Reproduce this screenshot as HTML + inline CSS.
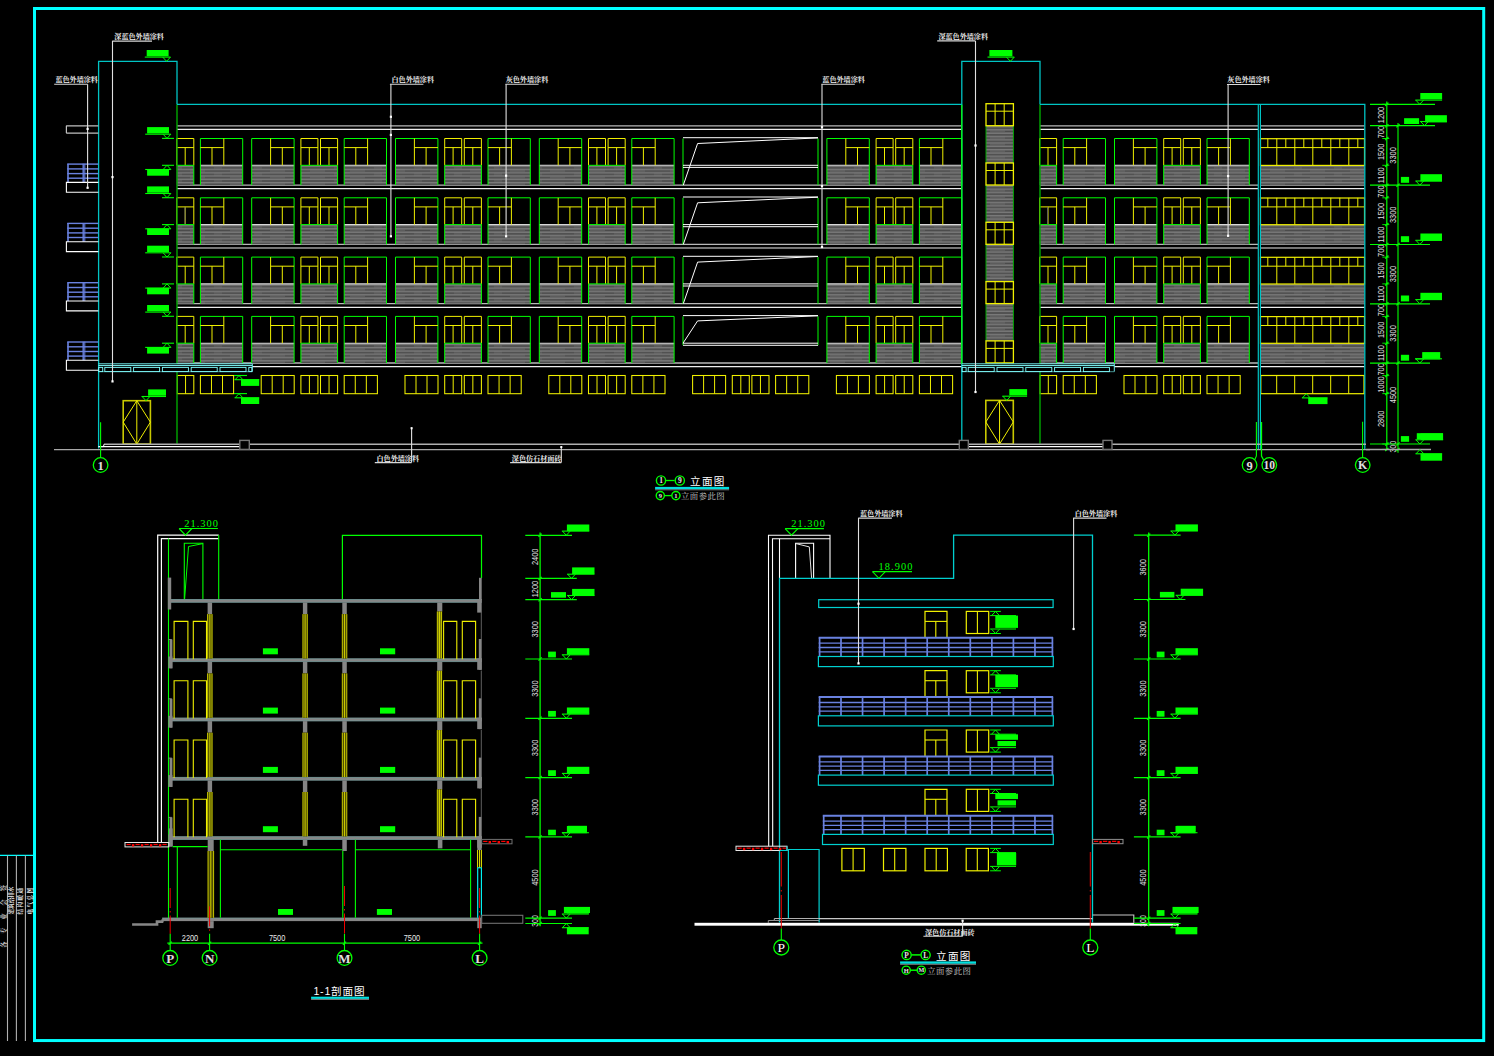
<!DOCTYPE html>
<html><head><meta charset="utf-8"><title>立面图</title>
<style>html,body{margin:0;padding:0;background:#000;}body{width:1494px;height:1056px;overflow:hidden}svg{display:block}</style>
</head><body>
<svg width="1494" height="1056" viewBox="0 0 1494 1056">
<defs>
<pattern id="hatch" width="40" height="6.6" patternUnits="userSpaceOnUse">
<rect width="40" height="6.6" fill="#5c5c5c"/>
<path d="M0 1.1H40M0 4.4H40" stroke="#848484" stroke-width="1"/>
<path d="M0 2.8H14M22 2.8H40M5 6H30" stroke="#444444" stroke-width="0.9"/>
</pattern>
</defs>
<rect width="1494" height="1056" fill="#000"/>
<line x1="177" y1="125.8" x2="962" y2="125.8" stroke="#b8b8b8" stroke-width="1.3"/>
<line x1="177" y1="129.4" x2="962" y2="129.4" stroke="#ececec" stroke-width="1.2"/>
<line x1="1040" y1="125.8" x2="1258" y2="125.8" stroke="#b8b8b8" stroke-width="1.3"/>
<line x1="1040" y1="129.4" x2="1258" y2="129.4" stroke="#ececec" stroke-width="1.2"/>
<line x1="1260.5" y1="125.8" x2="1364.5" y2="125.8" stroke="#b8b8b8" stroke-width="1.3"/>
<line x1="1260.5" y1="129.4" x2="1364.5" y2="129.4" stroke="#ececec" stroke-width="1.2"/>
<line x1="177" y1="185.1" x2="962" y2="185.1" stroke="#b8b8b8" stroke-width="1.3"/>
<line x1="177" y1="188.7" x2="962" y2="188.7" stroke="#ececec" stroke-width="1.2"/>
<line x1="1040" y1="185.1" x2="1258" y2="185.1" stroke="#b8b8b8" stroke-width="1.3"/>
<line x1="1040" y1="188.7" x2="1258" y2="188.7" stroke="#ececec" stroke-width="1.2"/>
<line x1="1260.5" y1="185.1" x2="1364.5" y2="185.1" stroke="#b8b8b8" stroke-width="1.3"/>
<line x1="1260.5" y1="188.7" x2="1364.5" y2="188.7" stroke="#ececec" stroke-width="1.2"/>
<line x1="177" y1="244.4" x2="962" y2="244.4" stroke="#b8b8b8" stroke-width="1.3"/>
<line x1="177" y1="248" x2="962" y2="248" stroke="#ececec" stroke-width="1.2"/>
<line x1="1040" y1="244.4" x2="1258" y2="244.4" stroke="#b8b8b8" stroke-width="1.3"/>
<line x1="1040" y1="248" x2="1258" y2="248" stroke="#ececec" stroke-width="1.2"/>
<line x1="1260.5" y1="244.4" x2="1364.5" y2="244.4" stroke="#b8b8b8" stroke-width="1.3"/>
<line x1="1260.5" y1="248" x2="1364.5" y2="248" stroke="#ececec" stroke-width="1.2"/>
<line x1="177" y1="303.7" x2="962" y2="303.7" stroke="#b8b8b8" stroke-width="1.3"/>
<line x1="177" y1="307.3" x2="962" y2="307.3" stroke="#ececec" stroke-width="1.2"/>
<line x1="1040" y1="303.7" x2="1258" y2="303.7" stroke="#b8b8b8" stroke-width="1.3"/>
<line x1="1040" y1="307.3" x2="1258" y2="307.3" stroke="#ececec" stroke-width="1.2"/>
<line x1="1260.5" y1="303.7" x2="1364.5" y2="303.7" stroke="#b8b8b8" stroke-width="1.3"/>
<line x1="1260.5" y1="307.3" x2="1364.5" y2="307.3" stroke="#ececec" stroke-width="1.2"/>
<line x1="177" y1="363" x2="962" y2="363" stroke="#b8b8b8" stroke-width="1.3"/>
<line x1="252.3" y1="366.6" x2="962" y2="366.6" stroke="#ececec" stroke-width="1.2"/>
<line x1="1040" y1="363" x2="1258" y2="363" stroke="#b8b8b8" stroke-width="1.3"/>
<line x1="1114.3" y1="366.6" x2="1258" y2="366.6" stroke="#ececec" stroke-width="1.2"/>
<line x1="1260.5" y1="363" x2="1364.5" y2="363" stroke="#b8b8b8" stroke-width="1.3"/>
<line x1="1260.5" y1="366.6" x2="1364.5" y2="366.6" stroke="#ececec" stroke-width="1.2"/>
<rect x="176.7" y="165.3" width="17.1" height="19.8" stroke="none" fill="url(#hatch)" stroke-width="1"/>
<polyline points="176.7,165.3 176.7,138.5 193.8,138.5 193.8,165.3" stroke="#f0f000" stroke-width="1" fill="none"/>
<line x1="176.7" y1="147.6" x2="193.8" y2="147.6" stroke="#f0f000" stroke-width="1"/>
<line x1="185.2" y1="147.6" x2="185.2" y2="165.3" stroke="#f0f000" stroke-width="1"/>
<polyline points="176.7,165.3 193.8,165.3 193.8,185.1" stroke="#00ff00" stroke-width="1" fill="none"/>
<rect x="200.4" y="165.3" width="42.3" height="19.8" stroke="none" fill="url(#hatch)" stroke-width="1"/>
<line x1="200.4" y1="165.3" x2="242.7" y2="165.3" stroke="#d8d8d8" stroke-width="1.1"/>
<polyline points="200.4,185.1 200.4,138.5 242.7,138.5 242.7,185.1" stroke="#00ff00" stroke-width="1" fill="none"/>
<line x1="223.8" y1="138.5" x2="223.8" y2="165.3" stroke="#f0f000" stroke-width="1"/>
<line x1="200.4" y1="147.6" x2="223.8" y2="147.6" stroke="#f0f000" stroke-width="1"/>
<line x1="212" y1="147.6" x2="212" y2="165.3" stroke="#f0f000" stroke-width="1"/>
<rect x="251.7" y="165.3" width="42.4" height="19.8" stroke="none" fill="url(#hatch)" stroke-width="1"/>
<line x1="251.7" y1="165.3" x2="294.1" y2="165.3" stroke="#d8d8d8" stroke-width="1.1"/>
<polyline points="251.7,185.1 251.7,138.5 294.1,138.5 294.1,185.1" stroke="#00ff00" stroke-width="1" fill="none"/>
<line x1="270.6" y1="138.5" x2="270.6" y2="165.3" stroke="#f0f000" stroke-width="1"/>
<line x1="270.6" y1="147.6" x2="294.1" y2="147.6" stroke="#f0f000" stroke-width="1"/>
<line x1="282.3" y1="147.6" x2="282.3" y2="165.3" stroke="#f0f000" stroke-width="1"/>
<rect x="300.9" y="165.3" width="36.7" height="19.8" stroke="none" fill="url(#hatch)" stroke-width="1"/>
<polyline points="300.9,165.3 300.9,138.5 317.9,138.5 317.9,165.3" stroke="#f0f000" stroke-width="1" fill="none"/>
<line x1="300.9" y1="147.6" x2="317.9" y2="147.6" stroke="#f0f000" stroke-width="1"/>
<line x1="309.3" y1="147.6" x2="309.3" y2="165.3" stroke="#f0f000" stroke-width="1"/>
<polyline points="320.5,165.3 320.5,138.5 337.6,138.5 337.6,165.3" stroke="#f0f000" stroke-width="1" fill="none"/>
<line x1="320.5" y1="147.6" x2="337.6" y2="147.6" stroke="#f0f000" stroke-width="1"/>
<line x1="329" y1="147.6" x2="329" y2="165.3" stroke="#f0f000" stroke-width="1"/>
<polyline points="300.9,185.1 300.9,165.3 337.6,165.3 337.6,185.1" stroke="#00ff00" stroke-width="1" fill="none"/>
<rect x="344.2" y="165.3" width="42.3" height="19.8" stroke="none" fill="url(#hatch)" stroke-width="1"/>
<line x1="344.2" y1="165.3" x2="386.5" y2="165.3" stroke="#d8d8d8" stroke-width="1.1"/>
<polyline points="344.2,185.1 344.2,138.5 386.5,138.5 386.5,185.1" stroke="#00ff00" stroke-width="1" fill="none"/>
<line x1="367.6" y1="138.5" x2="367.6" y2="165.3" stroke="#f0f000" stroke-width="1"/>
<line x1="344.2" y1="147.6" x2="367.6" y2="147.6" stroke="#f0f000" stroke-width="1"/>
<line x1="355.8" y1="147.6" x2="355.8" y2="165.3" stroke="#f0f000" stroke-width="1"/>
<rect x="395.5" y="165.3" width="42.4" height="19.8" stroke="none" fill="url(#hatch)" stroke-width="1"/>
<line x1="395.5" y1="165.3" x2="437.9" y2="165.3" stroke="#d8d8d8" stroke-width="1.1"/>
<polyline points="395.5,185.1 395.5,138.5 437.9,138.5 437.9,185.1" stroke="#00ff00" stroke-width="1" fill="none"/>
<line x1="414.4" y1="138.5" x2="414.4" y2="165.3" stroke="#f0f000" stroke-width="1"/>
<line x1="414.4" y1="147.6" x2="437.9" y2="147.6" stroke="#f0f000" stroke-width="1"/>
<line x1="426.1" y1="147.6" x2="426.1" y2="165.3" stroke="#f0f000" stroke-width="1"/>
<rect x="444.7" y="165.3" width="36.7" height="19.8" stroke="none" fill="url(#hatch)" stroke-width="1"/>
<polyline points="444.7,165.3 444.7,138.5 461.7,138.5 461.7,165.3" stroke="#f0f000" stroke-width="1" fill="none"/>
<line x1="444.7" y1="147.6" x2="461.7" y2="147.6" stroke="#f0f000" stroke-width="1"/>
<line x1="453.1" y1="147.6" x2="453.1" y2="165.3" stroke="#f0f000" stroke-width="1"/>
<polyline points="464.3,165.3 464.3,138.5 481.4,138.5 481.4,165.3" stroke="#f0f000" stroke-width="1" fill="none"/>
<line x1="464.3" y1="147.6" x2="481.4" y2="147.6" stroke="#f0f000" stroke-width="1"/>
<line x1="472.8" y1="147.6" x2="472.8" y2="165.3" stroke="#f0f000" stroke-width="1"/>
<polyline points="444.7,185.1 444.7,165.3 481.4,165.3 481.4,185.1" stroke="#00ff00" stroke-width="1" fill="none"/>
<rect x="488" y="165.3" width="42.3" height="19.8" stroke="none" fill="url(#hatch)" stroke-width="1"/>
<line x1="488" y1="165.3" x2="530.3" y2="165.3" stroke="#d8d8d8" stroke-width="1.1"/>
<polyline points="488,185.1 488,138.5 530.3,138.5 530.3,185.1" stroke="#00ff00" stroke-width="1" fill="none"/>
<line x1="511.4" y1="138.5" x2="511.4" y2="165.3" stroke="#f0f000" stroke-width="1"/>
<line x1="488" y1="147.6" x2="511.4" y2="147.6" stroke="#f0f000" stroke-width="1"/>
<line x1="499.6" y1="147.6" x2="499.6" y2="165.3" stroke="#f0f000" stroke-width="1"/>
<rect x="539.3" y="165.3" width="42.4" height="19.8" stroke="none" fill="url(#hatch)" stroke-width="1"/>
<line x1="539.3" y1="165.3" x2="581.7" y2="165.3" stroke="#d8d8d8" stroke-width="1.1"/>
<polyline points="539.3,185.1 539.3,138.5 581.7,138.5 581.7,185.1" stroke="#00ff00" stroke-width="1" fill="none"/>
<line x1="558.2" y1="138.5" x2="558.2" y2="165.3" stroke="#f0f000" stroke-width="1"/>
<line x1="558.2" y1="147.6" x2="581.7" y2="147.6" stroke="#f0f000" stroke-width="1"/>
<line x1="569.9" y1="147.6" x2="569.9" y2="165.3" stroke="#f0f000" stroke-width="1"/>
<rect x="588.5" y="165.3" width="36.7" height="19.8" stroke="none" fill="url(#hatch)" stroke-width="1"/>
<polyline points="588.5,165.3 588.5,138.5 605.5,138.5 605.5,165.3" stroke="#f0f000" stroke-width="1" fill="none"/>
<line x1="588.5" y1="147.6" x2="605.5" y2="147.6" stroke="#f0f000" stroke-width="1"/>
<line x1="596.9" y1="147.6" x2="596.9" y2="165.3" stroke="#f0f000" stroke-width="1"/>
<polyline points="608.1,165.3 608.1,138.5 625.2,138.5 625.2,165.3" stroke="#f0f000" stroke-width="1" fill="none"/>
<line x1="608.1" y1="147.6" x2="625.2" y2="147.6" stroke="#f0f000" stroke-width="1"/>
<line x1="616.6" y1="147.6" x2="616.6" y2="165.3" stroke="#f0f000" stroke-width="1"/>
<polyline points="588.5,185.1 588.5,165.3 625.2,165.3 625.2,185.1" stroke="#00ff00" stroke-width="1" fill="none"/>
<rect x="631.8" y="165.3" width="42.3" height="19.8" stroke="none" fill="url(#hatch)" stroke-width="1"/>
<line x1="631.8" y1="165.3" x2="674.1" y2="165.3" stroke="#d8d8d8" stroke-width="1.1"/>
<polyline points="631.8,185.1 631.8,138.5 674.1,138.5 674.1,185.1" stroke="#00ff00" stroke-width="1" fill="none"/>
<line x1="655.2" y1="138.5" x2="655.2" y2="165.3" stroke="#f0f000" stroke-width="1"/>
<line x1="631.8" y1="147.6" x2="655.2" y2="147.6" stroke="#f0f000" stroke-width="1"/>
<line x1="643.4" y1="147.6" x2="643.4" y2="165.3" stroke="#f0f000" stroke-width="1"/>
<rect x="826.9" y="165.3" width="42.4" height="19.8" stroke="none" fill="url(#hatch)" stroke-width="1"/>
<line x1="826.9" y1="165.3" x2="869.3" y2="165.3" stroke="#d8d8d8" stroke-width="1.1"/>
<polyline points="826.9,185.1 826.9,138.5 869.3,138.5 869.3,185.1" stroke="#00ff00" stroke-width="1" fill="none"/>
<line x1="845.8" y1="138.5" x2="845.8" y2="165.3" stroke="#f0f000" stroke-width="1"/>
<line x1="845.8" y1="147.6" x2="869.3" y2="147.6" stroke="#f0f000" stroke-width="1"/>
<line x1="857.5" y1="147.6" x2="857.5" y2="165.3" stroke="#f0f000" stroke-width="1"/>
<rect x="876.1" y="165.3" width="36.7" height="19.8" stroke="none" fill="url(#hatch)" stroke-width="1"/>
<polyline points="876.1,165.3 876.1,138.5 893.1,138.5 893.1,165.3" stroke="#f0f000" stroke-width="1" fill="none"/>
<line x1="876.1" y1="147.6" x2="893.1" y2="147.6" stroke="#f0f000" stroke-width="1"/>
<line x1="884.5" y1="147.6" x2="884.5" y2="165.3" stroke="#f0f000" stroke-width="1"/>
<polyline points="895.7,165.3 895.7,138.5 912.8,138.5 912.8,165.3" stroke="#f0f000" stroke-width="1" fill="none"/>
<line x1="895.7" y1="147.6" x2="912.8" y2="147.6" stroke="#f0f000" stroke-width="1"/>
<line x1="904.2" y1="147.6" x2="904.2" y2="165.3" stroke="#f0f000" stroke-width="1"/>
<polyline points="876.1,185.1 876.1,165.3 912.8,165.3 912.8,185.1" stroke="#00ff00" stroke-width="1" fill="none"/>
<rect x="919.4" y="165.3" width="42.3" height="19.8" stroke="none" fill="url(#hatch)" stroke-width="1"/>
<line x1="919.4" y1="165.3" x2="961.7" y2="165.3" stroke="#d8d8d8" stroke-width="1.1"/>
<polyline points="919.4,185.1 919.4,138.5 961.7,138.5 961.7,185.1" stroke="#00ff00" stroke-width="1" fill="none"/>
<line x1="942.8" y1="138.5" x2="942.8" y2="165.3" stroke="#f0f000" stroke-width="1"/>
<line x1="919.4" y1="147.6" x2="942.8" y2="147.6" stroke="#f0f000" stroke-width="1"/>
<line x1="931" y1="147.6" x2="931" y2="165.3" stroke="#f0f000" stroke-width="1"/>
<rect x="1063.2" y="165.3" width="42.3" height="19.8" stroke="none" fill="url(#hatch)" stroke-width="1"/>
<line x1="1063.2" y1="165.3" x2="1105.5" y2="165.3" stroke="#d8d8d8" stroke-width="1.1"/>
<polyline points="1063.2,185.1 1063.2,138.5 1105.5,138.5 1105.5,185.1" stroke="#00ff00" stroke-width="1" fill="none"/>
<line x1="1086.6" y1="138.5" x2="1086.6" y2="165.3" stroke="#f0f000" stroke-width="1"/>
<line x1="1063.2" y1="147.6" x2="1086.6" y2="147.6" stroke="#f0f000" stroke-width="1"/>
<line x1="1074.8" y1="147.6" x2="1074.8" y2="165.3" stroke="#f0f000" stroke-width="1"/>
<rect x="1114.5" y="165.3" width="42.4" height="19.8" stroke="none" fill="url(#hatch)" stroke-width="1"/>
<line x1="1114.5" y1="165.3" x2="1156.9" y2="165.3" stroke="#d8d8d8" stroke-width="1.1"/>
<polyline points="1114.5,185.1 1114.5,138.5 1156.9,138.5 1156.9,185.1" stroke="#00ff00" stroke-width="1" fill="none"/>
<line x1="1133.4" y1="138.5" x2="1133.4" y2="165.3" stroke="#f0f000" stroke-width="1"/>
<line x1="1133.4" y1="147.6" x2="1156.9" y2="147.6" stroke="#f0f000" stroke-width="1"/>
<line x1="1145.1" y1="147.6" x2="1145.1" y2="165.3" stroke="#f0f000" stroke-width="1"/>
<rect x="1163.7" y="165.3" width="36.7" height="19.8" stroke="none" fill="url(#hatch)" stroke-width="1"/>
<polyline points="1163.7,165.3 1163.7,138.5 1180.7,138.5 1180.7,165.3" stroke="#f0f000" stroke-width="1" fill="none"/>
<line x1="1163.7" y1="147.6" x2="1180.7" y2="147.6" stroke="#f0f000" stroke-width="1"/>
<line x1="1172.1" y1="147.6" x2="1172.1" y2="165.3" stroke="#f0f000" stroke-width="1"/>
<polyline points="1183.3,165.3 1183.3,138.5 1200.4,138.5 1200.4,165.3" stroke="#f0f000" stroke-width="1" fill="none"/>
<line x1="1183.3" y1="147.6" x2="1200.4" y2="147.6" stroke="#f0f000" stroke-width="1"/>
<line x1="1191.8" y1="147.6" x2="1191.8" y2="165.3" stroke="#f0f000" stroke-width="1"/>
<polyline points="1163.7,185.1 1163.7,165.3 1200.4,165.3 1200.4,185.1" stroke="#00ff00" stroke-width="1" fill="none"/>
<rect x="1207" y="165.3" width="42.3" height="19.8" stroke="none" fill="url(#hatch)" stroke-width="1"/>
<line x1="1207" y1="165.3" x2="1249.3" y2="165.3" stroke="#d8d8d8" stroke-width="1.1"/>
<polyline points="1207,185.1 1207,138.5 1249.3,138.5 1249.3,185.1" stroke="#00ff00" stroke-width="1" fill="none"/>
<line x1="1230.4" y1="138.5" x2="1230.4" y2="165.3" stroke="#f0f000" stroke-width="1"/>
<line x1="1207" y1="147.6" x2="1230.4" y2="147.6" stroke="#f0f000" stroke-width="1"/>
<line x1="1218.6" y1="147.6" x2="1218.6" y2="165.3" stroke="#f0f000" stroke-width="1"/>
<rect x="1039.5" y="165.3" width="17.1" height="19.8" stroke="none" fill="url(#hatch)" stroke-width="1"/>
<polyline points="1039.5,165.3 1039.5,138.5 1056.6,138.5 1056.6,165.3" stroke="#f0f000" stroke-width="1" fill="none"/>
<line x1="1039.5" y1="147.6" x2="1056.6" y2="147.6" stroke="#f0f000" stroke-width="1"/>
<line x1="1048" y1="147.6" x2="1048" y2="165.3" stroke="#f0f000" stroke-width="1"/>
<polyline points="1039.5,165.3 1056.6,165.3 1056.6,185.1" stroke="#00ff00" stroke-width="1" fill="none"/>
<line x1="683" y1="138.5" x2="683" y2="185.1" stroke="#00ff00" stroke-width="1"/>
<line x1="818" y1="138.5" x2="818" y2="185.1" stroke="#00ff00" stroke-width="1"/>
<line x1="683" y1="137.7" x2="818" y2="137.7" stroke="#ffffff" stroke-width="1"/>
<polyline points="683.3,185.1 697.6,143.5 818,137.9" stroke="#ffffff" stroke-width="1" fill="none"/>
<line x1="683" y1="165.3" x2="818" y2="165.3" stroke="#ffffff" stroke-width="1"/>
<line x1="683" y1="167.4" x2="818" y2="167.4" stroke="#ffffff" stroke-width="1"/>
<rect x="1260.5" y="165.4" width="104" height="19.8" stroke="none" fill="url(#hatch)" stroke-width="1"/>
<rect x="1260.5" y="138.7" width="104" height="26.7" stroke="#f0f000" fill="none" stroke-width="1.2"/>
<line x1="1260.5" y1="147.6" x2="1364.5" y2="147.6" stroke="#f0f000" stroke-width="1"/>
<line x1="1267.8" y1="138.5" x2="1267.8" y2="147.6" stroke="#f0f000" stroke-width="1"/>
<line x1="1276.8" y1="138.5" x2="1276.8" y2="147.6" stroke="#f0f000" stroke-width="1"/>
<line x1="1285.8" y1="138.5" x2="1285.8" y2="147.6" stroke="#f0f000" stroke-width="1"/>
<line x1="1294.8" y1="138.5" x2="1294.8" y2="147.6" stroke="#f0f000" stroke-width="1"/>
<line x1="1303.8" y1="138.5" x2="1303.8" y2="147.6" stroke="#f0f000" stroke-width="1"/>
<line x1="1312.8" y1="138.5" x2="1312.8" y2="147.6" stroke="#f0f000" stroke-width="1"/>
<line x1="1321.8" y1="138.5" x2="1321.8" y2="147.6" stroke="#f0f000" stroke-width="1"/>
<line x1="1330.8" y1="138.5" x2="1330.8" y2="147.6" stroke="#f0f000" stroke-width="1"/>
<line x1="1339.8" y1="138.5" x2="1339.8" y2="147.6" stroke="#f0f000" stroke-width="1"/>
<line x1="1348.8" y1="138.5" x2="1348.8" y2="147.6" stroke="#f0f000" stroke-width="1"/>
<line x1="1357.8" y1="138.5" x2="1357.8" y2="147.6" stroke="#f0f000" stroke-width="1"/>
<line x1="1276.8" y1="147.6" x2="1276.8" y2="165.4" stroke="#f0f000" stroke-width="1"/>
<line x1="1294.8" y1="147.6" x2="1294.8" y2="165.4" stroke="#f0f000" stroke-width="1"/>
<line x1="1312.8" y1="147.6" x2="1312.8" y2="165.4" stroke="#f0f000" stroke-width="1"/>
<line x1="1330.8" y1="147.6" x2="1330.8" y2="165.4" stroke="#f0f000" stroke-width="1"/>
<line x1="1348.8" y1="147.6" x2="1348.8" y2="165.4" stroke="#f0f000" stroke-width="1"/>
<rect x="176.7" y="224.6" width="17.1" height="19.8" stroke="none" fill="url(#hatch)" stroke-width="1"/>
<polyline points="176.7,224.6 176.7,197.8 193.8,197.8 193.8,224.6" stroke="#f0f000" stroke-width="1" fill="none"/>
<line x1="176.7" y1="206.9" x2="193.8" y2="206.9" stroke="#f0f000" stroke-width="1"/>
<line x1="185.2" y1="206.9" x2="185.2" y2="224.6" stroke="#f0f000" stroke-width="1"/>
<polyline points="176.7,224.6 193.8,224.6 193.8,244.4" stroke="#00ff00" stroke-width="1" fill="none"/>
<rect x="200.4" y="224.6" width="42.3" height="19.8" stroke="none" fill="url(#hatch)" stroke-width="1"/>
<line x1="200.4" y1="224.6" x2="242.7" y2="224.6" stroke="#d8d8d8" stroke-width="1.1"/>
<polyline points="200.4,244.4 200.4,197.8 242.7,197.8 242.7,244.4" stroke="#00ff00" stroke-width="1" fill="none"/>
<line x1="223.8" y1="197.8" x2="223.8" y2="224.6" stroke="#f0f000" stroke-width="1"/>
<line x1="200.4" y1="206.9" x2="223.8" y2="206.9" stroke="#f0f000" stroke-width="1"/>
<line x1="212" y1="206.9" x2="212" y2="224.6" stroke="#f0f000" stroke-width="1"/>
<rect x="251.7" y="224.6" width="42.4" height="19.8" stroke="none" fill="url(#hatch)" stroke-width="1"/>
<line x1="251.7" y1="224.6" x2="294.1" y2="224.6" stroke="#d8d8d8" stroke-width="1.1"/>
<polyline points="251.7,244.4 251.7,197.8 294.1,197.8 294.1,244.4" stroke="#00ff00" stroke-width="1" fill="none"/>
<line x1="270.6" y1="197.8" x2="270.6" y2="224.6" stroke="#f0f000" stroke-width="1"/>
<line x1="270.6" y1="206.9" x2="294.1" y2="206.9" stroke="#f0f000" stroke-width="1"/>
<line x1="282.3" y1="206.9" x2="282.3" y2="224.6" stroke="#f0f000" stroke-width="1"/>
<rect x="300.9" y="224.6" width="36.7" height="19.8" stroke="none" fill="url(#hatch)" stroke-width="1"/>
<polyline points="300.9,224.6 300.9,197.8 317.9,197.8 317.9,224.6" stroke="#f0f000" stroke-width="1" fill="none"/>
<line x1="300.9" y1="206.9" x2="317.9" y2="206.9" stroke="#f0f000" stroke-width="1"/>
<line x1="309.3" y1="206.9" x2="309.3" y2="224.6" stroke="#f0f000" stroke-width="1"/>
<polyline points="320.5,224.6 320.5,197.8 337.6,197.8 337.6,224.6" stroke="#f0f000" stroke-width="1" fill="none"/>
<line x1="320.5" y1="206.9" x2="337.6" y2="206.9" stroke="#f0f000" stroke-width="1"/>
<line x1="329" y1="206.9" x2="329" y2="224.6" stroke="#f0f000" stroke-width="1"/>
<polyline points="300.9,244.4 300.9,224.6 337.6,224.6 337.6,244.4" stroke="#00ff00" stroke-width="1" fill="none"/>
<rect x="344.2" y="224.6" width="42.3" height="19.8" stroke="none" fill="url(#hatch)" stroke-width="1"/>
<line x1="344.2" y1="224.6" x2="386.5" y2="224.6" stroke="#d8d8d8" stroke-width="1.1"/>
<polyline points="344.2,244.4 344.2,197.8 386.5,197.8 386.5,244.4" stroke="#00ff00" stroke-width="1" fill="none"/>
<line x1="367.6" y1="197.8" x2="367.6" y2="224.6" stroke="#f0f000" stroke-width="1"/>
<line x1="344.2" y1="206.9" x2="367.6" y2="206.9" stroke="#f0f000" stroke-width="1"/>
<line x1="355.8" y1="206.9" x2="355.8" y2="224.6" stroke="#f0f000" stroke-width="1"/>
<rect x="395.5" y="224.6" width="42.4" height="19.8" stroke="none" fill="url(#hatch)" stroke-width="1"/>
<line x1="395.5" y1="224.6" x2="437.9" y2="224.6" stroke="#d8d8d8" stroke-width="1.1"/>
<polyline points="395.5,244.4 395.5,197.8 437.9,197.8 437.9,244.4" stroke="#00ff00" stroke-width="1" fill="none"/>
<line x1="414.4" y1="197.8" x2="414.4" y2="224.6" stroke="#f0f000" stroke-width="1"/>
<line x1="414.4" y1="206.9" x2="437.9" y2="206.9" stroke="#f0f000" stroke-width="1"/>
<line x1="426.1" y1="206.9" x2="426.1" y2="224.6" stroke="#f0f000" stroke-width="1"/>
<rect x="444.7" y="224.6" width="36.7" height="19.8" stroke="none" fill="url(#hatch)" stroke-width="1"/>
<polyline points="444.7,224.6 444.7,197.8 461.7,197.8 461.7,224.6" stroke="#f0f000" stroke-width="1" fill="none"/>
<line x1="444.7" y1="206.9" x2="461.7" y2="206.9" stroke="#f0f000" stroke-width="1"/>
<line x1="453.1" y1="206.9" x2="453.1" y2="224.6" stroke="#f0f000" stroke-width="1"/>
<polyline points="464.3,224.6 464.3,197.8 481.4,197.8 481.4,224.6" stroke="#f0f000" stroke-width="1" fill="none"/>
<line x1="464.3" y1="206.9" x2="481.4" y2="206.9" stroke="#f0f000" stroke-width="1"/>
<line x1="472.8" y1="206.9" x2="472.8" y2="224.6" stroke="#f0f000" stroke-width="1"/>
<polyline points="444.7,244.4 444.7,224.6 481.4,224.6 481.4,244.4" stroke="#00ff00" stroke-width="1" fill="none"/>
<rect x="488" y="224.6" width="42.3" height="19.8" stroke="none" fill="url(#hatch)" stroke-width="1"/>
<line x1="488" y1="224.6" x2="530.3" y2="224.6" stroke="#d8d8d8" stroke-width="1.1"/>
<polyline points="488,244.4 488,197.8 530.3,197.8 530.3,244.4" stroke="#00ff00" stroke-width="1" fill="none"/>
<line x1="511.4" y1="197.8" x2="511.4" y2="224.6" stroke="#f0f000" stroke-width="1"/>
<line x1="488" y1="206.9" x2="511.4" y2="206.9" stroke="#f0f000" stroke-width="1"/>
<line x1="499.6" y1="206.9" x2="499.6" y2="224.6" stroke="#f0f000" stroke-width="1"/>
<rect x="539.3" y="224.6" width="42.4" height="19.8" stroke="none" fill="url(#hatch)" stroke-width="1"/>
<line x1="539.3" y1="224.6" x2="581.7" y2="224.6" stroke="#d8d8d8" stroke-width="1.1"/>
<polyline points="539.3,244.4 539.3,197.8 581.7,197.8 581.7,244.4" stroke="#00ff00" stroke-width="1" fill="none"/>
<line x1="558.2" y1="197.8" x2="558.2" y2="224.6" stroke="#f0f000" stroke-width="1"/>
<line x1="558.2" y1="206.9" x2="581.7" y2="206.9" stroke="#f0f000" stroke-width="1"/>
<line x1="569.9" y1="206.9" x2="569.9" y2="224.6" stroke="#f0f000" stroke-width="1"/>
<rect x="588.5" y="224.6" width="36.7" height="19.8" stroke="none" fill="url(#hatch)" stroke-width="1"/>
<polyline points="588.5,224.6 588.5,197.8 605.5,197.8 605.5,224.6" stroke="#f0f000" stroke-width="1" fill="none"/>
<line x1="588.5" y1="206.9" x2="605.5" y2="206.9" stroke="#f0f000" stroke-width="1"/>
<line x1="596.9" y1="206.9" x2="596.9" y2="224.6" stroke="#f0f000" stroke-width="1"/>
<polyline points="608.1,224.6 608.1,197.8 625.2,197.8 625.2,224.6" stroke="#f0f000" stroke-width="1" fill="none"/>
<line x1="608.1" y1="206.9" x2="625.2" y2="206.9" stroke="#f0f000" stroke-width="1"/>
<line x1="616.6" y1="206.9" x2="616.6" y2="224.6" stroke="#f0f000" stroke-width="1"/>
<polyline points="588.5,244.4 588.5,224.6 625.2,224.6 625.2,244.4" stroke="#00ff00" stroke-width="1" fill="none"/>
<rect x="631.8" y="224.6" width="42.3" height="19.8" stroke="none" fill="url(#hatch)" stroke-width="1"/>
<line x1="631.8" y1="224.6" x2="674.1" y2="224.6" stroke="#d8d8d8" stroke-width="1.1"/>
<polyline points="631.8,244.4 631.8,197.8 674.1,197.8 674.1,244.4" stroke="#00ff00" stroke-width="1" fill="none"/>
<line x1="655.2" y1="197.8" x2="655.2" y2="224.6" stroke="#f0f000" stroke-width="1"/>
<line x1="631.8" y1="206.9" x2="655.2" y2="206.9" stroke="#f0f000" stroke-width="1"/>
<line x1="643.4" y1="206.9" x2="643.4" y2="224.6" stroke="#f0f000" stroke-width="1"/>
<rect x="826.9" y="224.6" width="42.4" height="19.8" stroke="none" fill="url(#hatch)" stroke-width="1"/>
<line x1="826.9" y1="224.6" x2="869.3" y2="224.6" stroke="#d8d8d8" stroke-width="1.1"/>
<polyline points="826.9,244.4 826.9,197.8 869.3,197.8 869.3,244.4" stroke="#00ff00" stroke-width="1" fill="none"/>
<line x1="845.8" y1="197.8" x2="845.8" y2="224.6" stroke="#f0f000" stroke-width="1"/>
<line x1="845.8" y1="206.9" x2="869.3" y2="206.9" stroke="#f0f000" stroke-width="1"/>
<line x1="857.5" y1="206.9" x2="857.5" y2="224.6" stroke="#f0f000" stroke-width="1"/>
<rect x="876.1" y="224.6" width="36.7" height="19.8" stroke="none" fill="url(#hatch)" stroke-width="1"/>
<polyline points="876.1,224.6 876.1,197.8 893.1,197.8 893.1,224.6" stroke="#f0f000" stroke-width="1" fill="none"/>
<line x1="876.1" y1="206.9" x2="893.1" y2="206.9" stroke="#f0f000" stroke-width="1"/>
<line x1="884.5" y1="206.9" x2="884.5" y2="224.6" stroke="#f0f000" stroke-width="1"/>
<polyline points="895.7,224.6 895.7,197.8 912.8,197.8 912.8,224.6" stroke="#f0f000" stroke-width="1" fill="none"/>
<line x1="895.7" y1="206.9" x2="912.8" y2="206.9" stroke="#f0f000" stroke-width="1"/>
<line x1="904.2" y1="206.9" x2="904.2" y2="224.6" stroke="#f0f000" stroke-width="1"/>
<polyline points="876.1,244.4 876.1,224.6 912.8,224.6 912.8,244.4" stroke="#00ff00" stroke-width="1" fill="none"/>
<rect x="919.4" y="224.6" width="42.3" height="19.8" stroke="none" fill="url(#hatch)" stroke-width="1"/>
<line x1="919.4" y1="224.6" x2="961.7" y2="224.6" stroke="#d8d8d8" stroke-width="1.1"/>
<polyline points="919.4,244.4 919.4,197.8 961.7,197.8 961.7,244.4" stroke="#00ff00" stroke-width="1" fill="none"/>
<line x1="942.8" y1="197.8" x2="942.8" y2="224.6" stroke="#f0f000" stroke-width="1"/>
<line x1="919.4" y1="206.9" x2="942.8" y2="206.9" stroke="#f0f000" stroke-width="1"/>
<line x1="931" y1="206.9" x2="931" y2="224.6" stroke="#f0f000" stroke-width="1"/>
<rect x="1063.2" y="224.6" width="42.3" height="19.8" stroke="none" fill="url(#hatch)" stroke-width="1"/>
<line x1="1063.2" y1="224.6" x2="1105.5" y2="224.6" stroke="#d8d8d8" stroke-width="1.1"/>
<polyline points="1063.2,244.4 1063.2,197.8 1105.5,197.8 1105.5,244.4" stroke="#00ff00" stroke-width="1" fill="none"/>
<line x1="1086.6" y1="197.8" x2="1086.6" y2="224.6" stroke="#f0f000" stroke-width="1"/>
<line x1="1063.2" y1="206.9" x2="1086.6" y2="206.9" stroke="#f0f000" stroke-width="1"/>
<line x1="1074.8" y1="206.9" x2="1074.8" y2="224.6" stroke="#f0f000" stroke-width="1"/>
<rect x="1114.5" y="224.6" width="42.4" height="19.8" stroke="none" fill="url(#hatch)" stroke-width="1"/>
<line x1="1114.5" y1="224.6" x2="1156.9" y2="224.6" stroke="#d8d8d8" stroke-width="1.1"/>
<polyline points="1114.5,244.4 1114.5,197.8 1156.9,197.8 1156.9,244.4" stroke="#00ff00" stroke-width="1" fill="none"/>
<line x1="1133.4" y1="197.8" x2="1133.4" y2="224.6" stroke="#f0f000" stroke-width="1"/>
<line x1="1133.4" y1="206.9" x2="1156.9" y2="206.9" stroke="#f0f000" stroke-width="1"/>
<line x1="1145.1" y1="206.9" x2="1145.1" y2="224.6" stroke="#f0f000" stroke-width="1"/>
<rect x="1163.7" y="224.6" width="36.7" height="19.8" stroke="none" fill="url(#hatch)" stroke-width="1"/>
<polyline points="1163.7,224.6 1163.7,197.8 1180.7,197.8 1180.7,224.6" stroke="#f0f000" stroke-width="1" fill="none"/>
<line x1="1163.7" y1="206.9" x2="1180.7" y2="206.9" stroke="#f0f000" stroke-width="1"/>
<line x1="1172.1" y1="206.9" x2="1172.1" y2="224.6" stroke="#f0f000" stroke-width="1"/>
<polyline points="1183.3,224.6 1183.3,197.8 1200.4,197.8 1200.4,224.6" stroke="#f0f000" stroke-width="1" fill="none"/>
<line x1="1183.3" y1="206.9" x2="1200.4" y2="206.9" stroke="#f0f000" stroke-width="1"/>
<line x1="1191.8" y1="206.9" x2="1191.8" y2="224.6" stroke="#f0f000" stroke-width="1"/>
<polyline points="1163.7,244.4 1163.7,224.6 1200.4,224.6 1200.4,244.4" stroke="#00ff00" stroke-width="1" fill="none"/>
<rect x="1207" y="224.6" width="42.3" height="19.8" stroke="none" fill="url(#hatch)" stroke-width="1"/>
<line x1="1207" y1="224.6" x2="1249.3" y2="224.6" stroke="#d8d8d8" stroke-width="1.1"/>
<polyline points="1207,244.4 1207,197.8 1249.3,197.8 1249.3,244.4" stroke="#00ff00" stroke-width="1" fill="none"/>
<line x1="1230.4" y1="197.8" x2="1230.4" y2="224.6" stroke="#f0f000" stroke-width="1"/>
<line x1="1207" y1="206.9" x2="1230.4" y2="206.9" stroke="#f0f000" stroke-width="1"/>
<line x1="1218.6" y1="206.9" x2="1218.6" y2="224.6" stroke="#f0f000" stroke-width="1"/>
<rect x="1039.5" y="224.6" width="17.1" height="19.8" stroke="none" fill="url(#hatch)" stroke-width="1"/>
<polyline points="1039.5,224.6 1039.5,197.8 1056.6,197.8 1056.6,224.6" stroke="#f0f000" stroke-width="1" fill="none"/>
<line x1="1039.5" y1="206.9" x2="1056.6" y2="206.9" stroke="#f0f000" stroke-width="1"/>
<line x1="1048" y1="206.9" x2="1048" y2="224.6" stroke="#f0f000" stroke-width="1"/>
<polyline points="1039.5,224.6 1056.6,224.6 1056.6,244.4" stroke="#00ff00" stroke-width="1" fill="none"/>
<line x1="683" y1="197.8" x2="683" y2="244.4" stroke="#00ff00" stroke-width="1"/>
<line x1="818" y1="197.8" x2="818" y2="244.4" stroke="#00ff00" stroke-width="1"/>
<line x1="683" y1="197" x2="818" y2="197" stroke="#ffffff" stroke-width="1"/>
<polyline points="683.3,244.4 697.6,202.8 818,197.2" stroke="#ffffff" stroke-width="1" fill="none"/>
<line x1="683" y1="224.6" x2="818" y2="224.6" stroke="#ffffff" stroke-width="1"/>
<line x1="683" y1="226.7" x2="818" y2="226.7" stroke="#ffffff" stroke-width="1"/>
<rect x="1260.5" y="224.7" width="104" height="19.8" stroke="none" fill="url(#hatch)" stroke-width="1"/>
<rect x="1260.5" y="198" width="104" height="26.7" stroke="#f0f000" fill="none" stroke-width="1.2"/>
<line x1="1260.5" y1="206.9" x2="1364.5" y2="206.9" stroke="#f0f000" stroke-width="1"/>
<line x1="1267.8" y1="197.8" x2="1267.8" y2="206.9" stroke="#f0f000" stroke-width="1"/>
<line x1="1276.8" y1="197.8" x2="1276.8" y2="206.9" stroke="#f0f000" stroke-width="1"/>
<line x1="1285.8" y1="197.8" x2="1285.8" y2="206.9" stroke="#f0f000" stroke-width="1"/>
<line x1="1294.8" y1="197.8" x2="1294.8" y2="206.9" stroke="#f0f000" stroke-width="1"/>
<line x1="1303.8" y1="197.8" x2="1303.8" y2="206.9" stroke="#f0f000" stroke-width="1"/>
<line x1="1312.8" y1="197.8" x2="1312.8" y2="206.9" stroke="#f0f000" stroke-width="1"/>
<line x1="1321.8" y1="197.8" x2="1321.8" y2="206.9" stroke="#f0f000" stroke-width="1"/>
<line x1="1330.8" y1="197.8" x2="1330.8" y2="206.9" stroke="#f0f000" stroke-width="1"/>
<line x1="1339.8" y1="197.8" x2="1339.8" y2="206.9" stroke="#f0f000" stroke-width="1"/>
<line x1="1348.8" y1="197.8" x2="1348.8" y2="206.9" stroke="#f0f000" stroke-width="1"/>
<line x1="1357.8" y1="197.8" x2="1357.8" y2="206.9" stroke="#f0f000" stroke-width="1"/>
<line x1="1276.8" y1="206.9" x2="1276.8" y2="224.7" stroke="#f0f000" stroke-width="1"/>
<line x1="1294.8" y1="206.9" x2="1294.8" y2="224.7" stroke="#f0f000" stroke-width="1"/>
<line x1="1312.8" y1="206.9" x2="1312.8" y2="224.7" stroke="#f0f000" stroke-width="1"/>
<line x1="1330.8" y1="206.9" x2="1330.8" y2="224.7" stroke="#f0f000" stroke-width="1"/>
<line x1="1348.8" y1="206.9" x2="1348.8" y2="224.7" stroke="#f0f000" stroke-width="1"/>
<rect x="176.7" y="283.9" width="17.1" height="19.8" stroke="none" fill="url(#hatch)" stroke-width="1"/>
<polyline points="176.7,283.9 176.7,257.1 193.8,257.1 193.8,283.9" stroke="#f0f000" stroke-width="1" fill="none"/>
<line x1="176.7" y1="266.2" x2="193.8" y2="266.2" stroke="#f0f000" stroke-width="1"/>
<line x1="185.2" y1="266.2" x2="185.2" y2="283.9" stroke="#f0f000" stroke-width="1"/>
<polyline points="176.7,283.9 193.8,283.9 193.8,303.7" stroke="#00ff00" stroke-width="1" fill="none"/>
<rect x="200.4" y="283.9" width="42.3" height="19.8" stroke="none" fill="url(#hatch)" stroke-width="1"/>
<line x1="200.4" y1="283.9" x2="242.7" y2="283.9" stroke="#d8d8d8" stroke-width="1.1"/>
<polyline points="200.4,303.7 200.4,257.1 242.7,257.1 242.7,303.7" stroke="#00ff00" stroke-width="1" fill="none"/>
<line x1="223.8" y1="257.1" x2="223.8" y2="283.9" stroke="#f0f000" stroke-width="1"/>
<line x1="200.4" y1="266.2" x2="223.8" y2="266.2" stroke="#f0f000" stroke-width="1"/>
<line x1="212" y1="266.2" x2="212" y2="283.9" stroke="#f0f000" stroke-width="1"/>
<rect x="251.7" y="283.9" width="42.4" height="19.8" stroke="none" fill="url(#hatch)" stroke-width="1"/>
<line x1="251.7" y1="283.9" x2="294.1" y2="283.9" stroke="#d8d8d8" stroke-width="1.1"/>
<polyline points="251.7,303.7 251.7,257.1 294.1,257.1 294.1,303.7" stroke="#00ff00" stroke-width="1" fill="none"/>
<line x1="270.6" y1="257.1" x2="270.6" y2="283.9" stroke="#f0f000" stroke-width="1"/>
<line x1="270.6" y1="266.2" x2="294.1" y2="266.2" stroke="#f0f000" stroke-width="1"/>
<line x1="282.3" y1="266.2" x2="282.3" y2="283.9" stroke="#f0f000" stroke-width="1"/>
<rect x="300.9" y="283.9" width="36.7" height="19.8" stroke="none" fill="url(#hatch)" stroke-width="1"/>
<polyline points="300.9,283.9 300.9,257.1 317.9,257.1 317.9,283.9" stroke="#f0f000" stroke-width="1" fill="none"/>
<line x1="300.9" y1="266.2" x2="317.9" y2="266.2" stroke="#f0f000" stroke-width="1"/>
<line x1="309.3" y1="266.2" x2="309.3" y2="283.9" stroke="#f0f000" stroke-width="1"/>
<polyline points="320.5,283.9 320.5,257.1 337.6,257.1 337.6,283.9" stroke="#f0f000" stroke-width="1" fill="none"/>
<line x1="320.5" y1="266.2" x2="337.6" y2="266.2" stroke="#f0f000" stroke-width="1"/>
<line x1="329" y1="266.2" x2="329" y2="283.9" stroke="#f0f000" stroke-width="1"/>
<polyline points="300.9,303.7 300.9,283.9 337.6,283.9 337.6,303.7" stroke="#00ff00" stroke-width="1" fill="none"/>
<rect x="344.2" y="283.9" width="42.3" height="19.8" stroke="none" fill="url(#hatch)" stroke-width="1"/>
<line x1="344.2" y1="283.9" x2="386.5" y2="283.9" stroke="#d8d8d8" stroke-width="1.1"/>
<polyline points="344.2,303.7 344.2,257.1 386.5,257.1 386.5,303.7" stroke="#00ff00" stroke-width="1" fill="none"/>
<line x1="367.6" y1="257.1" x2="367.6" y2="283.9" stroke="#f0f000" stroke-width="1"/>
<line x1="344.2" y1="266.2" x2="367.6" y2="266.2" stroke="#f0f000" stroke-width="1"/>
<line x1="355.8" y1="266.2" x2="355.8" y2="283.9" stroke="#f0f000" stroke-width="1"/>
<rect x="395.5" y="283.9" width="42.4" height="19.8" stroke="none" fill="url(#hatch)" stroke-width="1"/>
<line x1="395.5" y1="283.9" x2="437.9" y2="283.9" stroke="#d8d8d8" stroke-width="1.1"/>
<polyline points="395.5,303.7 395.5,257.1 437.9,257.1 437.9,303.7" stroke="#00ff00" stroke-width="1" fill="none"/>
<line x1="414.4" y1="257.1" x2="414.4" y2="283.9" stroke="#f0f000" stroke-width="1"/>
<line x1="414.4" y1="266.2" x2="437.9" y2="266.2" stroke="#f0f000" stroke-width="1"/>
<line x1="426.1" y1="266.2" x2="426.1" y2="283.9" stroke="#f0f000" stroke-width="1"/>
<rect x="444.7" y="283.9" width="36.7" height="19.8" stroke="none" fill="url(#hatch)" stroke-width="1"/>
<polyline points="444.7,283.9 444.7,257.1 461.7,257.1 461.7,283.9" stroke="#f0f000" stroke-width="1" fill="none"/>
<line x1="444.7" y1="266.2" x2="461.7" y2="266.2" stroke="#f0f000" stroke-width="1"/>
<line x1="453.1" y1="266.2" x2="453.1" y2="283.9" stroke="#f0f000" stroke-width="1"/>
<polyline points="464.3,283.9 464.3,257.1 481.4,257.1 481.4,283.9" stroke="#f0f000" stroke-width="1" fill="none"/>
<line x1="464.3" y1="266.2" x2="481.4" y2="266.2" stroke="#f0f000" stroke-width="1"/>
<line x1="472.8" y1="266.2" x2="472.8" y2="283.9" stroke="#f0f000" stroke-width="1"/>
<polyline points="444.7,303.7 444.7,283.9 481.4,283.9 481.4,303.7" stroke="#00ff00" stroke-width="1" fill="none"/>
<rect x="488" y="283.9" width="42.3" height="19.8" stroke="none" fill="url(#hatch)" stroke-width="1"/>
<line x1="488" y1="283.9" x2="530.3" y2="283.9" stroke="#d8d8d8" stroke-width="1.1"/>
<polyline points="488,303.7 488,257.1 530.3,257.1 530.3,303.7" stroke="#00ff00" stroke-width="1" fill="none"/>
<line x1="511.4" y1="257.1" x2="511.4" y2="283.9" stroke="#f0f000" stroke-width="1"/>
<line x1="488" y1="266.2" x2="511.4" y2="266.2" stroke="#f0f000" stroke-width="1"/>
<line x1="499.6" y1="266.2" x2="499.6" y2="283.9" stroke="#f0f000" stroke-width="1"/>
<rect x="539.3" y="283.9" width="42.4" height="19.8" stroke="none" fill="url(#hatch)" stroke-width="1"/>
<line x1="539.3" y1="283.9" x2="581.7" y2="283.9" stroke="#d8d8d8" stroke-width="1.1"/>
<polyline points="539.3,303.7 539.3,257.1 581.7,257.1 581.7,303.7" stroke="#00ff00" stroke-width="1" fill="none"/>
<line x1="558.2" y1="257.1" x2="558.2" y2="283.9" stroke="#f0f000" stroke-width="1"/>
<line x1="558.2" y1="266.2" x2="581.7" y2="266.2" stroke="#f0f000" stroke-width="1"/>
<line x1="569.9" y1="266.2" x2="569.9" y2="283.9" stroke="#f0f000" stroke-width="1"/>
<rect x="588.5" y="283.9" width="36.7" height="19.8" stroke="none" fill="url(#hatch)" stroke-width="1"/>
<polyline points="588.5,283.9 588.5,257.1 605.5,257.1 605.5,283.9" stroke="#f0f000" stroke-width="1" fill="none"/>
<line x1="588.5" y1="266.2" x2="605.5" y2="266.2" stroke="#f0f000" stroke-width="1"/>
<line x1="596.9" y1="266.2" x2="596.9" y2="283.9" stroke="#f0f000" stroke-width="1"/>
<polyline points="608.1,283.9 608.1,257.1 625.2,257.1 625.2,283.9" stroke="#f0f000" stroke-width="1" fill="none"/>
<line x1="608.1" y1="266.2" x2="625.2" y2="266.2" stroke="#f0f000" stroke-width="1"/>
<line x1="616.6" y1="266.2" x2="616.6" y2="283.9" stroke="#f0f000" stroke-width="1"/>
<polyline points="588.5,303.7 588.5,283.9 625.2,283.9 625.2,303.7" stroke="#00ff00" stroke-width="1" fill="none"/>
<rect x="631.8" y="283.9" width="42.3" height="19.8" stroke="none" fill="url(#hatch)" stroke-width="1"/>
<line x1="631.8" y1="283.9" x2="674.1" y2="283.9" stroke="#d8d8d8" stroke-width="1.1"/>
<polyline points="631.8,303.7 631.8,257.1 674.1,257.1 674.1,303.7" stroke="#00ff00" stroke-width="1" fill="none"/>
<line x1="655.2" y1="257.1" x2="655.2" y2="283.9" stroke="#f0f000" stroke-width="1"/>
<line x1="631.8" y1="266.2" x2="655.2" y2="266.2" stroke="#f0f000" stroke-width="1"/>
<line x1="643.4" y1="266.2" x2="643.4" y2="283.9" stroke="#f0f000" stroke-width="1"/>
<rect x="826.9" y="283.9" width="42.4" height="19.8" stroke="none" fill="url(#hatch)" stroke-width="1"/>
<line x1="826.9" y1="283.9" x2="869.3" y2="283.9" stroke="#d8d8d8" stroke-width="1.1"/>
<polyline points="826.9,303.7 826.9,257.1 869.3,257.1 869.3,303.7" stroke="#00ff00" stroke-width="1" fill="none"/>
<line x1="845.8" y1="257.1" x2="845.8" y2="283.9" stroke="#f0f000" stroke-width="1"/>
<line x1="845.8" y1="266.2" x2="869.3" y2="266.2" stroke="#f0f000" stroke-width="1"/>
<line x1="857.5" y1="266.2" x2="857.5" y2="283.9" stroke="#f0f000" stroke-width="1"/>
<rect x="876.1" y="283.9" width="36.7" height="19.8" stroke="none" fill="url(#hatch)" stroke-width="1"/>
<polyline points="876.1,283.9 876.1,257.1 893.1,257.1 893.1,283.9" stroke="#f0f000" stroke-width="1" fill="none"/>
<line x1="876.1" y1="266.2" x2="893.1" y2="266.2" stroke="#f0f000" stroke-width="1"/>
<line x1="884.5" y1="266.2" x2="884.5" y2="283.9" stroke="#f0f000" stroke-width="1"/>
<polyline points="895.7,283.9 895.7,257.1 912.8,257.1 912.8,283.9" stroke="#f0f000" stroke-width="1" fill="none"/>
<line x1="895.7" y1="266.2" x2="912.8" y2="266.2" stroke="#f0f000" stroke-width="1"/>
<line x1="904.2" y1="266.2" x2="904.2" y2="283.9" stroke="#f0f000" stroke-width="1"/>
<polyline points="876.1,303.7 876.1,283.9 912.8,283.9 912.8,303.7" stroke="#00ff00" stroke-width="1" fill="none"/>
<rect x="919.4" y="283.9" width="42.3" height="19.8" stroke="none" fill="url(#hatch)" stroke-width="1"/>
<line x1="919.4" y1="283.9" x2="961.7" y2="283.9" stroke="#d8d8d8" stroke-width="1.1"/>
<polyline points="919.4,303.7 919.4,257.1 961.7,257.1 961.7,303.7" stroke="#00ff00" stroke-width="1" fill="none"/>
<line x1="942.8" y1="257.1" x2="942.8" y2="283.9" stroke="#f0f000" stroke-width="1"/>
<line x1="919.4" y1="266.2" x2="942.8" y2="266.2" stroke="#f0f000" stroke-width="1"/>
<line x1="931" y1="266.2" x2="931" y2="283.9" stroke="#f0f000" stroke-width="1"/>
<rect x="1063.2" y="283.9" width="42.3" height="19.8" stroke="none" fill="url(#hatch)" stroke-width="1"/>
<line x1="1063.2" y1="283.9" x2="1105.5" y2="283.9" stroke="#d8d8d8" stroke-width="1.1"/>
<polyline points="1063.2,303.7 1063.2,257.1 1105.5,257.1 1105.5,303.7" stroke="#00ff00" stroke-width="1" fill="none"/>
<line x1="1086.6" y1="257.1" x2="1086.6" y2="283.9" stroke="#f0f000" stroke-width="1"/>
<line x1="1063.2" y1="266.2" x2="1086.6" y2="266.2" stroke="#f0f000" stroke-width="1"/>
<line x1="1074.8" y1="266.2" x2="1074.8" y2="283.9" stroke="#f0f000" stroke-width="1"/>
<rect x="1114.5" y="283.9" width="42.4" height="19.8" stroke="none" fill="url(#hatch)" stroke-width="1"/>
<line x1="1114.5" y1="283.9" x2="1156.9" y2="283.9" stroke="#d8d8d8" stroke-width="1.1"/>
<polyline points="1114.5,303.7 1114.5,257.1 1156.9,257.1 1156.9,303.7" stroke="#00ff00" stroke-width="1" fill="none"/>
<line x1="1133.4" y1="257.1" x2="1133.4" y2="283.9" stroke="#f0f000" stroke-width="1"/>
<line x1="1133.4" y1="266.2" x2="1156.9" y2="266.2" stroke="#f0f000" stroke-width="1"/>
<line x1="1145.1" y1="266.2" x2="1145.1" y2="283.9" stroke="#f0f000" stroke-width="1"/>
<rect x="1163.7" y="283.9" width="36.7" height="19.8" stroke="none" fill="url(#hatch)" stroke-width="1"/>
<polyline points="1163.7,283.9 1163.7,257.1 1180.7,257.1 1180.7,283.9" stroke="#f0f000" stroke-width="1" fill="none"/>
<line x1="1163.7" y1="266.2" x2="1180.7" y2="266.2" stroke="#f0f000" stroke-width="1"/>
<line x1="1172.1" y1="266.2" x2="1172.1" y2="283.9" stroke="#f0f000" stroke-width="1"/>
<polyline points="1183.3,283.9 1183.3,257.1 1200.4,257.1 1200.4,283.9" stroke="#f0f000" stroke-width="1" fill="none"/>
<line x1="1183.3" y1="266.2" x2="1200.4" y2="266.2" stroke="#f0f000" stroke-width="1"/>
<line x1="1191.8" y1="266.2" x2="1191.8" y2="283.9" stroke="#f0f000" stroke-width="1"/>
<polyline points="1163.7,303.7 1163.7,283.9 1200.4,283.9 1200.4,303.7" stroke="#00ff00" stroke-width="1" fill="none"/>
<rect x="1207" y="283.9" width="42.3" height="19.8" stroke="none" fill="url(#hatch)" stroke-width="1"/>
<line x1="1207" y1="283.9" x2="1249.3" y2="283.9" stroke="#d8d8d8" stroke-width="1.1"/>
<polyline points="1207,303.7 1207,257.1 1249.3,257.1 1249.3,303.7" stroke="#00ff00" stroke-width="1" fill="none"/>
<line x1="1230.4" y1="257.1" x2="1230.4" y2="283.9" stroke="#f0f000" stroke-width="1"/>
<line x1="1207" y1="266.2" x2="1230.4" y2="266.2" stroke="#f0f000" stroke-width="1"/>
<line x1="1218.6" y1="266.2" x2="1218.6" y2="283.9" stroke="#f0f000" stroke-width="1"/>
<rect x="1039.5" y="283.9" width="17.1" height="19.8" stroke="none" fill="url(#hatch)" stroke-width="1"/>
<polyline points="1039.5,283.9 1039.5,257.1 1056.6,257.1 1056.6,283.9" stroke="#f0f000" stroke-width="1" fill="none"/>
<line x1="1039.5" y1="266.2" x2="1056.6" y2="266.2" stroke="#f0f000" stroke-width="1"/>
<line x1="1048" y1="266.2" x2="1048" y2="283.9" stroke="#f0f000" stroke-width="1"/>
<polyline points="1039.5,283.9 1056.6,283.9 1056.6,303.7" stroke="#00ff00" stroke-width="1" fill="none"/>
<line x1="683" y1="257.1" x2="683" y2="303.7" stroke="#00ff00" stroke-width="1"/>
<line x1="818" y1="257.1" x2="818" y2="303.7" stroke="#00ff00" stroke-width="1"/>
<line x1="683" y1="256.3" x2="818" y2="256.3" stroke="#ffffff" stroke-width="1"/>
<polyline points="683.3,303.7 697.6,262.1 818,256.5" stroke="#ffffff" stroke-width="1" fill="none"/>
<line x1="683" y1="283.9" x2="818" y2="283.9" stroke="#ffffff" stroke-width="1"/>
<line x1="683" y1="286" x2="818" y2="286" stroke="#ffffff" stroke-width="1"/>
<rect x="1260.5" y="284" width="104" height="19.8" stroke="none" fill="url(#hatch)" stroke-width="1"/>
<rect x="1260.5" y="257.3" width="104" height="26.7" stroke="#f0f000" fill="none" stroke-width="1.2"/>
<line x1="1260.5" y1="266.2" x2="1364.5" y2="266.2" stroke="#f0f000" stroke-width="1"/>
<line x1="1267.8" y1="257.1" x2="1267.8" y2="266.2" stroke="#f0f000" stroke-width="1"/>
<line x1="1276.8" y1="257.1" x2="1276.8" y2="266.2" stroke="#f0f000" stroke-width="1"/>
<line x1="1285.8" y1="257.1" x2="1285.8" y2="266.2" stroke="#f0f000" stroke-width="1"/>
<line x1="1294.8" y1="257.1" x2="1294.8" y2="266.2" stroke="#f0f000" stroke-width="1"/>
<line x1="1303.8" y1="257.1" x2="1303.8" y2="266.2" stroke="#f0f000" stroke-width="1"/>
<line x1="1312.8" y1="257.1" x2="1312.8" y2="266.2" stroke="#f0f000" stroke-width="1"/>
<line x1="1321.8" y1="257.1" x2="1321.8" y2="266.2" stroke="#f0f000" stroke-width="1"/>
<line x1="1330.8" y1="257.1" x2="1330.8" y2="266.2" stroke="#f0f000" stroke-width="1"/>
<line x1="1339.8" y1="257.1" x2="1339.8" y2="266.2" stroke="#f0f000" stroke-width="1"/>
<line x1="1348.8" y1="257.1" x2="1348.8" y2="266.2" stroke="#f0f000" stroke-width="1"/>
<line x1="1357.8" y1="257.1" x2="1357.8" y2="266.2" stroke="#f0f000" stroke-width="1"/>
<line x1="1276.8" y1="266.2" x2="1276.8" y2="284" stroke="#f0f000" stroke-width="1"/>
<line x1="1294.8" y1="266.2" x2="1294.8" y2="284" stroke="#f0f000" stroke-width="1"/>
<line x1="1312.8" y1="266.2" x2="1312.8" y2="284" stroke="#f0f000" stroke-width="1"/>
<line x1="1330.8" y1="266.2" x2="1330.8" y2="284" stroke="#f0f000" stroke-width="1"/>
<line x1="1348.8" y1="266.2" x2="1348.8" y2="284" stroke="#f0f000" stroke-width="1"/>
<rect x="176.7" y="343.2" width="17.1" height="19.8" stroke="none" fill="url(#hatch)" stroke-width="1"/>
<polyline points="176.7,343.2 176.7,316.4 193.8,316.4 193.8,343.2" stroke="#f0f000" stroke-width="1" fill="none"/>
<line x1="176.7" y1="325.5" x2="193.8" y2="325.5" stroke="#f0f000" stroke-width="1"/>
<line x1="185.2" y1="325.5" x2="185.2" y2="343.2" stroke="#f0f000" stroke-width="1"/>
<polyline points="176.7,343.2 193.8,343.2 193.8,363" stroke="#00ff00" stroke-width="1" fill="none"/>
<rect x="200.4" y="343.2" width="42.3" height="19.8" stroke="none" fill="url(#hatch)" stroke-width="1"/>
<line x1="200.4" y1="343.2" x2="242.7" y2="343.2" stroke="#d8d8d8" stroke-width="1.1"/>
<polyline points="200.4,363 200.4,316.4 242.7,316.4 242.7,363" stroke="#00ff00" stroke-width="1" fill="none"/>
<line x1="223.8" y1="316.4" x2="223.8" y2="343.2" stroke="#f0f000" stroke-width="1"/>
<line x1="200.4" y1="325.5" x2="223.8" y2="325.5" stroke="#f0f000" stroke-width="1"/>
<line x1="212" y1="325.5" x2="212" y2="343.2" stroke="#f0f000" stroke-width="1"/>
<rect x="251.7" y="343.2" width="42.4" height="19.8" stroke="none" fill="url(#hatch)" stroke-width="1"/>
<line x1="251.7" y1="343.2" x2="294.1" y2="343.2" stroke="#d8d8d8" stroke-width="1.1"/>
<polyline points="251.7,363 251.7,316.4 294.1,316.4 294.1,363" stroke="#00ff00" stroke-width="1" fill="none"/>
<line x1="270.6" y1="316.4" x2="270.6" y2="343.2" stroke="#f0f000" stroke-width="1"/>
<line x1="270.6" y1="325.5" x2="294.1" y2="325.5" stroke="#f0f000" stroke-width="1"/>
<line x1="282.3" y1="325.5" x2="282.3" y2="343.2" stroke="#f0f000" stroke-width="1"/>
<rect x="300.9" y="343.2" width="36.7" height="19.8" stroke="none" fill="url(#hatch)" stroke-width="1"/>
<polyline points="300.9,343.2 300.9,316.4 317.9,316.4 317.9,343.2" stroke="#f0f000" stroke-width="1" fill="none"/>
<line x1="300.9" y1="325.5" x2="317.9" y2="325.5" stroke="#f0f000" stroke-width="1"/>
<line x1="309.3" y1="325.5" x2="309.3" y2="343.2" stroke="#f0f000" stroke-width="1"/>
<polyline points="320.5,343.2 320.5,316.4 337.6,316.4 337.6,343.2" stroke="#f0f000" stroke-width="1" fill="none"/>
<line x1="320.5" y1="325.5" x2="337.6" y2="325.5" stroke="#f0f000" stroke-width="1"/>
<line x1="329" y1="325.5" x2="329" y2="343.2" stroke="#f0f000" stroke-width="1"/>
<polyline points="300.9,363 300.9,343.2 337.6,343.2 337.6,363" stroke="#00ff00" stroke-width="1" fill="none"/>
<rect x="344.2" y="343.2" width="42.3" height="19.8" stroke="none" fill="url(#hatch)" stroke-width="1"/>
<line x1="344.2" y1="343.2" x2="386.5" y2="343.2" stroke="#d8d8d8" stroke-width="1.1"/>
<polyline points="344.2,363 344.2,316.4 386.5,316.4 386.5,363" stroke="#00ff00" stroke-width="1" fill="none"/>
<line x1="367.6" y1="316.4" x2="367.6" y2="343.2" stroke="#f0f000" stroke-width="1"/>
<line x1="344.2" y1="325.5" x2="367.6" y2="325.5" stroke="#f0f000" stroke-width="1"/>
<line x1="355.8" y1="325.5" x2="355.8" y2="343.2" stroke="#f0f000" stroke-width="1"/>
<rect x="395.5" y="343.2" width="42.4" height="19.8" stroke="none" fill="url(#hatch)" stroke-width="1"/>
<line x1="395.5" y1="343.2" x2="437.9" y2="343.2" stroke="#d8d8d8" stroke-width="1.1"/>
<polyline points="395.5,363 395.5,316.4 437.9,316.4 437.9,363" stroke="#00ff00" stroke-width="1" fill="none"/>
<line x1="414.4" y1="316.4" x2="414.4" y2="343.2" stroke="#f0f000" stroke-width="1"/>
<line x1="414.4" y1="325.5" x2="437.9" y2="325.5" stroke="#f0f000" stroke-width="1"/>
<line x1="426.1" y1="325.5" x2="426.1" y2="343.2" stroke="#f0f000" stroke-width="1"/>
<rect x="444.7" y="343.2" width="36.7" height="19.8" stroke="none" fill="url(#hatch)" stroke-width="1"/>
<polyline points="444.7,343.2 444.7,316.4 461.7,316.4 461.7,343.2" stroke="#f0f000" stroke-width="1" fill="none"/>
<line x1="444.7" y1="325.5" x2="461.7" y2="325.5" stroke="#f0f000" stroke-width="1"/>
<line x1="453.1" y1="325.5" x2="453.1" y2="343.2" stroke="#f0f000" stroke-width="1"/>
<polyline points="464.3,343.2 464.3,316.4 481.4,316.4 481.4,343.2" stroke="#f0f000" stroke-width="1" fill="none"/>
<line x1="464.3" y1="325.5" x2="481.4" y2="325.5" stroke="#f0f000" stroke-width="1"/>
<line x1="472.8" y1="325.5" x2="472.8" y2="343.2" stroke="#f0f000" stroke-width="1"/>
<polyline points="444.7,363 444.7,343.2 481.4,343.2 481.4,363" stroke="#00ff00" stroke-width="1" fill="none"/>
<rect x="488" y="343.2" width="42.3" height="19.8" stroke="none" fill="url(#hatch)" stroke-width="1"/>
<line x1="488" y1="343.2" x2="530.3" y2="343.2" stroke="#d8d8d8" stroke-width="1.1"/>
<polyline points="488,363 488,316.4 530.3,316.4 530.3,363" stroke="#00ff00" stroke-width="1" fill="none"/>
<line x1="511.4" y1="316.4" x2="511.4" y2="343.2" stroke="#f0f000" stroke-width="1"/>
<line x1="488" y1="325.5" x2="511.4" y2="325.5" stroke="#f0f000" stroke-width="1"/>
<line x1="499.6" y1="325.5" x2="499.6" y2="343.2" stroke="#f0f000" stroke-width="1"/>
<rect x="539.3" y="343.2" width="42.4" height="19.8" stroke="none" fill="url(#hatch)" stroke-width="1"/>
<line x1="539.3" y1="343.2" x2="581.7" y2="343.2" stroke="#d8d8d8" stroke-width="1.1"/>
<polyline points="539.3,363 539.3,316.4 581.7,316.4 581.7,363" stroke="#00ff00" stroke-width="1" fill="none"/>
<line x1="558.2" y1="316.4" x2="558.2" y2="343.2" stroke="#f0f000" stroke-width="1"/>
<line x1="558.2" y1="325.5" x2="581.7" y2="325.5" stroke="#f0f000" stroke-width="1"/>
<line x1="569.9" y1="325.5" x2="569.9" y2="343.2" stroke="#f0f000" stroke-width="1"/>
<rect x="588.5" y="343.2" width="36.7" height="19.8" stroke="none" fill="url(#hatch)" stroke-width="1"/>
<polyline points="588.5,343.2 588.5,316.4 605.5,316.4 605.5,343.2" stroke="#f0f000" stroke-width="1" fill="none"/>
<line x1="588.5" y1="325.5" x2="605.5" y2="325.5" stroke="#f0f000" stroke-width="1"/>
<line x1="596.9" y1="325.5" x2="596.9" y2="343.2" stroke="#f0f000" stroke-width="1"/>
<polyline points="608.1,343.2 608.1,316.4 625.2,316.4 625.2,343.2" stroke="#f0f000" stroke-width="1" fill="none"/>
<line x1="608.1" y1="325.5" x2="625.2" y2="325.5" stroke="#f0f000" stroke-width="1"/>
<line x1="616.6" y1="325.5" x2="616.6" y2="343.2" stroke="#f0f000" stroke-width="1"/>
<polyline points="588.5,363 588.5,343.2 625.2,343.2 625.2,363" stroke="#00ff00" stroke-width="1" fill="none"/>
<rect x="631.8" y="343.2" width="42.3" height="19.8" stroke="none" fill="url(#hatch)" stroke-width="1"/>
<line x1="631.8" y1="343.2" x2="674.1" y2="343.2" stroke="#d8d8d8" stroke-width="1.1"/>
<polyline points="631.8,363 631.8,316.4 674.1,316.4 674.1,363" stroke="#00ff00" stroke-width="1" fill="none"/>
<line x1="655.2" y1="316.4" x2="655.2" y2="343.2" stroke="#f0f000" stroke-width="1"/>
<line x1="631.8" y1="325.5" x2="655.2" y2="325.5" stroke="#f0f000" stroke-width="1"/>
<line x1="643.4" y1="325.5" x2="643.4" y2="343.2" stroke="#f0f000" stroke-width="1"/>
<rect x="826.9" y="343.2" width="42.4" height="19.8" stroke="none" fill="url(#hatch)" stroke-width="1"/>
<line x1="826.9" y1="343.2" x2="869.3" y2="343.2" stroke="#d8d8d8" stroke-width="1.1"/>
<polyline points="826.9,363 826.9,316.4 869.3,316.4 869.3,363" stroke="#00ff00" stroke-width="1" fill="none"/>
<line x1="845.8" y1="316.4" x2="845.8" y2="343.2" stroke="#f0f000" stroke-width="1"/>
<line x1="845.8" y1="325.5" x2="869.3" y2="325.5" stroke="#f0f000" stroke-width="1"/>
<line x1="857.5" y1="325.5" x2="857.5" y2="343.2" stroke="#f0f000" stroke-width="1"/>
<rect x="876.1" y="343.2" width="36.7" height="19.8" stroke="none" fill="url(#hatch)" stroke-width="1"/>
<polyline points="876.1,343.2 876.1,316.4 893.1,316.4 893.1,343.2" stroke="#f0f000" stroke-width="1" fill="none"/>
<line x1="876.1" y1="325.5" x2="893.1" y2="325.5" stroke="#f0f000" stroke-width="1"/>
<line x1="884.5" y1="325.5" x2="884.5" y2="343.2" stroke="#f0f000" stroke-width="1"/>
<polyline points="895.7,343.2 895.7,316.4 912.8,316.4 912.8,343.2" stroke="#f0f000" stroke-width="1" fill="none"/>
<line x1="895.7" y1="325.5" x2="912.8" y2="325.5" stroke="#f0f000" stroke-width="1"/>
<line x1="904.2" y1="325.5" x2="904.2" y2="343.2" stroke="#f0f000" stroke-width="1"/>
<polyline points="876.1,363 876.1,343.2 912.8,343.2 912.8,363" stroke="#00ff00" stroke-width="1" fill="none"/>
<rect x="919.4" y="343.2" width="42.3" height="19.8" stroke="none" fill="url(#hatch)" stroke-width="1"/>
<line x1="919.4" y1="343.2" x2="961.7" y2="343.2" stroke="#d8d8d8" stroke-width="1.1"/>
<polyline points="919.4,363 919.4,316.4 961.7,316.4 961.7,363" stroke="#00ff00" stroke-width="1" fill="none"/>
<line x1="942.8" y1="316.4" x2="942.8" y2="343.2" stroke="#f0f000" stroke-width="1"/>
<line x1="919.4" y1="325.5" x2="942.8" y2="325.5" stroke="#f0f000" stroke-width="1"/>
<line x1="931" y1="325.5" x2="931" y2="343.2" stroke="#f0f000" stroke-width="1"/>
<rect x="1063.2" y="343.2" width="42.3" height="19.8" stroke="none" fill="url(#hatch)" stroke-width="1"/>
<line x1="1063.2" y1="343.2" x2="1105.5" y2="343.2" stroke="#d8d8d8" stroke-width="1.1"/>
<polyline points="1063.2,363 1063.2,316.4 1105.5,316.4 1105.5,363" stroke="#00ff00" stroke-width="1" fill="none"/>
<line x1="1086.6" y1="316.4" x2="1086.6" y2="343.2" stroke="#f0f000" stroke-width="1"/>
<line x1="1063.2" y1="325.5" x2="1086.6" y2="325.5" stroke="#f0f000" stroke-width="1"/>
<line x1="1074.8" y1="325.5" x2="1074.8" y2="343.2" stroke="#f0f000" stroke-width="1"/>
<rect x="1114.5" y="343.2" width="42.4" height="19.8" stroke="none" fill="url(#hatch)" stroke-width="1"/>
<line x1="1114.5" y1="343.2" x2="1156.9" y2="343.2" stroke="#d8d8d8" stroke-width="1.1"/>
<polyline points="1114.5,363 1114.5,316.4 1156.9,316.4 1156.9,363" stroke="#00ff00" stroke-width="1" fill="none"/>
<line x1="1133.4" y1="316.4" x2="1133.4" y2="343.2" stroke="#f0f000" stroke-width="1"/>
<line x1="1133.4" y1="325.5" x2="1156.9" y2="325.5" stroke="#f0f000" stroke-width="1"/>
<line x1="1145.1" y1="325.5" x2="1145.1" y2="343.2" stroke="#f0f000" stroke-width="1"/>
<rect x="1163.7" y="343.2" width="36.7" height="19.8" stroke="none" fill="url(#hatch)" stroke-width="1"/>
<polyline points="1163.7,343.2 1163.7,316.4 1180.7,316.4 1180.7,343.2" stroke="#f0f000" stroke-width="1" fill="none"/>
<line x1="1163.7" y1="325.5" x2="1180.7" y2="325.5" stroke="#f0f000" stroke-width="1"/>
<line x1="1172.1" y1="325.5" x2="1172.1" y2="343.2" stroke="#f0f000" stroke-width="1"/>
<polyline points="1183.3,343.2 1183.3,316.4 1200.4,316.4 1200.4,343.2" stroke="#f0f000" stroke-width="1" fill="none"/>
<line x1="1183.3" y1="325.5" x2="1200.4" y2="325.5" stroke="#f0f000" stroke-width="1"/>
<line x1="1191.8" y1="325.5" x2="1191.8" y2="343.2" stroke="#f0f000" stroke-width="1"/>
<polyline points="1163.7,363 1163.7,343.2 1200.4,343.2 1200.4,363" stroke="#00ff00" stroke-width="1" fill="none"/>
<rect x="1207" y="343.2" width="42.3" height="19.8" stroke="none" fill="url(#hatch)" stroke-width="1"/>
<line x1="1207" y1="343.2" x2="1249.3" y2="343.2" stroke="#d8d8d8" stroke-width="1.1"/>
<polyline points="1207,363 1207,316.4 1249.3,316.4 1249.3,363" stroke="#00ff00" stroke-width="1" fill="none"/>
<line x1="1230.4" y1="316.4" x2="1230.4" y2="343.2" stroke="#f0f000" stroke-width="1"/>
<line x1="1207" y1="325.5" x2="1230.4" y2="325.5" stroke="#f0f000" stroke-width="1"/>
<line x1="1218.6" y1="325.5" x2="1218.6" y2="343.2" stroke="#f0f000" stroke-width="1"/>
<rect x="1039.5" y="343.2" width="17.1" height="19.8" stroke="none" fill="url(#hatch)" stroke-width="1"/>
<polyline points="1039.5,343.2 1039.5,316.4 1056.6,316.4 1056.6,343.2" stroke="#f0f000" stroke-width="1" fill="none"/>
<line x1="1039.5" y1="325.5" x2="1056.6" y2="325.5" stroke="#f0f000" stroke-width="1"/>
<line x1="1048" y1="325.5" x2="1048" y2="343.2" stroke="#f0f000" stroke-width="1"/>
<polyline points="1039.5,343.2 1056.6,343.2 1056.6,363" stroke="#00ff00" stroke-width="1" fill="none"/>
<line x1="683" y1="316.4" x2="683" y2="345.2" stroke="#00ff00" stroke-width="1"/>
<line x1="818" y1="316.4" x2="818" y2="345.2" stroke="#00ff00" stroke-width="1"/>
<line x1="683" y1="315.6" x2="818" y2="315.6" stroke="#ffffff" stroke-width="1"/>
<polyline points="683,343.2 697.6,320.9 818,315.8" stroke="#ffffff" stroke-width="1" fill="none"/>
<line x1="683" y1="343.2" x2="818" y2="343.2" stroke="#ffffff" stroke-width="1"/>
<line x1="683" y1="345.3" x2="818" y2="345.3" stroke="#ffffff" stroke-width="1"/>
<rect x="1260.5" y="343.3" width="104" height="19.8" stroke="none" fill="url(#hatch)" stroke-width="1"/>
<rect x="1260.5" y="316.6" width="104" height="26.7" stroke="#f0f000" fill="none" stroke-width="1.2"/>
<line x1="1260.5" y1="325.5" x2="1364.5" y2="325.5" stroke="#f0f000" stroke-width="1"/>
<line x1="1267.8" y1="316.4" x2="1267.8" y2="325.5" stroke="#f0f000" stroke-width="1"/>
<line x1="1276.8" y1="316.4" x2="1276.8" y2="325.5" stroke="#f0f000" stroke-width="1"/>
<line x1="1285.8" y1="316.4" x2="1285.8" y2="325.5" stroke="#f0f000" stroke-width="1"/>
<line x1="1294.8" y1="316.4" x2="1294.8" y2="325.5" stroke="#f0f000" stroke-width="1"/>
<line x1="1303.8" y1="316.4" x2="1303.8" y2="325.5" stroke="#f0f000" stroke-width="1"/>
<line x1="1312.8" y1="316.4" x2="1312.8" y2="325.5" stroke="#f0f000" stroke-width="1"/>
<line x1="1321.8" y1="316.4" x2="1321.8" y2="325.5" stroke="#f0f000" stroke-width="1"/>
<line x1="1330.8" y1="316.4" x2="1330.8" y2="325.5" stroke="#f0f000" stroke-width="1"/>
<line x1="1339.8" y1="316.4" x2="1339.8" y2="325.5" stroke="#f0f000" stroke-width="1"/>
<line x1="1348.8" y1="316.4" x2="1348.8" y2="325.5" stroke="#f0f000" stroke-width="1"/>
<line x1="1357.8" y1="316.4" x2="1357.8" y2="325.5" stroke="#f0f000" stroke-width="1"/>
<line x1="1276.8" y1="325.5" x2="1276.8" y2="343.3" stroke="#f0f000" stroke-width="1"/>
<line x1="1294.8" y1="325.5" x2="1294.8" y2="343.3" stroke="#f0f000" stroke-width="1"/>
<line x1="1312.8" y1="325.5" x2="1312.8" y2="343.3" stroke="#f0f000" stroke-width="1"/>
<line x1="1330.8" y1="325.5" x2="1330.8" y2="343.3" stroke="#f0f000" stroke-width="1"/>
<line x1="1348.8" y1="325.5" x2="1348.8" y2="343.3" stroke="#f0f000" stroke-width="1"/>
<line x1="185" y1="206.9" x2="185" y2="224.6" stroke="#606060" stroke-width="1"/>
<line x1="1047.6" y1="206.9" x2="1047.6" y2="224.6" stroke="#606060" stroke-width="1"/>
<rect x="177.3" y="375.5" width="16.5" height="18.2" stroke="#f0f000" fill="none" stroke-width="1.05"/>
<line x1="185.55" y1="375.5" x2="185.55" y2="393.7" stroke="#f0f000" stroke-width="1"/>
<rect x="1040" y="375.5" width="16.6" height="18.2" stroke="#f0f000" fill="none" stroke-width="1.05"/>
<line x1="1048.3" y1="375.5" x2="1048.3" y2="393.7" stroke="#f0f000" stroke-width="1"/>
<rect x="200.4" y="375.5" width="33.2" height="18.2" stroke="#f0f000" fill="none" stroke-width="1.05"/>
<line x1="211.47" y1="375.5" x2="211.47" y2="393.7" stroke="#f0f000" stroke-width="1"/>
<line x1="222.53" y1="375.5" x2="222.53" y2="393.7" stroke="#f0f000" stroke-width="1"/>
<rect x="261.2" y="375.5" width="33" height="18.2" stroke="#f0f000" fill="none" stroke-width="1.05"/>
<line x1="272.2" y1="375.5" x2="272.2" y2="393.7" stroke="#f0f000" stroke-width="1"/>
<line x1="283.2" y1="375.5" x2="283.2" y2="393.7" stroke="#f0f000" stroke-width="1"/>
<rect x="300.9" y="375.5" width="17" height="18.2" stroke="#f0f000" fill="none" stroke-width="1.05"/>
<line x1="309.4" y1="375.5" x2="309.4" y2="393.7" stroke="#f0f000" stroke-width="1"/>
<rect x="320.5" y="375.5" width="17.1" height="18.2" stroke="#f0f000" fill="none" stroke-width="1.05"/>
<line x1="329.05" y1="375.5" x2="329.05" y2="393.7" stroke="#f0f000" stroke-width="1"/>
<rect x="344.2" y="375.5" width="33.2" height="18.2" stroke="#f0f000" fill="none" stroke-width="1.05"/>
<line x1="355.27" y1="375.5" x2="355.27" y2="393.7" stroke="#f0f000" stroke-width="1"/>
<line x1="366.33" y1="375.5" x2="366.33" y2="393.7" stroke="#f0f000" stroke-width="1"/>
<rect x="405" y="375.5" width="33" height="18.2" stroke="#f0f000" fill="none" stroke-width="1.05"/>
<line x1="416" y1="375.5" x2="416" y2="393.7" stroke="#f0f000" stroke-width="1"/>
<line x1="427" y1="375.5" x2="427" y2="393.7" stroke="#f0f000" stroke-width="1"/>
<rect x="444.7" y="375.5" width="17" height="18.2" stroke="#f0f000" fill="none" stroke-width="1.05"/>
<line x1="453.2" y1="375.5" x2="453.2" y2="393.7" stroke="#f0f000" stroke-width="1"/>
<rect x="464.3" y="375.5" width="17.1" height="18.2" stroke="#f0f000" fill="none" stroke-width="1.05"/>
<line x1="472.85" y1="375.5" x2="472.85" y2="393.7" stroke="#f0f000" stroke-width="1"/>
<rect x="488" y="375.5" width="33.2" height="18.2" stroke="#f0f000" fill="none" stroke-width="1.05"/>
<line x1="499.07" y1="375.5" x2="499.07" y2="393.7" stroke="#f0f000" stroke-width="1"/>
<line x1="510.13" y1="375.5" x2="510.13" y2="393.7" stroke="#f0f000" stroke-width="1"/>
<rect x="548.8" y="375.5" width="33" height="18.2" stroke="#f0f000" fill="none" stroke-width="1.05"/>
<line x1="559.8" y1="375.5" x2="559.8" y2="393.7" stroke="#f0f000" stroke-width="1"/>
<line x1="570.8" y1="375.5" x2="570.8" y2="393.7" stroke="#f0f000" stroke-width="1"/>
<rect x="588.5" y="375.5" width="17" height="18.2" stroke="#f0f000" fill="none" stroke-width="1.05"/>
<line x1="597" y1="375.5" x2="597" y2="393.7" stroke="#f0f000" stroke-width="1"/>
<rect x="608.1" y="375.5" width="17.1" height="18.2" stroke="#f0f000" fill="none" stroke-width="1.05"/>
<line x1="616.65" y1="375.5" x2="616.65" y2="393.7" stroke="#f0f000" stroke-width="1"/>
<rect x="631.8" y="375.5" width="33.2" height="18.2" stroke="#f0f000" fill="none" stroke-width="1.05"/>
<line x1="642.87" y1="375.5" x2="642.87" y2="393.7" stroke="#f0f000" stroke-width="1"/>
<line x1="653.93" y1="375.5" x2="653.93" y2="393.7" stroke="#f0f000" stroke-width="1"/>
<rect x="692.6" y="375.5" width="33" height="18.2" stroke="#f0f000" fill="none" stroke-width="1.05"/>
<line x1="703.6" y1="375.5" x2="703.6" y2="393.7" stroke="#f0f000" stroke-width="1"/>
<line x1="714.6" y1="375.5" x2="714.6" y2="393.7" stroke="#f0f000" stroke-width="1"/>
<rect x="732.3" y="375.5" width="17" height="18.2" stroke="#f0f000" fill="none" stroke-width="1.05"/>
<line x1="740.8" y1="375.5" x2="740.8" y2="393.7" stroke="#f0f000" stroke-width="1"/>
<rect x="751.9" y="375.5" width="17.1" height="18.2" stroke="#f0f000" fill="none" stroke-width="1.05"/>
<line x1="760.45" y1="375.5" x2="760.45" y2="393.7" stroke="#f0f000" stroke-width="1"/>
<rect x="775.6" y="375.5" width="33.2" height="18.2" stroke="#f0f000" fill="none" stroke-width="1.05"/>
<line x1="786.67" y1="375.5" x2="786.67" y2="393.7" stroke="#f0f000" stroke-width="1"/>
<line x1="797.73" y1="375.5" x2="797.73" y2="393.7" stroke="#f0f000" stroke-width="1"/>
<rect x="836.4" y="375.5" width="33" height="18.2" stroke="#f0f000" fill="none" stroke-width="1.05"/>
<line x1="847.4" y1="375.5" x2="847.4" y2="393.7" stroke="#f0f000" stroke-width="1"/>
<line x1="858.4" y1="375.5" x2="858.4" y2="393.7" stroke="#f0f000" stroke-width="1"/>
<rect x="876.1" y="375.5" width="17" height="18.2" stroke="#f0f000" fill="none" stroke-width="1.05"/>
<line x1="884.6" y1="375.5" x2="884.6" y2="393.7" stroke="#f0f000" stroke-width="1"/>
<rect x="895.7" y="375.5" width="17.1" height="18.2" stroke="#f0f000" fill="none" stroke-width="1.05"/>
<line x1="904.25" y1="375.5" x2="904.25" y2="393.7" stroke="#f0f000" stroke-width="1"/>
<rect x="919.4" y="375.5" width="33.2" height="18.2" stroke="#f0f000" fill="none" stroke-width="1.05"/>
<line x1="930.47" y1="375.5" x2="930.47" y2="393.7" stroke="#f0f000" stroke-width="1"/>
<line x1="941.53" y1="375.5" x2="941.53" y2="393.7" stroke="#f0f000" stroke-width="1"/>
<rect x="1063.2" y="375.5" width="33.2" height="18.2" stroke="#f0f000" fill="none" stroke-width="1.05"/>
<line x1="1074.27" y1="375.5" x2="1074.27" y2="393.7" stroke="#f0f000" stroke-width="1"/>
<line x1="1085.33" y1="375.5" x2="1085.33" y2="393.7" stroke="#f0f000" stroke-width="1"/>
<rect x="1124" y="375.5" width="33" height="18.2" stroke="#f0f000" fill="none" stroke-width="1.05"/>
<line x1="1135" y1="375.5" x2="1135" y2="393.7" stroke="#f0f000" stroke-width="1"/>
<line x1="1146" y1="375.5" x2="1146" y2="393.7" stroke="#f0f000" stroke-width="1"/>
<rect x="1163.7" y="375.5" width="17" height="18.2" stroke="#f0f000" fill="none" stroke-width="1.05"/>
<line x1="1172.2" y1="375.5" x2="1172.2" y2="393.7" stroke="#f0f000" stroke-width="1"/>
<rect x="1183.3" y="375.5" width="17.1" height="18.2" stroke="#f0f000" fill="none" stroke-width="1.05"/>
<line x1="1191.85" y1="375.5" x2="1191.85" y2="393.7" stroke="#f0f000" stroke-width="1"/>
<rect x="1207" y="375.5" width="33.2" height="18.2" stroke="#f0f000" fill="none" stroke-width="1.05"/>
<line x1="1218.07" y1="375.5" x2="1218.07" y2="393.7" stroke="#f0f000" stroke-width="1"/>
<line x1="1229.13" y1="375.5" x2="1229.13" y2="393.7" stroke="#f0f000" stroke-width="1"/>
<rect x="1260.8" y="375.5" width="103.2" height="18.2" stroke="#f0f000" fill="none" stroke-width="1.2"/>
<line x1="1276.7" y1="375.5" x2="1276.7" y2="393.7" stroke="#f0f000" stroke-width="1"/>
<line x1="1294.7" y1="375.5" x2="1294.7" y2="393.7" stroke="#f0f000" stroke-width="1"/>
<line x1="1312.7" y1="375.5" x2="1312.7" y2="393.7" stroke="#f0f000" stroke-width="1"/>
<line x1="1330.7" y1="375.5" x2="1330.7" y2="393.7" stroke="#f0f000" stroke-width="1"/>
<line x1="1348.7" y1="375.5" x2="1348.7" y2="393.7" stroke="#f0f000" stroke-width="1"/>
<polyline points="98.6,448.5 98.6,61.3 177,61.3 177,104.4" stroke="#00c4c4" stroke-width="1.3" fill="none"/>
<line x1="177" y1="104.4" x2="177" y2="363.8" stroke="#00a800" stroke-width="1.4"/>
<line x1="177" y1="371.8" x2="177" y2="443.8" stroke="#00a800" stroke-width="1.4"/>
<polyline points="961.8,448.5 961.8,61.3 1040,61.3 1040,104.4" stroke="#00c4c4" stroke-width="1.3" fill="none"/>
<line x1="1040" y1="104.4" x2="1040" y2="363.8" stroke="#00a800" stroke-width="1.4"/>
<line x1="1040" y1="371.8" x2="1040" y2="443.8" stroke="#00a800" stroke-width="1.4"/>
<line x1="961.8" y1="104.4" x2="961.8" y2="364" stroke="#00ff00" stroke-width="1.2"/>
<line x1="177" y1="104.4" x2="961.8" y2="104.4" stroke="#00c4c4" stroke-width="1.3"/>
<polyline points="1040,104.4 1364.8,104.4 1364.8,449.6" stroke="#00c4c4" stroke-width="1.3" fill="none"/>
<line x1="1258.3" y1="104.4" x2="1258.3" y2="449.6" stroke="#00c4c4" stroke-width="1.2"/>
<line x1="1260.4" y1="104.4" x2="1260.4" y2="449.6" stroke="#00c4c4" stroke-width="1.2"/>
<rect x="986" y="125.7" width="27.4" height="37.3" stroke="none" fill="url(#hatch)" stroke-width="1"/>
<line x1="986" y1="125.7" x2="986" y2="163" stroke="#00a800" stroke-width="1"/>
<line x1="1013.4" y1="125.7" x2="1013.4" y2="163" stroke="#00a800" stroke-width="1"/>
<rect x="986" y="103.7" width="27.4" height="22" stroke="#f0f000" fill="none" stroke-width="1.3"/>
<line x1="986" y1="111.2" x2="1013.4" y2="111.2" stroke="#f0f000" stroke-width="1"/>
<line x1="995.1" y1="103.7" x2="995.1" y2="125.7" stroke="#f0f000" stroke-width="1"/>
<line x1="1004.2" y1="103.7" x2="1004.2" y2="125.7" stroke="#f0f000" stroke-width="1"/>
<rect x="986" y="185" width="27.4" height="37.3" stroke="none" fill="url(#hatch)" stroke-width="1"/>
<line x1="986" y1="185" x2="986" y2="222.3" stroke="#00a800" stroke-width="1"/>
<line x1="1013.4" y1="185" x2="1013.4" y2="222.3" stroke="#00a800" stroke-width="1"/>
<rect x="986" y="163" width="27.4" height="22" stroke="#f0f000" fill="none" stroke-width="1.3"/>
<line x1="986" y1="170.5" x2="1013.4" y2="170.5" stroke="#f0f000" stroke-width="1"/>
<line x1="995.1" y1="163" x2="995.1" y2="185" stroke="#f0f000" stroke-width="1"/>
<line x1="1004.2" y1="163" x2="1004.2" y2="185" stroke="#f0f000" stroke-width="1"/>
<rect x="986" y="244.3" width="27.4" height="37.3" stroke="none" fill="url(#hatch)" stroke-width="1"/>
<line x1="986" y1="244.3" x2="986" y2="281.6" stroke="#00a800" stroke-width="1"/>
<line x1="1013.4" y1="244.3" x2="1013.4" y2="281.6" stroke="#00a800" stroke-width="1"/>
<rect x="986" y="222.3" width="27.4" height="22" stroke="#f0f000" fill="none" stroke-width="1.3"/>
<line x1="986" y1="229.8" x2="1013.4" y2="229.8" stroke="#f0f000" stroke-width="1"/>
<line x1="995.1" y1="222.3" x2="995.1" y2="244.3" stroke="#f0f000" stroke-width="1"/>
<line x1="1004.2" y1="222.3" x2="1004.2" y2="244.3" stroke="#f0f000" stroke-width="1"/>
<rect x="986" y="303.6" width="27.4" height="37.3" stroke="none" fill="url(#hatch)" stroke-width="1"/>
<line x1="986" y1="303.6" x2="986" y2="340.9" stroke="#00a800" stroke-width="1"/>
<line x1="1013.4" y1="303.6" x2="1013.4" y2="340.9" stroke="#00a800" stroke-width="1"/>
<rect x="986" y="281.6" width="27.4" height="22" stroke="#f0f000" fill="none" stroke-width="1.3"/>
<line x1="986" y1="289.1" x2="1013.4" y2="289.1" stroke="#f0f000" stroke-width="1"/>
<line x1="995.1" y1="281.6" x2="995.1" y2="303.6" stroke="#f0f000" stroke-width="1"/>
<line x1="1004.2" y1="281.6" x2="1004.2" y2="303.6" stroke="#f0f000" stroke-width="1"/>
<rect x="986" y="340.9" width="27.4" height="22" stroke="#f0f000" fill="none" stroke-width="1.3"/>
<line x1="986" y1="348.4" x2="1013.4" y2="348.4" stroke="#f0f000" stroke-width="1"/>
<line x1="995.1" y1="340.9" x2="995.1" y2="362.9" stroke="#f0f000" stroke-width="1"/>
<line x1="1004.2" y1="340.9" x2="1004.2" y2="362.9" stroke="#f0f000" stroke-width="1"/>
<line x1="98.4" y1="363.8" x2="252.3" y2="363.8" stroke="#70e8e8" stroke-width="1"/>
<line x1="98.4" y1="365.6" x2="252.3" y2="365.6" stroke="#80ffff" stroke-width="1"/>
<line x1="252.3" y1="363.8" x2="252.3" y2="371.6" stroke="#70e8e8" stroke-width="1"/>
<line x1="98.4" y1="371.7" x2="252.3" y2="371.7" stroke="#70e8e8" stroke-width="0.6"/>
<rect x="98.7" y="367.4" width="4" height="4.2" stroke="#80ffff" fill="none" stroke-width="0.9"/>
<rect x="104.8" y="367.4" width="26" height="4.2" stroke="#80ffff" fill="none" stroke-width="0.9"/>
<rect x="133.6" y="367.4" width="26" height="4.2" stroke="#80ffff" fill="none" stroke-width="0.9"/>
<rect x="162.4" y="367.4" width="26" height="4.2" stroke="#80ffff" fill="none" stroke-width="0.9"/>
<rect x="191.2" y="367.4" width="26" height="4.2" stroke="#80ffff" fill="none" stroke-width="0.9"/>
<rect x="220" y="367.4" width="26" height="4.2" stroke="#80ffff" fill="none" stroke-width="0.9"/>
<rect x="248.8" y="367.4" width="3.1" height="4.2" stroke="#80ffff" fill="none" stroke-width="0.9"/>
<line x1="961.8" y1="363.8" x2="1114.3" y2="363.8" stroke="#70e8e8" stroke-width="1"/>
<line x1="961.8" y1="365.6" x2="1114.3" y2="365.6" stroke="#80ffff" stroke-width="1"/>
<line x1="1114.3" y1="363.8" x2="1114.3" y2="371.6" stroke="#70e8e8" stroke-width="1"/>
<line x1="961.8" y1="371.7" x2="1114.3" y2="371.7" stroke="#70e8e8" stroke-width="0.6"/>
<rect x="962.1" y="367.4" width="4" height="4.2" stroke="#80ffff" fill="none" stroke-width="0.9"/>
<rect x="968.2" y="367.4" width="26" height="4.2" stroke="#80ffff" fill="none" stroke-width="0.9"/>
<rect x="997" y="367.4" width="26" height="4.2" stroke="#80ffff" fill="none" stroke-width="0.9"/>
<rect x="1025.8" y="367.4" width="26" height="4.2" stroke="#80ffff" fill="none" stroke-width="0.9"/>
<rect x="1054.6" y="367.4" width="26" height="4.2" stroke="#80ffff" fill="none" stroke-width="0.9"/>
<rect x="1083.4" y="367.4" width="26" height="4.2" stroke="#80ffff" fill="none" stroke-width="0.9"/>
<rect x="123.2" y="400.7" width="27.2" height="43.4" stroke="#c8c800" fill="none" stroke-width="1.6"/>
<polygon points="123.2,422.15 136.8,400.7 150.4,422.15 136.8,444.1" stroke="#f0f000" stroke-width="1" fill="none"/>
<line x1="136.8" y1="400.7" x2="136.8" y2="443.6" stroke="#f0f000" stroke-width="1"/>
<rect x="985.8" y="400.4" width="27.5" height="43.7" stroke="#c8c800" fill="none" stroke-width="1.6"/>
<polygon points="985.8,422 999.55,400.4 1013.3,422 999.55,444.1" stroke="#f0f000" stroke-width="1" fill="none"/>
<line x1="999.55" y1="400.4" x2="999.55" y2="443.6" stroke="#f0f000" stroke-width="1"/>
<line x1="66.2" y1="125.8" x2="98.4" y2="125.8" stroke="#c0c0c0" stroke-width="1.2"/>
<line x1="66.2" y1="133.1" x2="98.4" y2="133.1" stroke="#c0c0c0" stroke-width="1.2"/>
<line x1="66.4" y1="125.8" x2="66.4" y2="133.1" stroke="#c0c0c0" stroke-width="1.2"/>
<line x1="67.3" y1="164.1" x2="98.4" y2="164.1" stroke="#6a82e0" stroke-width="1.4"/>
<line x1="67.3" y1="168.9" x2="98.4" y2="168.9" stroke="#6a82e0" stroke-width="1.4"/>
<line x1="67.3" y1="173.6" x2="98.4" y2="173.6" stroke="#6a82e0" stroke-width="1.4"/>
<line x1="67.3" y1="178.2" x2="98.4" y2="178.2" stroke="#6a82e0" stroke-width="1.4"/>
<line x1="68" y1="163.8" x2="68" y2="182.4" stroke="#6a82e0" stroke-width="1.6"/>
<line x1="83.2" y1="163.8" x2="83.2" y2="182.4" stroke="#6a82e0" stroke-width="1.4"/>
<line x1="84.8" y1="163.8" x2="84.8" y2="182.4" stroke="#6a82e0" stroke-width="1"/>
<polyline points="98.4,182.4 66.4,182.4 66.4,192.3 98.4,192.3" stroke="#ffffff" stroke-width="1.1" fill="none"/>
<line x1="67.3" y1="223.4" x2="98.4" y2="223.4" stroke="#6a82e0" stroke-width="1.4"/>
<line x1="67.3" y1="228.2" x2="98.4" y2="228.2" stroke="#6a82e0" stroke-width="1.4"/>
<line x1="67.3" y1="232.9" x2="98.4" y2="232.9" stroke="#6a82e0" stroke-width="1.4"/>
<line x1="67.3" y1="237.5" x2="98.4" y2="237.5" stroke="#6a82e0" stroke-width="1.4"/>
<line x1="68" y1="223.1" x2="68" y2="241.7" stroke="#6a82e0" stroke-width="1.6"/>
<line x1="83.2" y1="223.1" x2="83.2" y2="241.7" stroke="#6a82e0" stroke-width="1.4"/>
<line x1="84.8" y1="223.1" x2="84.8" y2="241.7" stroke="#6a82e0" stroke-width="1"/>
<polyline points="98.4,241.7 66.4,241.7 66.4,251.6 98.4,251.6" stroke="#ffffff" stroke-width="1.1" fill="none"/>
<line x1="67.3" y1="282.7" x2="98.4" y2="282.7" stroke="#6a82e0" stroke-width="1.4"/>
<line x1="67.3" y1="287.5" x2="98.4" y2="287.5" stroke="#6a82e0" stroke-width="1.4"/>
<line x1="67.3" y1="292.2" x2="98.4" y2="292.2" stroke="#6a82e0" stroke-width="1.4"/>
<line x1="67.3" y1="296.8" x2="98.4" y2="296.8" stroke="#6a82e0" stroke-width="1.4"/>
<line x1="68" y1="282.4" x2="68" y2="301" stroke="#6a82e0" stroke-width="1.6"/>
<line x1="83.2" y1="282.4" x2="83.2" y2="301" stroke="#6a82e0" stroke-width="1.4"/>
<line x1="84.8" y1="282.4" x2="84.8" y2="301" stroke="#6a82e0" stroke-width="1"/>
<polyline points="98.4,301 66.4,301 66.4,310.9 98.4,310.9" stroke="#ffffff" stroke-width="1.1" fill="none"/>
<line x1="67.3" y1="342" x2="98.4" y2="342" stroke="#6a82e0" stroke-width="1.4"/>
<line x1="67.3" y1="346.8" x2="98.4" y2="346.8" stroke="#6a82e0" stroke-width="1.4"/>
<line x1="67.3" y1="351.5" x2="98.4" y2="351.5" stroke="#6a82e0" stroke-width="1.4"/>
<line x1="67.3" y1="356.1" x2="98.4" y2="356.1" stroke="#6a82e0" stroke-width="1.4"/>
<line x1="68" y1="341.7" x2="68" y2="360.3" stroke="#6a82e0" stroke-width="1.6"/>
<line x1="83.2" y1="341.7" x2="83.2" y2="360.3" stroke="#6a82e0" stroke-width="1.4"/>
<line x1="84.8" y1="341.7" x2="84.8" y2="360.3" stroke="#6a82e0" stroke-width="1"/>
<polyline points="98.4,360.3 66.4,360.3 66.4,370.2 98.4,370.2" stroke="#ffffff" stroke-width="1.1" fill="none"/>
<line x1="104" y1="444.2" x2="962" y2="444.2" stroke="#b0b0b0" stroke-width="1.6"/>
<line x1="968" y1="444.2" x2="1103" y2="444.2" stroke="#b0b0b0" stroke-width="1.6"/>
<line x1="1112" y1="444.2" x2="1366" y2="444.2" stroke="#b0b0b0" stroke-width="1.6"/>
<line x1="98.5" y1="446.6" x2="240" y2="446.6" stroke="#ffffff" stroke-width="1.1"/>
<line x1="968" y1="446.6" x2="1103" y2="446.6" stroke="#ffffff" stroke-width="1.1"/>
<polyline points="98.5,446.6 103.5,446.6 104,444.2" stroke="#ffffff" stroke-width="1" fill="none"/>
<line x1="54" y1="449.6" x2="1370" y2="449.6" stroke="#a8a8a8" stroke-width="1.3"/>
<rect x="239.8" y="440.4" width="9.5" height="9" stroke="#747474" fill="#000" stroke-width="1.4"/>
<rect x="959.3" y="440.4" width="9" height="9" stroke="#747474" fill="#000" stroke-width="1.4"/>
<rect x="1103" y="440.4" width="9" height="9" stroke="#747474" fill="#000" stroke-width="1.4"/>
<rect x="34.5" y="8.5" width="1449.2" height="1032.05" stroke="#00ffff" fill="none" stroke-width="3"/>
<line x1="0" y1="855.3" x2="33" y2="855.3" stroke="#00ffff" stroke-width="1.2"/>
<line x1="7.5" y1="855.3" x2="7.5" y2="1041" stroke="#b0b0b0" stroke-width="1.1"/>
<line x1="16.4" y1="855.3" x2="16.4" y2="1041" stroke="#b0b0b0" stroke-width="1.1"/>
<line x1="25.4" y1="855.3" x2="25.4" y2="1041" stroke="#b0b0b0" stroke-width="1.1"/>
<text x="5.6" y="948" font-size="6.5" fill="#c8c8c8" text-anchor="start" font-family="'Noto Serif CJK SC','Liberation Serif',serif" font-weight="bold" transform="rotate(-90 5.6 948)" letter-spacing="7.6">各专业会签</text>
<text x="13.4" y="914.5" font-size="5.6" fill="#ececec" text-anchor="start" font-family="'Noto Serif CJK SC','Liberation Serif',serif" font-weight="bold" transform="rotate(-90 13.4 914.5)">建筑给排水</text>
<text x="22.4" y="914.5" font-size="5.6" fill="#ececec" text-anchor="start" font-family="'Noto Serif CJK SC','Liberation Serif',serif" font-weight="bold" transform="rotate(-90 22.4 914.5)" letter-spacing="1.4">结构暖通</text>
<text x="32.3" y="914.5" font-size="5.6" fill="#ececec" text-anchor="start" font-family="'Noto Serif CJK SC','Liberation Serif',serif" font-weight="bold" transform="rotate(-90 32.3 914.5)" letter-spacing="1.4">电气总图</text>
<polyline points="162.7,57.1 166.6,61.3 170.5,57.1" stroke="#00ff00" stroke-width="1" fill="none"/>
<line x1="144.8" y1="57.1" x2="170.5" y2="57.1" stroke="#00ff00" stroke-width="1.1"/>
<rect x="146.7" y="50" width="21.9" height="6.3" stroke="none" fill="#00ff00" stroke-width="1"/>
<line x1="162" y1="138.4" x2="174" y2="138.4" stroke="#00ff00" stroke-width="1.1"/>
<polyline points="163.1,134.2 167,138.4 170.9,134.2" stroke="#00ff00" stroke-width="1" fill="none"/>
<line x1="145.2" y1="134.2" x2="170.9" y2="134.2" stroke="#00ff00" stroke-width="1.1"/>
<rect x="147.1" y="127.1" width="21.9" height="6.3" stroke="none" fill="#00ff00" stroke-width="1"/>
<line x1="162" y1="165.3" x2="174" y2="165.3" stroke="#00ff00" stroke-width="1.1"/>
<polyline points="163.1,169.5 167,165.3 170.9,169.5" stroke="#00ff00" stroke-width="1" fill="none"/>
<line x1="145.2" y1="169.5" x2="170.9" y2="169.5" stroke="#00ff00" stroke-width="1.1"/>
<rect x="147.1" y="169.2" width="21.9" height="6.5" stroke="none" fill="#00ff00" stroke-width="1"/>
<line x1="162" y1="197.7" x2="174" y2="197.7" stroke="#00ff00" stroke-width="1.1"/>
<polyline points="163.1,193.5 167,197.7 170.9,193.5" stroke="#00ff00" stroke-width="1" fill="none"/>
<line x1="145.2" y1="193.5" x2="170.9" y2="193.5" stroke="#00ff00" stroke-width="1.1"/>
<rect x="147.1" y="186.4" width="21.9" height="6.3" stroke="none" fill="#00ff00" stroke-width="1"/>
<line x1="162" y1="224.6" x2="174" y2="224.6" stroke="#00ff00" stroke-width="1.1"/>
<polyline points="163.1,228.8 167,224.6 170.9,228.8" stroke="#00ff00" stroke-width="1" fill="none"/>
<line x1="145.2" y1="228.8" x2="170.9" y2="228.8" stroke="#00ff00" stroke-width="1.1"/>
<rect x="147.1" y="228.5" width="21.9" height="6.5" stroke="none" fill="#00ff00" stroke-width="1"/>
<line x1="162" y1="257" x2="174" y2="257" stroke="#00ff00" stroke-width="1.1"/>
<polyline points="163.1,252.8 167,257 170.9,252.8" stroke="#00ff00" stroke-width="1" fill="none"/>
<line x1="145.2" y1="252.8" x2="170.9" y2="252.8" stroke="#00ff00" stroke-width="1.1"/>
<rect x="147.1" y="245.7" width="21.9" height="6.3" stroke="none" fill="#00ff00" stroke-width="1"/>
<line x1="162" y1="283.9" x2="174" y2="283.9" stroke="#00ff00" stroke-width="1.1"/>
<polyline points="163.1,288.1 167,283.9 170.9,288.1" stroke="#00ff00" stroke-width="1" fill="none"/>
<line x1="145.2" y1="288.1" x2="170.9" y2="288.1" stroke="#00ff00" stroke-width="1.1"/>
<rect x="147.1" y="287.8" width="21.9" height="6.5" stroke="none" fill="#00ff00" stroke-width="1"/>
<line x1="162" y1="316.3" x2="174" y2="316.3" stroke="#00ff00" stroke-width="1.1"/>
<polyline points="163.1,312.1 167,316.3 170.9,312.1" stroke="#00ff00" stroke-width="1" fill="none"/>
<line x1="145.2" y1="312.1" x2="170.9" y2="312.1" stroke="#00ff00" stroke-width="1.1"/>
<rect x="147.1" y="305" width="21.9" height="6.3" stroke="none" fill="#00ff00" stroke-width="1"/>
<line x1="162" y1="343.2" x2="174" y2="343.2" stroke="#00ff00" stroke-width="1.1"/>
<polyline points="163.1,347.4 167,343.2 170.9,347.4" stroke="#00ff00" stroke-width="1" fill="none"/>
<line x1="145.2" y1="347.4" x2="170.9" y2="347.4" stroke="#00ff00" stroke-width="1.1"/>
<rect x="147.1" y="347.1" width="21.9" height="6.5" stroke="none" fill="#00ff00" stroke-width="1"/>
<polyline points="142.1,396.5 146,400.7 149.9,396.5" stroke="#00ff00" stroke-width="1" fill="none"/>
<line x1="141.6" y1="396.5" x2="166" y2="396.5" stroke="#00ff00" stroke-width="1.1"/>
<rect x="148.1" y="389.4" width="17.9" height="6.3" stroke="none" fill="#00ff00" stroke-width="1"/>
<line x1="234" y1="375.5" x2="247" y2="375.5" stroke="#00ff00" stroke-width="1.1"/>
<polyline points="235.1,379.7 239,375.5 242.9,379.7" stroke="#00ff00" stroke-width="1" fill="none"/>
<line x1="234.6" y1="379.7" x2="259.2" y2="379.7" stroke="#00ff00" stroke-width="1.1"/>
<rect x="241" y="379.4" width="18.2" height="6.5" stroke="none" fill="#00ff00" stroke-width="1"/>
<line x1="234" y1="393.6" x2="247" y2="393.6" stroke="#00ff00" stroke-width="1.1"/>
<polyline points="235.1,397.8 239,393.6 242.9,397.8" stroke="#00ff00" stroke-width="1" fill="none"/>
<line x1="234.6" y1="397.8" x2="259.2" y2="397.8" stroke="#00ff00" stroke-width="1.1"/>
<rect x="241" y="397.5" width="18.2" height="6.5" stroke="none" fill="#00ff00" stroke-width="1"/>
<polyline points="1006.5,57.1 1010.4,61.3 1014.3,57.1" stroke="#00ff00" stroke-width="1" fill="none"/>
<line x1="987.5" y1="57.1" x2="1014.3" y2="57.1" stroke="#00ff00" stroke-width="1.1"/>
<rect x="989.4" y="50" width="23" height="6.3" stroke="none" fill="#00ff00" stroke-width="1"/>
<polyline points="1002.8,396.2 1006.7,400.4 1010.6,396.2" stroke="#00ff00" stroke-width="1" fill="none"/>
<line x1="1002.3" y1="396.2" x2="1027.1" y2="396.2" stroke="#00ff00" stroke-width="1.1"/>
<rect x="1009.3" y="389.1" width="17.8" height="6.3" stroke="none" fill="#00ff00" stroke-width="1"/>
<polyline points="1302.4,397.9 1306.3,393.7 1310.2,397.9" stroke="#00ff00" stroke-width="1" fill="none"/>
<line x1="1301.9" y1="397.9" x2="1327.5" y2="397.9" stroke="#00ff00" stroke-width="1.1"/>
<rect x="1308.2" y="397.6" width="19.3" height="6.5" stroke="none" fill="#00ff00" stroke-width="1"/>
<line x1="1386.8" y1="101.5" x2="1386.8" y2="449.5" stroke="#00ff00" stroke-width="1.2"/>
<line x1="1398" y1="123" x2="1398" y2="452.8" stroke="#00b000" stroke-width="1.6"/>
<text transform="translate(1384.2 115) rotate(-90) scale(0.85 1)" font-size="8.7" fill="#e0e0e0" text-anchor="middle" font-family="'Liberation Sans',sans-serif">1200</text>
<text transform="translate(1384.2 132.1) rotate(-90) scale(0.85 1)" font-size="8.7" fill="#e0e0e0" text-anchor="middle" font-family="'Liberation Sans',sans-serif">700</text>
<text transform="translate(1384.2 151.9) rotate(-90) scale(0.85 1)" font-size="8.7" fill="#e0e0e0" text-anchor="middle" font-family="'Liberation Sans',sans-serif">1500</text>
<text transform="translate(1384.2 175.25) rotate(-90) scale(0.85 1)" font-size="8.7" fill="#e0e0e0" text-anchor="middle" font-family="'Liberation Sans',sans-serif">1100</text>
<text transform="translate(1384.2 191.5) rotate(-90) scale(0.85 1)" font-size="8.7" fill="#e0e0e0" text-anchor="middle" font-family="'Liberation Sans',sans-serif">700</text>
<text transform="translate(1384.2 211.2) rotate(-90) scale(0.85 1)" font-size="8.7" fill="#e0e0e0" text-anchor="middle" font-family="'Liberation Sans',sans-serif">1500</text>
<text transform="translate(1384.2 234.55) rotate(-90) scale(0.85 1)" font-size="8.7" fill="#e0e0e0" text-anchor="middle" font-family="'Liberation Sans',sans-serif">1100</text>
<text transform="translate(1384.2 250.8) rotate(-90) scale(0.85 1)" font-size="8.7" fill="#e0e0e0" text-anchor="middle" font-family="'Liberation Sans',sans-serif">700</text>
<text transform="translate(1384.2 270.5) rotate(-90) scale(0.85 1)" font-size="8.7" fill="#e0e0e0" text-anchor="middle" font-family="'Liberation Sans',sans-serif">1500</text>
<text transform="translate(1384.2 293.85) rotate(-90) scale(0.85 1)" font-size="8.7" fill="#e0e0e0" text-anchor="middle" font-family="'Liberation Sans',sans-serif">1100</text>
<text transform="translate(1384.2 310.1) rotate(-90) scale(0.85 1)" font-size="8.7" fill="#e0e0e0" text-anchor="middle" font-family="'Liberation Sans',sans-serif">700</text>
<text transform="translate(1384.2 329.8) rotate(-90) scale(0.85 1)" font-size="8.7" fill="#e0e0e0" text-anchor="middle" font-family="'Liberation Sans',sans-serif">1500</text>
<text transform="translate(1384.2 353.15) rotate(-90) scale(0.85 1)" font-size="8.7" fill="#e0e0e0" text-anchor="middle" font-family="'Liberation Sans',sans-serif">1100</text>
<text transform="translate(1384.2 369.35) rotate(-90) scale(0.85 1)" font-size="8.7" fill="#e0e0e0" text-anchor="middle" font-family="'Liberation Sans',sans-serif">700</text>
<text transform="translate(1384.2 384.6) rotate(-90) scale(0.85 1)" font-size="8.7" fill="#e0e0e0" text-anchor="middle" font-family="'Liberation Sans',sans-serif">1000</text>
<text transform="translate(1384.2 418.8) rotate(-90) scale(0.85 1)" font-size="8.7" fill="#e0e0e0" text-anchor="middle" font-family="'Liberation Sans',sans-serif">2800</text>
<line x1="1385.2" y1="105.9" x2="1388.4" y2="102.7" stroke="#00ff00" stroke-width="1.2"/>
<line x1="1382.3" y1="104.3" x2="1389.3" y2="104.3" stroke="#00ff00" stroke-width="0.9"/>
<line x1="1385.2" y1="127.3" x2="1388.4" y2="124.1" stroke="#00ff00" stroke-width="1.2"/>
<line x1="1382.3" y1="125.7" x2="1389.3" y2="125.7" stroke="#00ff00" stroke-width="0.9"/>
<line x1="1385.2" y1="140.1" x2="1388.4" y2="136.9" stroke="#00ff00" stroke-width="1.2"/>
<line x1="1382.3" y1="138.5" x2="1389.3" y2="138.5" stroke="#00ff00" stroke-width="0.9"/>
<line x1="1385.2" y1="166.9" x2="1388.4" y2="163.7" stroke="#00ff00" stroke-width="1.2"/>
<line x1="1382.3" y1="165.3" x2="1389.3" y2="165.3" stroke="#00ff00" stroke-width="0.9"/>
<line x1="1385.2" y1="186.8" x2="1388.4" y2="183.6" stroke="#00ff00" stroke-width="1.2"/>
<line x1="1382.3" y1="185.2" x2="1389.3" y2="185.2" stroke="#00ff00" stroke-width="0.9"/>
<line x1="1385.2" y1="199.4" x2="1388.4" y2="196.2" stroke="#00ff00" stroke-width="1.2"/>
<line x1="1382.3" y1="197.8" x2="1389.3" y2="197.8" stroke="#00ff00" stroke-width="0.9"/>
<line x1="1385.2" y1="226.2" x2="1388.4" y2="223" stroke="#00ff00" stroke-width="1.2"/>
<line x1="1382.3" y1="224.6" x2="1389.3" y2="224.6" stroke="#00ff00" stroke-width="0.9"/>
<line x1="1385.2" y1="246.1" x2="1388.4" y2="242.9" stroke="#00ff00" stroke-width="1.2"/>
<line x1="1382.3" y1="244.5" x2="1389.3" y2="244.5" stroke="#00ff00" stroke-width="0.9"/>
<line x1="1385.2" y1="258.7" x2="1388.4" y2="255.5" stroke="#00ff00" stroke-width="1.2"/>
<line x1="1382.3" y1="257.1" x2="1389.3" y2="257.1" stroke="#00ff00" stroke-width="0.9"/>
<line x1="1385.2" y1="285.5" x2="1388.4" y2="282.3" stroke="#00ff00" stroke-width="1.2"/>
<line x1="1382.3" y1="283.9" x2="1389.3" y2="283.9" stroke="#00ff00" stroke-width="0.9"/>
<line x1="1385.2" y1="305.4" x2="1388.4" y2="302.2" stroke="#00ff00" stroke-width="1.2"/>
<line x1="1382.3" y1="303.8" x2="1389.3" y2="303.8" stroke="#00ff00" stroke-width="0.9"/>
<line x1="1385.2" y1="318" x2="1388.4" y2="314.8" stroke="#00ff00" stroke-width="1.2"/>
<line x1="1382.3" y1="316.4" x2="1389.3" y2="316.4" stroke="#00ff00" stroke-width="0.9"/>
<line x1="1385.2" y1="344.8" x2="1388.4" y2="341.6" stroke="#00ff00" stroke-width="1.2"/>
<line x1="1382.3" y1="343.2" x2="1389.3" y2="343.2" stroke="#00ff00" stroke-width="0.9"/>
<line x1="1385.2" y1="364.7" x2="1388.4" y2="361.5" stroke="#00ff00" stroke-width="1.2"/>
<line x1="1382.3" y1="363.1" x2="1389.3" y2="363.1" stroke="#00ff00" stroke-width="0.9"/>
<line x1="1385.2" y1="377.2" x2="1388.4" y2="374" stroke="#00ff00" stroke-width="1.2"/>
<line x1="1382.3" y1="375.6" x2="1389.3" y2="375.6" stroke="#00ff00" stroke-width="0.9"/>
<line x1="1385.2" y1="395.2" x2="1388.4" y2="392" stroke="#00ff00" stroke-width="1.2"/>
<line x1="1382.3" y1="393.6" x2="1389.3" y2="393.6" stroke="#00ff00" stroke-width="0.9"/>
<line x1="1385.2" y1="445.6" x2="1388.4" y2="442.4" stroke="#00ff00" stroke-width="1.2"/>
<line x1="1382.3" y1="444" x2="1389.3" y2="444" stroke="#00ff00" stroke-width="0.9"/>
<line x1="1385.2" y1="451" x2="1388.4" y2="447.8" stroke="#00ff00" stroke-width="1.2"/>
<line x1="1382.3" y1="449.4" x2="1389.3" y2="449.4" stroke="#00ff00" stroke-width="0.9"/>
<text transform="translate(1396.2 155.45) rotate(-90) scale(0.85 1)" font-size="8.7" fill="#e0e0e0" text-anchor="middle" font-family="'Liberation Sans',sans-serif">3300</text>
<text transform="translate(1396.2 214.85) rotate(-90) scale(0.85 1)" font-size="8.7" fill="#e0e0e0" text-anchor="middle" font-family="'Liberation Sans',sans-serif">3300</text>
<text transform="translate(1396.2 274.15) rotate(-90) scale(0.85 1)" font-size="8.7" fill="#e0e0e0" text-anchor="middle" font-family="'Liberation Sans',sans-serif">3300</text>
<text transform="translate(1396.2 333.45) rotate(-90) scale(0.85 1)" font-size="8.7" fill="#e0e0e0" text-anchor="middle" font-family="'Liberation Sans',sans-serif">3300</text>
<text transform="translate(1396.2 395) rotate(-90) scale(0.85 1)" font-size="8.7" fill="#e0e0e0" text-anchor="middle" font-family="'Liberation Sans',sans-serif">4500</text>
<text transform="translate(1396.3 446.8) rotate(-90) scale(0.85 1)" font-size="8.2" fill="#e0e0e0" text-anchor="middle" font-family="'Liberation Sans',sans-serif">300</text>
<line x1="1396.4" y1="127.3" x2="1399.6" y2="124.1" stroke="#00ff00" stroke-width="1.2"/>
<line x1="1396.4" y1="186.8" x2="1399.6" y2="183.6" stroke="#00ff00" stroke-width="1.2"/>
<line x1="1396.4" y1="246.1" x2="1399.6" y2="242.9" stroke="#00ff00" stroke-width="1.2"/>
<line x1="1396.4" y1="305.4" x2="1399.6" y2="302.2" stroke="#00ff00" stroke-width="1.2"/>
<line x1="1396.4" y1="364.7" x2="1399.6" y2="361.5" stroke="#00ff00" stroke-width="1.2"/>
<line x1="1396.4" y1="445.6" x2="1399.6" y2="442.4" stroke="#00ff00" stroke-width="1.2"/>
<line x1="1396.4" y1="451" x2="1399.6" y2="447.8" stroke="#00ff00" stroke-width="1.2"/>
<line x1="1370" y1="104.3" x2="1435" y2="104.3" stroke="#00ff00" stroke-width="1.2"/>
<polyline points="1415.8,100.1 1419.7,104.3 1423.6,100.1" stroke="#00ff00" stroke-width="1" fill="none"/>
<line x1="1415.3" y1="100.1" x2="1442.1" y2="100.1" stroke="#00ff00" stroke-width="1.1"/>
<rect x="1420.3" y="93" width="21.8" height="6.3" stroke="none" fill="#00ff00" stroke-width="1"/>
<line x1="1370" y1="125.7" x2="1435" y2="125.7" stroke="#00ff00" stroke-width="1.2"/>
<polyline points="1420.6,121.5 1424.5,125.7 1428.4,121.5" stroke="#00ff00" stroke-width="1" fill="none"/>
<line x1="1420.1" y1="121.5" x2="1446.9" y2="121.5" stroke="#00ff00" stroke-width="1.1"/>
<rect x="1425.1" y="115.2" width="21.8" height="7.2" stroke="none" fill="#00ff00" stroke-width="1"/>
<rect x="1404.1" y="118.2" width="15" height="5.8" stroke="none" fill="#00ff00" stroke-width="1"/>
<line x1="1370" y1="185.2" x2="1430" y2="185.2" stroke="#00ff00" stroke-width="1.2"/>
<polyline points="1415.9,181 1419.8,185.2 1423.7,181" stroke="#00ff00" stroke-width="1" fill="none"/>
<line x1="1415.4" y1="181" x2="1442" y2="181" stroke="#00ff00" stroke-width="1.1"/>
<rect x="1420.4" y="174.2" width="21.6" height="7.2" stroke="none" fill="#00ff00" stroke-width="1"/>
<rect x="1400.9" y="176.9" width="8.2" height="5.9" stroke="none" fill="#00ff00" stroke-width="1"/>
<line x1="1370" y1="244.5" x2="1430" y2="244.5" stroke="#00ff00" stroke-width="1.2"/>
<polyline points="1415.9,240.3 1419.8,244.5 1423.7,240.3" stroke="#00ff00" stroke-width="1" fill="none"/>
<line x1="1415.4" y1="240.3" x2="1442" y2="240.3" stroke="#00ff00" stroke-width="1.1"/>
<rect x="1420.4" y="233.5" width="21.6" height="7.2" stroke="none" fill="#00ff00" stroke-width="1"/>
<rect x="1400.9" y="236.2" width="8.2" height="5.9" stroke="none" fill="#00ff00" stroke-width="1"/>
<line x1="1370" y1="303.8" x2="1430" y2="303.8" stroke="#00ff00" stroke-width="1.2"/>
<polyline points="1415.9,299.6 1419.8,303.8 1423.7,299.6" stroke="#00ff00" stroke-width="1" fill="none"/>
<line x1="1415.4" y1="299.6" x2="1442" y2="299.6" stroke="#00ff00" stroke-width="1.1"/>
<rect x="1420.4" y="292.8" width="21.6" height="7.2" stroke="none" fill="#00ff00" stroke-width="1"/>
<rect x="1400.9" y="295.5" width="8.2" height="5.9" stroke="none" fill="#00ff00" stroke-width="1"/>
<line x1="1370" y1="363.1" x2="1430" y2="363.1" stroke="#00ff00" stroke-width="1.2"/>
<polyline points="1415.9,358.9 1419.8,363.1 1423.7,358.9" stroke="#00ff00" stroke-width="1" fill="none"/>
<line x1="1415.4" y1="358.9" x2="1440.2" y2="358.9" stroke="#00ff00" stroke-width="1.1"/>
<rect x="1422.2" y="352.1" width="18" height="6.4" stroke="none" fill="#00ff00" stroke-width="1"/>
<line x1="1415" y1="358.8" x2="1442" y2="358.8" stroke="#00ff00" stroke-width="1.1"/>
<rect x="1400.9" y="354.8" width="8.2" height="5.9" stroke="none" fill="#00ff00" stroke-width="1"/>
<line x1="1370" y1="444" x2="1430" y2="444" stroke="#00ff00" stroke-width="1.2"/>
<polyline points="1416,439.8 1419.9,444 1423.8,439.8" stroke="#00ff00" stroke-width="1" fill="none"/>
<line x1="1415.5" y1="439.8" x2="1443.1" y2="439.8" stroke="#00ff00" stroke-width="1.1"/>
<rect x="1420.5" y="433.4" width="22.6" height="6.6" stroke="none" fill="#00ff00" stroke-width="1"/>
<rect x="1416.8" y="433.2" width="26.2" height="6.1" stroke="none" fill="#00ff00" stroke-width="1"/>
<rect x="1400.9" y="436.1" width="8.2" height="5.7" stroke="none" fill="#00ff00" stroke-width="1"/>
<line x1="1366" y1="449.5" x2="1431" y2="449.5" stroke="#a8a8a8" stroke-width="1.3"/>
<polyline points="1416,453.8 1419.9,449.6 1423.8,453.8" stroke="#00ff00" stroke-width="1" fill="none"/>
<line x1="1415.5" y1="453.8" x2="1442.1" y2="453.8" stroke="#00ff00" stroke-width="1.1"/>
<rect x="1420.5" y="453.5" width="21.6" height="7.2" stroke="none" fill="#00ff00" stroke-width="1"/>
<line x1="100.6" y1="422.2" x2="100.6" y2="457.6" stroke="#00ff00" stroke-width="1.1"/>
<circle cx="100.6" cy="465" r="7.3" stroke="#00ff00" fill="none" stroke-width="1.3"/>
<text x="100.6" y="469.5" font-size="12.5" fill="#e0e0e0" text-anchor="middle" font-family="'Liberation Serif','Noto Serif CJK SC',serif" font-weight="bold">1</text>
<polyline points="1256.4,422 1256.4,456 1254.6,460" stroke="#00ff00" stroke-width="1.1" fill="none"/>
<polyline points="1261.5,422 1261.5,456 1263.6,460" stroke="#00ff00" stroke-width="1.3" fill="none"/>
<circle cx="1249.6" cy="465" r="7.3" stroke="#00ff00" fill="none" stroke-width="1.3"/>
<text x="1249.6" y="469.5" font-size="12.5" fill="#e0e0e0" text-anchor="middle" font-family="'Liberation Serif','Noto Serif CJK SC',serif" font-weight="bold">9</text>
<circle cx="1269.3" cy="465" r="7.3" stroke="#00ff00" fill="none" stroke-width="1.3"/>
<text x="1269.3" y="469.14" font-size="11.5" fill="#e0e0e0" text-anchor="middle" font-family="'Liberation Serif','Noto Serif CJK SC',serif" font-weight="bold">10</text>
<line x1="1362.6" y1="421.8" x2="1362.6" y2="457.6" stroke="#00ff00" stroke-width="1.1"/>
<circle cx="1362.7" cy="465" r="7.3" stroke="#00ff00" fill="none" stroke-width="1.3"/>
<text x="1362.7" y="469.32" font-size="12" fill="#e0e0e0" text-anchor="middle" font-family="'Liberation Serif','Noto Serif CJK SC',serif" font-weight="bold">K</text>
<text x="114.3" y="38.8" font-size="7.1" fill="#f0f0f0" text-anchor="start" font-family="'Noto Serif CJK SC','Liberation Serif',serif" font-weight="bold">深蓝色外墙涂料</text>
<line x1="112.2" y1="41.1" x2="152" y2="41.1" stroke="#d8d8d8" stroke-width="1.1"/>
<line x1="112.5" y1="41.1" x2="112.5" y2="381.4" stroke="#e0e0e0" stroke-width="1.1"/>
<rect x="111.4" y="176" width="2.2" height="2.2" stroke="none" fill="#ffffff" stroke-width="1"/>
<rect x="111.4" y="380.3" width="2.2" height="2.2" stroke="none" fill="#ffffff" stroke-width="1"/>
<text x="55.4" y="81.8" font-size="7.1" fill="#f0f0f0" text-anchor="start" font-family="'Noto Serif CJK SC','Liberation Serif',serif" font-weight="bold">蓝色外墙涂料</text>
<line x1="54.2" y1="84.3" x2="87.7" y2="84.3" stroke="#d8d8d8" stroke-width="1.1"/>
<line x1="87.6" y1="84.3" x2="87.6" y2="187.8" stroke="#e0e0e0" stroke-width="1.1"/>
<rect x="86.5" y="127.8" width="2.2" height="2.2" stroke="none" fill="#ffffff" stroke-width="1"/>
<rect x="86.5" y="186.7" width="2.2" height="2.2" stroke="none" fill="#ffffff" stroke-width="1"/>
<text x="391.5" y="81.8" font-size="7.1" fill="#f0f0f0" text-anchor="start" font-family="'Noto Serif CJK SC','Liberation Serif',serif" font-weight="bold">白色外墙涂料</text>
<line x1="389.9" y1="84.3" x2="423.4" y2="84.3" stroke="#d8d8d8" stroke-width="1.1"/>
<line x1="390.9" y1="84.3" x2="390.9" y2="236.3" stroke="#e0e0e0" stroke-width="1.1"/>
<rect x="389.8" y="115.7" width="2.2" height="2.2" stroke="none" fill="#ffffff" stroke-width="1"/>
<rect x="389.8" y="133.8" width="2.2" height="2.2" stroke="none" fill="#ffffff" stroke-width="1"/>
<rect x="389.8" y="235.2" width="2.2" height="2.2" stroke="none" fill="#ffffff" stroke-width="1"/>
<text x="505.7" y="81.8" font-size="7.1" fill="#f0f0f0" text-anchor="start" font-family="'Noto Serif CJK SC','Liberation Serif',serif" font-weight="bold">灰色外墙涂料</text>
<line x1="505.4" y1="84.3" x2="538.6" y2="84.3" stroke="#d8d8d8" stroke-width="1.1"/>
<line x1="506.1" y1="84.3" x2="506.1" y2="236.3" stroke="#e0e0e0" stroke-width="1.1"/>
<rect x="505" y="174.6" width="2.2" height="2.2" stroke="none" fill="#ffffff" stroke-width="1"/>
<rect x="505" y="235.2" width="2.2" height="2.2" stroke="none" fill="#ffffff" stroke-width="1"/>
<text x="822.3" y="81.8" font-size="7.1" fill="#f0f0f0" text-anchor="start" font-family="'Noto Serif CJK SC','Liberation Serif',serif" font-weight="bold">蓝色外墙涂料</text>
<line x1="821.4" y1="84.3" x2="854.8" y2="84.3" stroke="#d8d8d8" stroke-width="1.1"/>
<line x1="822" y1="84.3" x2="822" y2="247" stroke="#e0e0e0" stroke-width="1.1"/>
<rect x="820.9" y="126.1" width="2.2" height="2.2" stroke="none" fill="#ffffff" stroke-width="1"/>
<rect x="820.9" y="185" width="2.2" height="2.2" stroke="none" fill="#ffffff" stroke-width="1"/>
<rect x="820.9" y="245.9" width="2.2" height="2.2" stroke="none" fill="#ffffff" stroke-width="1"/>
<text x="938.4" y="38.6" font-size="7.1" fill="#f0f0f0" text-anchor="start" font-family="'Noto Serif CJK SC','Liberation Serif',serif" font-weight="bold">深蓝色外墙涂料</text>
<line x1="937.2" y1="40.9" x2="975.5" y2="40.9" stroke="#d8d8d8" stroke-width="1.1"/>
<line x1="975.5" y1="40.9" x2="975.5" y2="392" stroke="#e0e0e0" stroke-width="1.1"/>
<rect x="974.4" y="144.4" width="2.2" height="2.2" stroke="none" fill="#ffffff" stroke-width="1"/>
<rect x="974.4" y="390.9" width="2.2" height="2.2" stroke="none" fill="#ffffff" stroke-width="1"/>
<text x="1227.3" y="82" font-size="7.1" fill="#f0f0f0" text-anchor="start" font-family="'Noto Serif CJK SC','Liberation Serif',serif" font-weight="bold">灰色外墙涂料</text>
<line x1="1227" y1="84.5" x2="1260.7" y2="84.5" stroke="#d8d8d8" stroke-width="1.1"/>
<line x1="1228.1" y1="84.5" x2="1228.1" y2="235.8" stroke="#e0e0e0" stroke-width="1.1"/>
<rect x="1227" y="175" width="2.2" height="2.2" stroke="none" fill="#ffffff" stroke-width="1"/>
<rect x="1227" y="234.7" width="2.2" height="2.2" stroke="none" fill="#ffffff" stroke-width="1"/>
<text x="376.5" y="460.6" font-size="7.1" fill="#f0f0f0" text-anchor="start" font-family="'Noto Serif CJK SC','Liberation Serif',serif" font-weight="bold">白色外墙涂料</text>
<line x1="374.8" y1="462.6" x2="411.6" y2="462.6" stroke="#d8d8d8" stroke-width="1.1"/>
<line x1="411.6" y1="428.1" x2="411.6" y2="462.6" stroke="#e0e0e0" stroke-width="1.1"/>
<rect x="410.6" y="427.1" width="2" height="2.2" stroke="none" fill="#ffffff" stroke-width="1"/>
<text x="511.8" y="460.6" font-size="7.1" fill="#f0f0f0" text-anchor="start" font-family="'Noto Serif CJK SC','Liberation Serif',serif" font-weight="bold">深色仿石材面砖</text>
<line x1="510.1" y1="462.6" x2="561.3" y2="462.6" stroke="#d8d8d8" stroke-width="1.1"/>
<line x1="561.3" y1="446.8" x2="561.3" y2="462.6" stroke="#e0e0e0" stroke-width="1.1"/>
<rect x="560.3" y="446" width="2" height="2" stroke="none" fill="#ffffff" stroke-width="1"/>
<circle cx="661" cy="480.5" r="4.6" stroke="#00ff00" fill="none" stroke-width="1.4"/>
<text x="661" y="483.2" font-size="7.5" fill="#e8e8e8" text-anchor="middle" font-family="'Liberation Serif','Noto Serif CJK SC',serif" font-weight="bold">1</text>
<circle cx="679.8" cy="480.5" r="4.6" stroke="#00ff00" fill="none" stroke-width="1.4"/>
<text x="679.8" y="483.2" font-size="7.5" fill="#e8e8e8" text-anchor="middle" font-family="'Liberation Serif','Noto Serif CJK SC',serif" font-weight="bold">9</text>
<line x1="666" y1="480.5" x2="674.6" y2="480.5" stroke="#00ff00" stroke-width="1.3"/>
<text x="690" y="485.3" font-size="10.6" fill="#ffffff" text-anchor="start" font-family="'Liberation Sans','Noto Sans CJK SC',sans-serif" font-weight="400" letter-spacing="1.3">立面图</text>
<rect x="655.1" y="486.9" width="74" height="2.4" stroke="none" fill="#00e0e0" stroke-width="1"/>
<line x1="655.1" y1="489.8" x2="729.1" y2="489.8" stroke="#909090" stroke-width="0.8"/>
<circle cx="660.3" cy="495.6" r="4.1" stroke="#00ff00" fill="none" stroke-width="1.4"/>
<text x="660.3" y="497.94" font-size="6.5" fill="#e8e8e8" text-anchor="middle" font-family="'Liberation Serif','Noto Serif CJK SC',serif" font-weight="bold">9</text>
<circle cx="675.9" cy="495.6" r="4.1" stroke="#00ff00" fill="none" stroke-width="1.4"/>
<text x="675.9" y="497.94" font-size="6.5" fill="#e8e8e8" text-anchor="middle" font-family="'Liberation Serif','Noto Serif CJK SC',serif" font-weight="bold">1</text>
<line x1="664.8" y1="495.6" x2="671.4" y2="495.6" stroke="#00ff00" stroke-width="1.3"/>
<text x="681" y="498.8" font-size="8.4" fill="#c8c8c8" text-anchor="start" font-family="'Noto Serif CJK SC','Liberation Serif',serif" font-weight="normal" letter-spacing="0.45">立面参此图</text>
<polyline points="157.7,842.2 157.7,535.1 218.7,535.1" stroke="#ffffff" stroke-width="1.2" fill="none"/>
<polyline points="161.4,842.2 161.4,538.6 218.7,538.6" stroke="#ffffff" stroke-width="1.2" fill="none"/>
<line x1="168.5" y1="538.6" x2="168.5" y2="918" stroke="#00ff00" stroke-width="1.1"/>
<line x1="218.7" y1="535.1" x2="218.7" y2="599.2" stroke="#00ff00" stroke-width="1.1"/>
<polyline points="184.3,599.2 184.3,543.3 202.9,543.3 202.9,599.2" stroke="#00ff00" stroke-width="1.1" fill="none"/>
<polyline points="184.6,599.2 188.5,546.5 202.9,543.6" stroke="#00ff00" stroke-width="1" fill="none"/>
<polyline points="342.4,599.2 342.4,535.3 481.5,535.3 481.5,578" stroke="#00ff00" stroke-width="1.2" fill="none"/>
<rect x="171" y="599.2" width="310.7" height="3.3" stroke="none" fill="#868686" stroke-width="1"/>
<line x1="171" y1="599.5" x2="481.7" y2="599.5" stroke="#6f9a9a" stroke-width="0.7"/>
<line x1="171" y1="602.3" x2="481.7" y2="602.3" stroke="#6f9a9a" stroke-width="0.7"/>
<rect x="171" y="658.5" width="310.7" height="3.3" stroke="none" fill="#868686" stroke-width="1"/>
<line x1="171" y1="658.8" x2="481.7" y2="658.8" stroke="#6f9a9a" stroke-width="0.7"/>
<line x1="171" y1="661.6" x2="481.7" y2="661.6" stroke="#6f9a9a" stroke-width="0.7"/>
<rect x="171" y="717.8" width="310.7" height="3.3" stroke="none" fill="#868686" stroke-width="1"/>
<line x1="171" y1="718.1" x2="481.7" y2="718.1" stroke="#6f9a9a" stroke-width="0.7"/>
<line x1="171" y1="720.9" x2="481.7" y2="720.9" stroke="#6f9a9a" stroke-width="0.7"/>
<rect x="171" y="777.1" width="310.7" height="3.3" stroke="none" fill="#868686" stroke-width="1"/>
<line x1="171" y1="777.4" x2="481.7" y2="777.4" stroke="#6f9a9a" stroke-width="0.7"/>
<line x1="171" y1="780.2" x2="481.7" y2="780.2" stroke="#6f9a9a" stroke-width="0.7"/>
<rect x="171" y="836.4" width="310.7" height="3.3" stroke="none" fill="#868686" stroke-width="1"/>
<line x1="171" y1="836.7" x2="481.7" y2="836.7" stroke="#6f9a9a" stroke-width="0.7"/>
<line x1="171" y1="839.5" x2="481.7" y2="839.5" stroke="#6f9a9a" stroke-width="0.7"/>
<rect x="162.2" y="917.8" width="319.5" height="3.3" stroke="none" fill="#868686" stroke-width="1"/>
<line x1="162.2" y1="918.1" x2="481.7" y2="918.1" stroke="#6f9a9a" stroke-width="0.7"/>
<rect x="167.8" y="577.6" width="3.4" height="31.9" stroke="none" fill="#868686" stroke-width="1"/>
<rect x="477.2" y="599.2" width="4.5" height="13.4" stroke="none" fill="#868686" stroke-width="1"/>
<rect x="479" y="577.8" width="2.7" height="22.2" stroke="none" fill="#868686" stroke-width="1"/>
<rect x="169.6" y="639.5" width="2.8" height="28.8" stroke="none" fill="#868686" stroke-width="1"/>
<rect x="168.3" y="656.5" width="4.1" height="11.8" stroke="none" fill="#868686" stroke-width="1"/>
<line x1="168.6" y1="639.5" x2="171.8" y2="639.5" stroke="#868686" stroke-width="1"/>
<rect x="478.8" y="639" width="2.9" height="30.8" stroke="none" fill="#868686" stroke-width="1"/>
<rect x="477.2" y="658.5" width="4.5" height="11.3" stroke="none" fill="#868686" stroke-width="1"/>
<line x1="481.3" y1="611.2" x2="481.3" y2="639.5" stroke="#606060" stroke-width="1"/>
<rect x="169.6" y="698.8" width="2.8" height="28.8" stroke="none" fill="#868686" stroke-width="1"/>
<rect x="168.3" y="715.8" width="4.1" height="11.8" stroke="none" fill="#868686" stroke-width="1"/>
<line x1="168.6" y1="698.8" x2="171.8" y2="698.8" stroke="#868686" stroke-width="1"/>
<rect x="478.8" y="698.3" width="2.9" height="30.8" stroke="none" fill="#868686" stroke-width="1"/>
<rect x="477.2" y="717.8" width="4.5" height="11.3" stroke="none" fill="#868686" stroke-width="1"/>
<line x1="481.3" y1="670.5" x2="481.3" y2="698.8" stroke="#606060" stroke-width="1"/>
<rect x="169.6" y="758.1" width="2.8" height="28.8" stroke="none" fill="#868686" stroke-width="1"/>
<rect x="168.3" y="775.1" width="4.1" height="11.8" stroke="none" fill="#868686" stroke-width="1"/>
<line x1="168.6" y1="758.1" x2="171.8" y2="758.1" stroke="#868686" stroke-width="1"/>
<rect x="478.8" y="757.6" width="2.9" height="30.8" stroke="none" fill="#868686" stroke-width="1"/>
<rect x="477.2" y="777.1" width="4.5" height="11.3" stroke="none" fill="#868686" stroke-width="1"/>
<line x1="481.3" y1="729.8" x2="481.3" y2="758.1" stroke="#606060" stroke-width="1"/>
<rect x="169.6" y="817.4" width="2.8" height="28.8" stroke="none" fill="#868686" stroke-width="1"/>
<rect x="168.3" y="834.4" width="4.1" height="11.8" stroke="none" fill="#868686" stroke-width="1"/>
<line x1="168.6" y1="817.4" x2="171.8" y2="817.4" stroke="#868686" stroke-width="1"/>
<rect x="478.8" y="816.9" width="2.9" height="30.8" stroke="none" fill="#868686" stroke-width="1"/>
<rect x="477.2" y="836.4" width="4.5" height="11.3" stroke="none" fill="#868686" stroke-width="1"/>
<line x1="481.3" y1="789.1" x2="481.3" y2="817.4" stroke="#606060" stroke-width="1"/>
<rect x="207.6" y="602.5" width="4.5" height="11.6" stroke="none" fill="#868686" stroke-width="1"/>
<rect x="207.6" y="614.1" width="4.5" height="44.4" stroke="none" fill="#505000" stroke-width="1"/>
<line x1="207.6" y1="614.1" x2="207.6" y2="658.5" stroke="#f0f000" stroke-width="0.8"/>
<line x1="209.85" y1="614.1" x2="209.85" y2="658.5" stroke="#f0f000" stroke-width="0.8"/>
<line x1="212.1" y1="614.1" x2="212.1" y2="658.5" stroke="#f0f000" stroke-width="0.8"/>
<rect x="302.9" y="602.5" width="4.4" height="11.6" stroke="none" fill="#868686" stroke-width="1"/>
<rect x="302.9" y="614.1" width="4.4" height="44.4" stroke="none" fill="#505000" stroke-width="1"/>
<line x1="302.9" y1="614.1" x2="302.9" y2="658.5" stroke="#f0f000" stroke-width="0.8"/>
<line x1="305.1" y1="614.1" x2="305.1" y2="658.5" stroke="#f0f000" stroke-width="0.8"/>
<line x1="307.3" y1="614.1" x2="307.3" y2="658.5" stroke="#f0f000" stroke-width="0.8"/>
<rect x="342.3" y="602.5" width="4.5" height="11.6" stroke="none" fill="#868686" stroke-width="1"/>
<rect x="342.3" y="614.1" width="4.5" height="44.4" stroke="none" fill="#505000" stroke-width="1"/>
<line x1="342.3" y1="614.1" x2="342.3" y2="658.5" stroke="#f0f000" stroke-width="0.8"/>
<line x1="344.55" y1="614.1" x2="344.55" y2="658.5" stroke="#f0f000" stroke-width="0.8"/>
<line x1="346.8" y1="614.1" x2="346.8" y2="658.5" stroke="#f0f000" stroke-width="0.8"/>
<rect x="437.2" y="602.5" width="5.1" height="9" stroke="none" fill="#868686" stroke-width="1"/>
<rect x="437.3" y="611.5" width="4.3" height="47" stroke="none" fill="#7a7a00" stroke-width="1"/>
<line x1="437.3" y1="611.5" x2="437.3" y2="658.5" stroke="#f0f000" stroke-width="0.8"/>
<line x1="439.45" y1="611.5" x2="439.45" y2="658.5" stroke="#f0f000" stroke-width="0.8"/>
<line x1="441.6" y1="611.5" x2="441.6" y2="658.5" stroke="#f0f000" stroke-width="0.8"/>
<polyline points="174.1,659.3 174.1,621.4 187.9,621.4 187.9,659.3" stroke="#f0f000" stroke-width="1.1" fill="none"/>
<polyline points="193.3,659.3 193.3,621.4 206.5,621.4 206.5,659.3" stroke="#f0f000" stroke-width="1.1" fill="none"/>
<polyline points="443.6,659.3 443.6,621.4 456.8,621.4 456.8,659.3" stroke="#f0f000" stroke-width="1.1" fill="none"/>
<polyline points="462.3,659.3 462.3,621.4 475.6,621.4 475.6,659.3" stroke="#f0f000" stroke-width="1.1" fill="none"/>
<rect x="262.9" y="648.3" width="15" height="6" stroke="none" fill="#00ff00" stroke-width="1"/>
<rect x="380" y="648.3" width="15.2" height="6" stroke="none" fill="#00ff00" stroke-width="1"/>
<rect x="207.6" y="661.8" width="4.5" height="11.6" stroke="none" fill="#868686" stroke-width="1"/>
<rect x="207.6" y="673.4" width="4.5" height="44.4" stroke="none" fill="#505000" stroke-width="1"/>
<line x1="207.6" y1="673.4" x2="207.6" y2="717.8" stroke="#f0f000" stroke-width="0.8"/>
<line x1="209.85" y1="673.4" x2="209.85" y2="717.8" stroke="#f0f000" stroke-width="0.8"/>
<line x1="212.1" y1="673.4" x2="212.1" y2="717.8" stroke="#f0f000" stroke-width="0.8"/>
<rect x="302.9" y="661.8" width="4.4" height="11.6" stroke="none" fill="#868686" stroke-width="1"/>
<rect x="302.9" y="673.4" width="4.4" height="44.4" stroke="none" fill="#505000" stroke-width="1"/>
<line x1="302.9" y1="673.4" x2="302.9" y2="717.8" stroke="#f0f000" stroke-width="0.8"/>
<line x1="305.1" y1="673.4" x2="305.1" y2="717.8" stroke="#f0f000" stroke-width="0.8"/>
<line x1="307.3" y1="673.4" x2="307.3" y2="717.8" stroke="#f0f000" stroke-width="0.8"/>
<rect x="342.3" y="661.8" width="4.5" height="11.6" stroke="none" fill="#868686" stroke-width="1"/>
<rect x="342.3" y="673.4" width="4.5" height="44.4" stroke="none" fill="#505000" stroke-width="1"/>
<line x1="342.3" y1="673.4" x2="342.3" y2="717.8" stroke="#f0f000" stroke-width="0.8"/>
<line x1="344.55" y1="673.4" x2="344.55" y2="717.8" stroke="#f0f000" stroke-width="0.8"/>
<line x1="346.8" y1="673.4" x2="346.8" y2="717.8" stroke="#f0f000" stroke-width="0.8"/>
<rect x="437.2" y="661.8" width="5.1" height="9" stroke="none" fill="#868686" stroke-width="1"/>
<rect x="437.3" y="670.8" width="4.3" height="47" stroke="none" fill="#7a7a00" stroke-width="1"/>
<line x1="437.3" y1="670.8" x2="437.3" y2="717.8" stroke="#f0f000" stroke-width="0.8"/>
<line x1="439.45" y1="670.8" x2="439.45" y2="717.8" stroke="#f0f000" stroke-width="0.8"/>
<line x1="441.6" y1="670.8" x2="441.6" y2="717.8" stroke="#f0f000" stroke-width="0.8"/>
<polyline points="174.1,718.6 174.1,680.7 187.9,680.7 187.9,718.6" stroke="#f0f000" stroke-width="1.1" fill="none"/>
<polyline points="193.3,718.6 193.3,680.7 206.5,680.7 206.5,718.6" stroke="#f0f000" stroke-width="1.1" fill="none"/>
<polyline points="443.6,718.6 443.6,680.7 456.8,680.7 456.8,718.6" stroke="#f0f000" stroke-width="1.1" fill="none"/>
<polyline points="462.3,718.6 462.3,680.7 475.6,680.7 475.6,718.6" stroke="#f0f000" stroke-width="1.1" fill="none"/>
<rect x="262.9" y="707.6" width="15" height="6" stroke="none" fill="#00ff00" stroke-width="1"/>
<rect x="380" y="707.6" width="15.2" height="6" stroke="none" fill="#00ff00" stroke-width="1"/>
<rect x="207.6" y="721.1" width="4.5" height="11.6" stroke="none" fill="#868686" stroke-width="1"/>
<rect x="207.6" y="732.7" width="4.5" height="44.4" stroke="none" fill="#505000" stroke-width="1"/>
<line x1="207.6" y1="732.7" x2="207.6" y2="777.1" stroke="#f0f000" stroke-width="0.8"/>
<line x1="209.85" y1="732.7" x2="209.85" y2="777.1" stroke="#f0f000" stroke-width="0.8"/>
<line x1="212.1" y1="732.7" x2="212.1" y2="777.1" stroke="#f0f000" stroke-width="0.8"/>
<rect x="302.9" y="721.1" width="4.4" height="11.6" stroke="none" fill="#868686" stroke-width="1"/>
<rect x="302.9" y="732.7" width="4.4" height="44.4" stroke="none" fill="#505000" stroke-width="1"/>
<line x1="302.9" y1="732.7" x2="302.9" y2="777.1" stroke="#f0f000" stroke-width="0.8"/>
<line x1="305.1" y1="732.7" x2="305.1" y2="777.1" stroke="#f0f000" stroke-width="0.8"/>
<line x1="307.3" y1="732.7" x2="307.3" y2="777.1" stroke="#f0f000" stroke-width="0.8"/>
<rect x="342.3" y="721.1" width="4.5" height="11.6" stroke="none" fill="#868686" stroke-width="1"/>
<rect x="342.3" y="732.7" width="4.5" height="44.4" stroke="none" fill="#505000" stroke-width="1"/>
<line x1="342.3" y1="732.7" x2="342.3" y2="777.1" stroke="#f0f000" stroke-width="0.8"/>
<line x1="344.55" y1="732.7" x2="344.55" y2="777.1" stroke="#f0f000" stroke-width="0.8"/>
<line x1="346.8" y1="732.7" x2="346.8" y2="777.1" stroke="#f0f000" stroke-width="0.8"/>
<rect x="437.2" y="721.1" width="5.1" height="9" stroke="none" fill="#868686" stroke-width="1"/>
<rect x="437.3" y="730.1" width="4.3" height="47" stroke="none" fill="#7a7a00" stroke-width="1"/>
<line x1="437.3" y1="730.1" x2="437.3" y2="777.1" stroke="#f0f000" stroke-width="0.8"/>
<line x1="439.45" y1="730.1" x2="439.45" y2="777.1" stroke="#f0f000" stroke-width="0.8"/>
<line x1="441.6" y1="730.1" x2="441.6" y2="777.1" stroke="#f0f000" stroke-width="0.8"/>
<polyline points="174.1,777.9 174.1,740 187.9,740 187.9,777.9" stroke="#f0f000" stroke-width="1.1" fill="none"/>
<polyline points="193.3,777.9 193.3,740 206.5,740 206.5,777.9" stroke="#f0f000" stroke-width="1.1" fill="none"/>
<polyline points="443.6,777.9 443.6,740 456.8,740 456.8,777.9" stroke="#f0f000" stroke-width="1.1" fill="none"/>
<polyline points="462.3,777.9 462.3,740 475.6,740 475.6,777.9" stroke="#f0f000" stroke-width="1.1" fill="none"/>
<rect x="262.9" y="766.9" width="15" height="6" stroke="none" fill="#00ff00" stroke-width="1"/>
<rect x="380" y="766.9" width="15.2" height="6" stroke="none" fill="#00ff00" stroke-width="1"/>
<rect x="207.6" y="780.4" width="4.5" height="11.6" stroke="none" fill="#868686" stroke-width="1"/>
<rect x="207.6" y="792" width="4.5" height="44.4" stroke="none" fill="#505000" stroke-width="1"/>
<line x1="207.6" y1="792" x2="207.6" y2="836.4" stroke="#f0f000" stroke-width="0.8"/>
<line x1="209.85" y1="792" x2="209.85" y2="836.4" stroke="#f0f000" stroke-width="0.8"/>
<line x1="212.1" y1="792" x2="212.1" y2="836.4" stroke="#f0f000" stroke-width="0.8"/>
<rect x="302.9" y="780.4" width="4.4" height="11.6" stroke="none" fill="#868686" stroke-width="1"/>
<rect x="302.9" y="792" width="4.4" height="44.4" stroke="none" fill="#505000" stroke-width="1"/>
<line x1="302.9" y1="792" x2="302.9" y2="836.4" stroke="#f0f000" stroke-width="0.8"/>
<line x1="305.1" y1="792" x2="305.1" y2="836.4" stroke="#f0f000" stroke-width="0.8"/>
<line x1="307.3" y1="792" x2="307.3" y2="836.4" stroke="#f0f000" stroke-width="0.8"/>
<rect x="342.3" y="780.4" width="4.5" height="11.6" stroke="none" fill="#868686" stroke-width="1"/>
<rect x="342.3" y="792" width="4.5" height="44.4" stroke="none" fill="#505000" stroke-width="1"/>
<line x1="342.3" y1="792" x2="342.3" y2="836.4" stroke="#f0f000" stroke-width="0.8"/>
<line x1="344.55" y1="792" x2="344.55" y2="836.4" stroke="#f0f000" stroke-width="0.8"/>
<line x1="346.8" y1="792" x2="346.8" y2="836.4" stroke="#f0f000" stroke-width="0.8"/>
<rect x="437.2" y="780.4" width="5.1" height="9" stroke="none" fill="#868686" stroke-width="1"/>
<rect x="437.3" y="789.4" width="4.3" height="47" stroke="none" fill="#7a7a00" stroke-width="1"/>
<line x1="437.3" y1="789.4" x2="437.3" y2="836.4" stroke="#f0f000" stroke-width="0.8"/>
<line x1="439.45" y1="789.4" x2="439.45" y2="836.4" stroke="#f0f000" stroke-width="0.8"/>
<line x1="441.6" y1="789.4" x2="441.6" y2="836.4" stroke="#f0f000" stroke-width="0.8"/>
<polyline points="174.1,837.2 174.1,799.3 187.9,799.3 187.9,837.2" stroke="#f0f000" stroke-width="1.1" fill="none"/>
<polyline points="193.3,837.2 193.3,799.3 206.5,799.3 206.5,837.2" stroke="#f0f000" stroke-width="1.1" fill="none"/>
<polyline points="443.6,837.2 443.6,799.3 456.8,799.3 456.8,837.2" stroke="#f0f000" stroke-width="1.1" fill="none"/>
<polyline points="462.3,837.2 462.3,799.3 475.6,799.3 475.6,837.2" stroke="#f0f000" stroke-width="1.1" fill="none"/>
<rect x="262.9" y="826.2" width="15" height="6" stroke="none" fill="#00ff00" stroke-width="1"/>
<rect x="380" y="826.2" width="15.2" height="6" stroke="none" fill="#00ff00" stroke-width="1"/>
<rect x="168.8" y="828.4" width="3.8" height="18.2" stroke="none" fill="#868686" stroke-width="1"/>
<rect x="207.7" y="839.7" width="6" height="11.3" stroke="none" fill="#868686" stroke-width="1"/>
<rect x="208" y="851" width="5.6" height="66.8" stroke="none" fill="#4c4c00" stroke-width="1"/>
<line x1="208" y1="851" x2="208" y2="917.8" stroke="#f0f000" stroke-width="0.8"/>
<line x1="210.8" y1="851" x2="210.8" y2="917.8" stroke="#f0f000" stroke-width="0.8"/>
<line x1="213.6" y1="851" x2="213.6" y2="917.8" stroke="#f0f000" stroke-width="0.8"/>
<rect x="302.8" y="839.7" width="4.5" height="6.1" stroke="none" fill="#868686" stroke-width="1"/>
<rect x="342.3" y="839.7" width="4.5" height="11.3" stroke="none" fill="#868686" stroke-width="1"/>
<rect x="437.8" y="839.7" width="4.6" height="8.7" stroke="none" fill="#868686" stroke-width="1"/>
<rect x="477.3" y="839.7" width="4.4" height="10.3" stroke="none" fill="#868686" stroke-width="1"/>
<line x1="477.6" y1="850" x2="477.6" y2="867.8" stroke="#f0f000" stroke-width="1"/>
<line x1="479.6" y1="850" x2="479.6" y2="867.8" stroke="#f0f000" stroke-width="1"/>
<line x1="481.4" y1="850" x2="481.4" y2="867.8" stroke="#f0f000" stroke-width="1"/>
<line x1="477.7" y1="867.8" x2="477.7" y2="917.8" stroke="#00ffff" stroke-width="1.1"/>
<line x1="481.4" y1="867.8" x2="481.4" y2="917.8" stroke="#00ffff" stroke-width="1.1"/>
<line x1="477.7" y1="867.8" x2="481.4" y2="867.8" stroke="#00ffff" stroke-width="1"/>
<line x1="172.6" y1="846.6" x2="207.7" y2="846.6" stroke="#00ff00" stroke-width="1.1"/>
<line x1="177.3" y1="846.6" x2="177.3" y2="917.8" stroke="#00ff00" stroke-width="1.1"/>
<line x1="220.4" y1="839.7" x2="220.4" y2="917.8" stroke="#00ff00" stroke-width="1.1"/>
<line x1="220.4" y1="849.7" x2="342.3" y2="849.7" stroke="#00ff00" stroke-width="1.1"/>
<line x1="342.8" y1="851" x2="342.8" y2="917.8" stroke="#00ff00" stroke-width="1.1"/>
<line x1="355.4" y1="839.7" x2="355.4" y2="917.8" stroke="#00ff00" stroke-width="1.1"/>
<line x1="355.4" y1="849.7" x2="470.6" y2="849.7" stroke="#00ff00" stroke-width="1.1"/>
<line x1="470.6" y1="839.7" x2="470.6" y2="917.8" stroke="#00ff00" stroke-width="1.1"/>
<rect x="278" y="909" width="15" height="5.9" stroke="none" fill="#00ff00" stroke-width="1"/>
<rect x="376.9" y="909" width="15.1" height="5.9" stroke="none" fill="#00ff00" stroke-width="1"/>
<rect x="207.7" y="921.1" width="6" height="7.1" stroke="none" fill="#868686" stroke-width="1"/>
<rect x="477.3" y="921.1" width="4.4" height="7.1" stroke="none" fill="#868686" stroke-width="1"/>
<polyline points="163,919.4 162.2,921.6 157,921.6 157,924.5 132.1,924.5" stroke="#868686" stroke-width="2.7" fill="none"/>
<rect x="481.7" y="915.3" width="41.1" height="8" stroke="#707070" fill="none" stroke-width="1.1"/>
<rect x="125" y="842.5" width="43.8" height="4.4" stroke="#e8e8e8" fill="none" stroke-width="1"/>
<line x1="126.5" y1="844.5" x2="130.7" y2="844.5" stroke="#ff0000" stroke-width="1.2"/>
<rect x="131.9" y="844.1" width="2.4" height="2.4" stroke="none" fill="#ff0000" stroke-width="1"/>
<line x1="135.5" y1="844.5" x2="139.7" y2="844.5" stroke="#ff0000" stroke-width="1.2"/>
<rect x="140.9" y="844.1" width="2.4" height="2.4" stroke="none" fill="#ff0000" stroke-width="1"/>
<line x1="144.5" y1="844.5" x2="148.7" y2="844.5" stroke="#ff0000" stroke-width="1.2"/>
<rect x="149.9" y="844.1" width="2.4" height="2.4" stroke="none" fill="#ff0000" stroke-width="1"/>
<line x1="153.5" y1="844.5" x2="157.7" y2="844.5" stroke="#ff0000" stroke-width="1.2"/>
<rect x="158.9" y="844.1" width="2.4" height="2.4" stroke="none" fill="#ff0000" stroke-width="1"/>
<line x1="162.5" y1="844.5" x2="166.7" y2="844.5" stroke="#ff0000" stroke-width="1.2"/>
<rect x="481.7" y="839.4" width="30.3" height="4.4" stroke="#707070" fill="none" stroke-width="1"/>
<line x1="483.2" y1="841.4" x2="487.4" y2="841.4" stroke="#ff0000" stroke-width="1.2"/>
<rect x="488.6" y="841" width="2.4" height="2.4" stroke="none" fill="#ff0000" stroke-width="1"/>
<line x1="492.2" y1="841.4" x2="496.4" y2="841.4" stroke="#ff0000" stroke-width="1.2"/>
<rect x="497.6" y="841" width="2.4" height="2.4" stroke="none" fill="#ff0000" stroke-width="1"/>
<line x1="501.2" y1="841.4" x2="505.4" y2="841.4" stroke="#ff0000" stroke-width="1.2"/>
<rect x="506.6" y="841" width="2.4" height="2.4" stroke="none" fill="#ff0000" stroke-width="1"/>
<line x1="170.2" y1="888" x2="170.2" y2="933.8" stroke="#f00000" stroke-width="1" stroke-dasharray="20 3 1.5 3"/>
<line x1="170.2" y1="933.8" x2="170.2" y2="950.5" stroke="#00ff00" stroke-width="1.1"/>
<circle cx="170.2" cy="957.9" r="7.4" stroke="#00ff00" fill="none" stroke-width="1.3"/>
<text x="170.2" y="962.58" font-size="13" fill="#e0e0e0" text-anchor="middle" font-family="'Liberation Serif','Noto Serif CJK SC',serif" font-weight="bold">P</text>
<line x1="168.6" y1="944.8" x2="171.8" y2="941.6" stroke="#00ff00" stroke-width="1.2"/>
<line x1="209.6" y1="906.3" x2="209.6" y2="933.8" stroke="#f00000" stroke-width="1" stroke-dasharray="20 3 1.5 3"/>
<line x1="209.6" y1="933.8" x2="209.6" y2="950.5" stroke="#00ff00" stroke-width="1.1"/>
<circle cx="209.6" cy="957.9" r="7.4" stroke="#00ff00" fill="none" stroke-width="1.3"/>
<text x="209.6" y="962.58" font-size="13" fill="#e0e0e0" text-anchor="middle" font-family="'Liberation Serif','Noto Serif CJK SC',serif" font-weight="bold">N</text>
<line x1="208" y1="944.8" x2="211.2" y2="941.6" stroke="#00ff00" stroke-width="1.2"/>
<line x1="344.5" y1="886" x2="344.5" y2="933.8" stroke="#f00000" stroke-width="1" stroke-dasharray="20 3 1.5 3"/>
<line x1="344.5" y1="933.8" x2="344.5" y2="950.5" stroke="#00ff00" stroke-width="1.1"/>
<circle cx="344.5" cy="957.9" r="7.4" stroke="#00ff00" fill="none" stroke-width="1.3"/>
<text x="344.5" y="962.58" font-size="13" fill="#e0e0e0" text-anchor="middle" font-family="'Liberation Serif','Noto Serif CJK SC',serif" font-weight="bold">M</text>
<line x1="342.9" y1="944.8" x2="346.1" y2="941.6" stroke="#00ff00" stroke-width="1.2"/>
<line x1="479.6" y1="888" x2="479.6" y2="933.8" stroke="#f00000" stroke-width="1" stroke-dasharray="20 3 1.5 3"/>
<line x1="479.6" y1="933.8" x2="479.6" y2="950.5" stroke="#00ff00" stroke-width="1.1"/>
<circle cx="479.6" cy="957.9" r="7.4" stroke="#00ff00" fill="none" stroke-width="1.3"/>
<text x="479.6" y="962.58" font-size="13" fill="#e0e0e0" text-anchor="middle" font-family="'Liberation Serif','Noto Serif CJK SC',serif" font-weight="bold">L</text>
<line x1="478" y1="944.8" x2="481.2" y2="941.6" stroke="#00ff00" stroke-width="1.2"/>
<line x1="167.3" y1="943.2" x2="482.5" y2="943.2" stroke="#00ff00" stroke-width="1.2"/>
<text transform="translate(190 941.2) scale(0.85 1)" font-size="8.7" fill="#e8e8e8" text-anchor="middle" font-family="'Liberation Sans',sans-serif">2200</text>
<text transform="translate(277.1 941.2) scale(0.85 1)" font-size="8.7" fill="#e8e8e8" text-anchor="middle" font-family="'Liberation Sans',sans-serif">7500</text>
<text transform="translate(411.9 941.2) scale(0.85 1)" font-size="8.7" fill="#e8e8e8" text-anchor="middle" font-family="'Liberation Sans',sans-serif">7500</text>
<polyline points="179.1,528.5 185.5,535.1 191.9,528.5" stroke="#00ff00" stroke-width="1.1" fill="none"/>
<line x1="179.1" y1="528.5" x2="217.9" y2="528.5" stroke="#00ff00" stroke-width="1.2"/>
<text x="184.2" y="526.7" font-size="10.4" fill="#00ff00" text-anchor="start" font-family="'Liberation Serif','Noto Serif CJK SC',serif" font-weight="normal" letter-spacing="1.05">21.300</text>
<line x1="540.1" y1="532.5" x2="540.1" y2="926.3" stroke="#00ff00" stroke-width="1.3"/>
<text transform="translate(537.8 556.85) rotate(-90) scale(0.85 1)" font-size="8.7" fill="#e0e0e0" text-anchor="middle" font-family="'Liberation Sans',sans-serif">2400</text>
<text transform="translate(537.8 589.05) rotate(-90) scale(0.85 1)" font-size="8.7" fill="#e0e0e0" text-anchor="middle" font-family="'Liberation Sans',sans-serif">1200</text>
<text transform="translate(537.8 629.35) rotate(-90) scale(0.85 1)" font-size="8.7" fill="#e0e0e0" text-anchor="middle" font-family="'Liberation Sans',sans-serif">3300</text>
<text transform="translate(537.8 688.65) rotate(-90) scale(0.85 1)" font-size="8.7" fill="#e0e0e0" text-anchor="middle" font-family="'Liberation Sans',sans-serif">3300</text>
<text transform="translate(537.8 747.95) rotate(-90) scale(0.85 1)" font-size="8.7" fill="#e0e0e0" text-anchor="middle" font-family="'Liberation Sans',sans-serif">3300</text>
<text transform="translate(537.8 807.25) rotate(-90) scale(0.85 1)" font-size="8.7" fill="#e0e0e0" text-anchor="middle" font-family="'Liberation Sans',sans-serif">3300</text>
<text transform="translate(537.8 877.55) rotate(-90) scale(0.85 1)" font-size="8.7" fill="#e0e0e0" text-anchor="middle" font-family="'Liberation Sans',sans-serif">4500</text>
<text transform="translate(537.8 921) rotate(-90) scale(0.85 1)" font-size="8.2" fill="#e0e0e0" text-anchor="middle" font-family="'Liberation Sans',sans-serif">300</text>
<line x1="538.5" y1="536.9" x2="541.7" y2="533.7" stroke="#00ff00" stroke-width="1.2"/>
<line x1="538.5" y1="580" x2="541.7" y2="576.8" stroke="#00ff00" stroke-width="1.2"/>
<line x1="538.5" y1="601.3" x2="541.7" y2="598.1" stroke="#00ff00" stroke-width="1.2"/>
<line x1="538.5" y1="660.6" x2="541.7" y2="657.4" stroke="#00ff00" stroke-width="1.2"/>
<line x1="538.5" y1="719.9" x2="541.7" y2="716.7" stroke="#00ff00" stroke-width="1.2"/>
<line x1="538.5" y1="779.2" x2="541.7" y2="776" stroke="#00ff00" stroke-width="1.2"/>
<line x1="538.5" y1="838.5" x2="541.7" y2="835.3" stroke="#00ff00" stroke-width="1.2"/>
<line x1="538.5" y1="919.8" x2="541.7" y2="916.6" stroke="#00ff00" stroke-width="1.2"/>
<line x1="538.5" y1="925.1" x2="541.7" y2="921.9" stroke="#00ff00" stroke-width="1.2"/>
<line x1="525.3" y1="535.3" x2="572" y2="535.3" stroke="#00ff00" stroke-width="1.2"/>
<polyline points="562.4,531.1 566.3,535.3 570.2,531.1" stroke="#00ff00" stroke-width="1" fill="none"/>
<line x1="561.9" y1="531.1" x2="589.3" y2="531.1" stroke="#00ff00" stroke-width="1.1"/>
<rect x="566.9" y="524.5" width="22.4" height="6.6" stroke="none" fill="#00ff00" stroke-width="1"/>
<line x1="525.3" y1="578.4" x2="576.8" y2="578.4" stroke="#00ff00" stroke-width="1.2"/>
<polyline points="567.6,574.2 571.5,578.4 575.4,574.2" stroke="#00ff00" stroke-width="1" fill="none"/>
<line x1="567.1" y1="574.2" x2="594.5" y2="574.2" stroke="#00ff00" stroke-width="1.1"/>
<rect x="572.1" y="567.4" width="22.4" height="6.6" stroke="none" fill="#00ff00" stroke-width="1"/>
<line x1="525.3" y1="599.7" x2="576.8" y2="599.7" stroke="#00ff00" stroke-width="1.2"/>
<polyline points="567.6,595.5 571.5,599.7 575.4,595.5" stroke="#00ff00" stroke-width="1" fill="none"/>
<line x1="567.1" y1="595.5" x2="594.5" y2="595.5" stroke="#00ff00" stroke-width="1.1"/>
<rect x="572.1" y="588.9" width="22.4" height="6.8" stroke="none" fill="#00ff00" stroke-width="1"/>
<rect x="551" y="592.1" width="15" height="5.6" stroke="none" fill="#00ff00" stroke-width="1"/>
<line x1="525.3" y1="659" x2="572" y2="659" stroke="#00ff00" stroke-width="1.2"/>
<polyline points="562.4,654.8 566.3,659 570.2,654.8" stroke="#00ff00" stroke-width="1" fill="none"/>
<line x1="561.9" y1="654.8" x2="589.3" y2="654.8" stroke="#00ff00" stroke-width="1.1"/>
<rect x="566.9" y="648.2" width="22.4" height="6.4" stroke="none" fill="#00ff00" stroke-width="1"/>
<rect x="548.1" y="651.6" width="7.8" height="5.8" stroke="none" fill="#00ff00" stroke-width="1"/>
<line x1="525.3" y1="718.3" x2="572" y2="718.3" stroke="#00ff00" stroke-width="1.2"/>
<polyline points="562.4,714.1 566.3,718.3 570.2,714.1" stroke="#00ff00" stroke-width="1" fill="none"/>
<line x1="561.9" y1="714.1" x2="589.3" y2="714.1" stroke="#00ff00" stroke-width="1.1"/>
<rect x="566.9" y="707.5" width="22.4" height="6.4" stroke="none" fill="#00ff00" stroke-width="1"/>
<rect x="548.1" y="710.9" width="7.8" height="5.8" stroke="none" fill="#00ff00" stroke-width="1"/>
<line x1="525.3" y1="777.6" x2="572" y2="777.6" stroke="#00ff00" stroke-width="1.2"/>
<polyline points="562.4,773.4 566.3,777.6 570.2,773.4" stroke="#00ff00" stroke-width="1" fill="none"/>
<line x1="561.9" y1="773.4" x2="589.3" y2="773.4" stroke="#00ff00" stroke-width="1.1"/>
<rect x="566.9" y="766.8" width="22.4" height="6.4" stroke="none" fill="#00ff00" stroke-width="1"/>
<rect x="548.1" y="770.2" width="7.8" height="5.8" stroke="none" fill="#00ff00" stroke-width="1"/>
<line x1="525.3" y1="836.9" x2="572" y2="836.9" stroke="#00ff00" stroke-width="1.2"/>
<polyline points="562.4,832.7 566.3,836.9 570.2,832.7" stroke="#00ff00" stroke-width="1" fill="none"/>
<line x1="561.9" y1="832.7" x2="586.9" y2="832.7" stroke="#00ff00" stroke-width="1.1"/>
<rect x="566.9" y="826" width="20" height="6.2" stroke="none" fill="#00ff00" stroke-width="1"/>
<rect x="567.9" y="825.8" width="19" height="5.8" stroke="none" fill="#00ff00" stroke-width="1"/>
<line x1="562" y1="832.7" x2="588.9" y2="832.7" stroke="#00ff00" stroke-width="1.1"/>
<rect x="548.1" y="829.7" width="7.8" height="5.6" stroke="none" fill="#00ff00" stroke-width="1"/>
<line x1="525.3" y1="918.2" x2="572" y2="918.2" stroke="#00ff00" stroke-width="1.2"/>
<polyline points="562.4,914 566.3,918.2 570.2,914" stroke="#00ff00" stroke-width="1" fill="none"/>
<line x1="561.9" y1="914" x2="588.9" y2="914" stroke="#00ff00" stroke-width="1.1"/>
<rect x="566.9" y="907.1" width="22" height="6.4" stroke="none" fill="#00ff00" stroke-width="1"/>
<rect x="563.9" y="906.9" width="26.1" height="6.1" stroke="none" fill="#00ff00" stroke-width="1"/>
<rect x="548.1" y="910.1" width="7.8" height="5.8" stroke="none" fill="#00ff00" stroke-width="1"/>
<line x1="525.3" y1="923.5" x2="572" y2="923.5" stroke="#00ff00" stroke-width="1.2"/>
<polyline points="562.4,927.7 566.3,923.5 570.2,927.7" stroke="#00ff00" stroke-width="1" fill="none"/>
<line x1="561.9" y1="927.7" x2="588.7" y2="927.7" stroke="#00ff00" stroke-width="1.1"/>
<rect x="566.9" y="927.4" width="21.8" height="6.9" stroke="none" fill="#00ff00" stroke-width="1"/>
<text x="313.4" y="994.8" font-size="10.6" fill="#ffffff" text-anchor="start" font-family="'Liberation Sans','Noto Sans CJK SC',sans-serif" font-weight="400" letter-spacing="0.8">1-1剖面图</text>
<polyline points="768.7,846.2 768.5,535.2 830,535.2 830,578.3" stroke="#ffffff" stroke-width="1.1" fill="none"/>
<polyline points="772.7,846.2 772.5,538.8 830,538.8" stroke="#ffffff" stroke-width="1.1" fill="none"/>
<line x1="779.5" y1="538.8" x2="779.5" y2="578.3" stroke="#ffffff" stroke-width="1.1"/>
<polyline points="795.6,578.3 795.6,543.3 813.6,543.3 813.6,578.3" stroke="#ffffff" stroke-width="1.1" fill="none"/>
<polyline points="795.9,543.6 809.3,546.9 811.6,578.3" stroke="#e0e0e0" stroke-width="1" fill="none"/>
<polyline points="779.5,922.5 779.5,578.3 953.6,578.3 953.6,535.2 1092.5,535.2 1092.5,922.5" stroke="#00d0d0" stroke-width="1.3" fill="none"/>
<rect x="818.7" y="599.7" width="234.4" height="7.8" stroke="#00d0d0" fill="none" stroke-width="1.2"/>
<polyline points="925,637.4 925,611.4 947,611.4 947,637.4" stroke="#f0f000" stroke-width="1.2" fill="none"/>
<line x1="925" y1="621.4" x2="947" y2="621.4" stroke="#f0f000" stroke-width="1.1"/>
<line x1="935.8" y1="621.4" x2="935.8" y2="637.4" stroke="#f0f000" stroke-width="1.1"/>
<rect x="966.3" y="611.4" width="22.4" height="22.1" stroke="#f0f000" fill="none" stroke-width="1.2"/>
<line x1="977.4" y1="611.4" x2="977.4" y2="633.5" stroke="#f0f000" stroke-width="1.1"/>
<line x1="990.1" y1="611.4" x2="1000.9" y2="611.4" stroke="#00ff00" stroke-width="1"/>
<polyline points="991.6,615.6 995.5,611.4 999.4,615.6" stroke="#00ff00" stroke-width="1" fill="none"/>
<line x1="990.1" y1="615.6" x2="1016" y2="615.6" stroke="#00ff00" stroke-width="1"/>
<line x1="990.1" y1="633.5" x2="1000.9" y2="633.5" stroke="#00ff00" stroke-width="1"/>
<polyline points="991.6,629.3 995.5,633.5 999.4,629.3" stroke="#00ff00" stroke-width="1" fill="none"/>
<line x1="990.1" y1="629" x2="1016" y2="629" stroke="#00ff00" stroke-width="1"/>
<rect x="995.3" y="615.6" width="22.7" height="12.3" stroke="none" fill="#00ff00" stroke-width="1"/>
<line x1="818.7" y1="637.8" x2="1053.1" y2="637.8" stroke="#6a82e0" stroke-width="2"/>
<line x1="818.7" y1="643.2" x2="1053.1" y2="643.2" stroke="#6a82e0" stroke-width="1.3"/>
<line x1="818.7" y1="647.5" x2="1053.1" y2="647.5" stroke="#6a82e0" stroke-width="1.3"/>
<line x1="818.7" y1="651.8" x2="1053.1" y2="651.8" stroke="#6a82e0" stroke-width="1.3"/>
<line x1="819.6" y1="637.4" x2="819.6" y2="656.4" stroke="#6a82e0" stroke-width="1.7"/>
<line x1="841" y1="637.4" x2="841" y2="656.4" stroke="#6a82e0" stroke-width="1.7"/>
<line x1="862.55" y1="637.4" x2="862.55" y2="656.4" stroke="#6a82e0" stroke-width="1.7"/>
<line x1="884.1" y1="637.4" x2="884.1" y2="656.4" stroke="#6a82e0" stroke-width="1.7"/>
<line x1="905.65" y1="637.4" x2="905.65" y2="656.4" stroke="#6a82e0" stroke-width="1.7"/>
<line x1="927.2" y1="637.4" x2="927.2" y2="656.4" stroke="#6a82e0" stroke-width="1.7"/>
<line x1="948.75" y1="637.4" x2="948.75" y2="656.4" stroke="#6a82e0" stroke-width="1.7"/>
<line x1="970.3" y1="637.4" x2="970.3" y2="656.4" stroke="#6a82e0" stroke-width="1.7"/>
<line x1="991.85" y1="637.4" x2="991.85" y2="656.4" stroke="#6a82e0" stroke-width="1.7"/>
<line x1="1013.4" y1="637.4" x2="1013.4" y2="656.4" stroke="#6a82e0" stroke-width="1.7"/>
<line x1="1034.95" y1="637.4" x2="1034.95" y2="656.4" stroke="#6a82e0" stroke-width="1.7"/>
<line x1="1052.4" y1="637.4" x2="1052.4" y2="656.4" stroke="#6a82e0" stroke-width="1.7"/>
<rect x="818.4" y="656.5" width="234.9" height="10.1" stroke="#00d0d0" fill="none" stroke-width="1.2"/>
<polyline points="925,696.7 925,670.7 947,670.7 947,696.7" stroke="#f0f000" stroke-width="1.2" fill="none"/>
<line x1="925" y1="680.7" x2="947" y2="680.7" stroke="#f0f000" stroke-width="1.1"/>
<line x1="935.8" y1="680.7" x2="935.8" y2="696.7" stroke="#f0f000" stroke-width="1.1"/>
<rect x="966.3" y="670.7" width="22.4" height="22.1" stroke="#f0f000" fill="none" stroke-width="1.2"/>
<line x1="977.4" y1="670.7" x2="977.4" y2="692.8" stroke="#f0f000" stroke-width="1.1"/>
<line x1="990.1" y1="670.7" x2="1000.9" y2="670.7" stroke="#00ff00" stroke-width="1"/>
<polyline points="991.6,674.9 995.5,670.7 999.4,674.9" stroke="#00ff00" stroke-width="1" fill="none"/>
<line x1="990.1" y1="674.9" x2="1016" y2="674.9" stroke="#00ff00" stroke-width="1"/>
<line x1="990.1" y1="692.8" x2="1000.9" y2="692.8" stroke="#00ff00" stroke-width="1"/>
<polyline points="991.6,688.6 995.5,692.8 999.4,688.6" stroke="#00ff00" stroke-width="1" fill="none"/>
<line x1="990.1" y1="688.3" x2="1016" y2="688.3" stroke="#00ff00" stroke-width="1"/>
<rect x="995.3" y="674.9" width="22.7" height="12.3" stroke="none" fill="#00ff00" stroke-width="1"/>
<line x1="818.7" y1="697.1" x2="1053.1" y2="697.1" stroke="#6a82e0" stroke-width="2"/>
<line x1="818.7" y1="702.5" x2="1053.1" y2="702.5" stroke="#6a82e0" stroke-width="1.3"/>
<line x1="818.7" y1="706.8" x2="1053.1" y2="706.8" stroke="#6a82e0" stroke-width="1.3"/>
<line x1="818.7" y1="711.1" x2="1053.1" y2="711.1" stroke="#6a82e0" stroke-width="1.3"/>
<line x1="819.6" y1="696.7" x2="819.6" y2="715.7" stroke="#6a82e0" stroke-width="1.7"/>
<line x1="841" y1="696.7" x2="841" y2="715.7" stroke="#6a82e0" stroke-width="1.7"/>
<line x1="862.55" y1="696.7" x2="862.55" y2="715.7" stroke="#6a82e0" stroke-width="1.7"/>
<line x1="884.1" y1="696.7" x2="884.1" y2="715.7" stroke="#6a82e0" stroke-width="1.7"/>
<line x1="905.65" y1="696.7" x2="905.65" y2="715.7" stroke="#6a82e0" stroke-width="1.7"/>
<line x1="927.2" y1="696.7" x2="927.2" y2="715.7" stroke="#6a82e0" stroke-width="1.7"/>
<line x1="948.75" y1="696.7" x2="948.75" y2="715.7" stroke="#6a82e0" stroke-width="1.7"/>
<line x1="970.3" y1="696.7" x2="970.3" y2="715.7" stroke="#6a82e0" stroke-width="1.7"/>
<line x1="991.85" y1="696.7" x2="991.85" y2="715.7" stroke="#6a82e0" stroke-width="1.7"/>
<line x1="1013.4" y1="696.7" x2="1013.4" y2="715.7" stroke="#6a82e0" stroke-width="1.7"/>
<line x1="1034.95" y1="696.7" x2="1034.95" y2="715.7" stroke="#6a82e0" stroke-width="1.7"/>
<line x1="1052.4" y1="696.7" x2="1052.4" y2="715.7" stroke="#6a82e0" stroke-width="1.7"/>
<rect x="818.4" y="715.8" width="234.9" height="10.1" stroke="#00d0d0" fill="none" stroke-width="1.2"/>
<polyline points="925,756 925,730 947,730 947,756" stroke="#f0f000" stroke-width="1.2" fill="none"/>
<line x1="925" y1="740" x2="947" y2="740" stroke="#f0f000" stroke-width="1.1"/>
<line x1="935.8" y1="740" x2="935.8" y2="756" stroke="#f0f000" stroke-width="1.1"/>
<rect x="966.3" y="730" width="22.4" height="22.1" stroke="#f0f000" fill="none" stroke-width="1.2"/>
<line x1="977.4" y1="730" x2="977.4" y2="752.1" stroke="#f0f000" stroke-width="1.1"/>
<line x1="990.1" y1="730" x2="1000.9" y2="730" stroke="#00ff00" stroke-width="1"/>
<polyline points="991.6,734.2 995.5,730 999.4,734.2" stroke="#00ff00" stroke-width="1" fill="none"/>
<line x1="990.1" y1="734.2" x2="1016" y2="734.2" stroke="#00ff00" stroke-width="1"/>
<line x1="990.1" y1="752.1" x2="1000.9" y2="752.1" stroke="#00ff00" stroke-width="1"/>
<polyline points="991.6,747.9 995.5,752.1 999.4,747.9" stroke="#00ff00" stroke-width="1" fill="none"/>
<line x1="990.1" y1="747.6" x2="1016" y2="747.6" stroke="#00ff00" stroke-width="1"/>
<rect x="995.3" y="734.4" width="22.7" height="5.4" stroke="none" fill="#00ff00" stroke-width="1"/>
<rect x="997.5" y="741" width="18.5" height="5.2" stroke="none" fill="#00ff00" stroke-width="1"/>
<line x1="818.7" y1="756.4" x2="1053.1" y2="756.4" stroke="#6a82e0" stroke-width="2"/>
<line x1="818.7" y1="761.8" x2="1053.1" y2="761.8" stroke="#6a82e0" stroke-width="1.3"/>
<line x1="818.7" y1="766.1" x2="1053.1" y2="766.1" stroke="#6a82e0" stroke-width="1.3"/>
<line x1="818.7" y1="770.4" x2="1053.1" y2="770.4" stroke="#6a82e0" stroke-width="1.3"/>
<line x1="819.6" y1="756" x2="819.6" y2="775" stroke="#6a82e0" stroke-width="1.7"/>
<line x1="841" y1="756" x2="841" y2="775" stroke="#6a82e0" stroke-width="1.7"/>
<line x1="862.55" y1="756" x2="862.55" y2="775" stroke="#6a82e0" stroke-width="1.7"/>
<line x1="884.1" y1="756" x2="884.1" y2="775" stroke="#6a82e0" stroke-width="1.7"/>
<line x1="905.65" y1="756" x2="905.65" y2="775" stroke="#6a82e0" stroke-width="1.7"/>
<line x1="927.2" y1="756" x2="927.2" y2="775" stroke="#6a82e0" stroke-width="1.7"/>
<line x1="948.75" y1="756" x2="948.75" y2="775" stroke="#6a82e0" stroke-width="1.7"/>
<line x1="970.3" y1="756" x2="970.3" y2="775" stroke="#6a82e0" stroke-width="1.7"/>
<line x1="991.85" y1="756" x2="991.85" y2="775" stroke="#6a82e0" stroke-width="1.7"/>
<line x1="1013.4" y1="756" x2="1013.4" y2="775" stroke="#6a82e0" stroke-width="1.7"/>
<line x1="1034.95" y1="756" x2="1034.95" y2="775" stroke="#6a82e0" stroke-width="1.7"/>
<line x1="1052.4" y1="756" x2="1052.4" y2="775" stroke="#6a82e0" stroke-width="1.7"/>
<rect x="818.4" y="775.1" width="234.9" height="10.1" stroke="#00d0d0" fill="none" stroke-width="1.2"/>
<polyline points="925,815.3 925,789.3 947,789.3 947,815.3" stroke="#f0f000" stroke-width="1.2" fill="none"/>
<line x1="925" y1="799.3" x2="947" y2="799.3" stroke="#f0f000" stroke-width="1.1"/>
<line x1="935.8" y1="799.3" x2="935.8" y2="815.3" stroke="#f0f000" stroke-width="1.1"/>
<rect x="966.3" y="789.3" width="22.4" height="22.1" stroke="#f0f000" fill="none" stroke-width="1.2"/>
<line x1="977.4" y1="789.3" x2="977.4" y2="811.4" stroke="#f0f000" stroke-width="1.1"/>
<line x1="990.1" y1="789.3" x2="1000.9" y2="789.3" stroke="#00ff00" stroke-width="1"/>
<polyline points="991.6,793.5 995.5,789.3 999.4,793.5" stroke="#00ff00" stroke-width="1" fill="none"/>
<line x1="990.1" y1="793.5" x2="1016" y2="793.5" stroke="#00ff00" stroke-width="1"/>
<line x1="990.1" y1="811.4" x2="1000.9" y2="811.4" stroke="#00ff00" stroke-width="1"/>
<polyline points="991.6,807.2 995.5,811.4 999.4,807.2" stroke="#00ff00" stroke-width="1" fill="none"/>
<line x1="990.1" y1="806.9" x2="1016" y2="806.9" stroke="#00ff00" stroke-width="1"/>
<rect x="995.3" y="793.7" width="22.7" height="5.4" stroke="none" fill="#00ff00" stroke-width="1"/>
<rect x="997.5" y="800.3" width="18.5" height="5.2" stroke="none" fill="#00ff00" stroke-width="1"/>
<line x1="822.8" y1="815.7" x2="1053.1" y2="815.7" stroke="#6a82e0" stroke-width="2"/>
<line x1="822.8" y1="821.1" x2="1053.1" y2="821.1" stroke="#6a82e0" stroke-width="1.3"/>
<line x1="822.8" y1="825.4" x2="1053.1" y2="825.4" stroke="#6a82e0" stroke-width="1.3"/>
<line x1="822.8" y1="829.7" x2="1053.1" y2="829.7" stroke="#6a82e0" stroke-width="1.3"/>
<line x1="823.7" y1="815.3" x2="823.7" y2="834.3" stroke="#6a82e0" stroke-width="1.7"/>
<line x1="841" y1="815.3" x2="841" y2="834.3" stroke="#6a82e0" stroke-width="1.7"/>
<line x1="862.55" y1="815.3" x2="862.55" y2="834.3" stroke="#6a82e0" stroke-width="1.7"/>
<line x1="884.1" y1="815.3" x2="884.1" y2="834.3" stroke="#6a82e0" stroke-width="1.7"/>
<line x1="905.65" y1="815.3" x2="905.65" y2="834.3" stroke="#6a82e0" stroke-width="1.7"/>
<line x1="927.2" y1="815.3" x2="927.2" y2="834.3" stroke="#6a82e0" stroke-width="1.7"/>
<line x1="948.75" y1="815.3" x2="948.75" y2="834.3" stroke="#6a82e0" stroke-width="1.7"/>
<line x1="970.3" y1="815.3" x2="970.3" y2="834.3" stroke="#6a82e0" stroke-width="1.7"/>
<line x1="991.85" y1="815.3" x2="991.85" y2="834.3" stroke="#6a82e0" stroke-width="1.7"/>
<line x1="1013.4" y1="815.3" x2="1013.4" y2="834.3" stroke="#6a82e0" stroke-width="1.7"/>
<line x1="1034.95" y1="815.3" x2="1034.95" y2="834.3" stroke="#6a82e0" stroke-width="1.7"/>
<line x1="1052.4" y1="815.3" x2="1052.4" y2="834.3" stroke="#6a82e0" stroke-width="1.7"/>
<rect x="822.5" y="834.4" width="230.8" height="10.1" stroke="#00d0d0" fill="none" stroke-width="1.2"/>
<rect x="841.9" y="848.4" width="22.4" height="22.4" stroke="#f0f000" fill="none" stroke-width="1.2"/>
<line x1="853.1" y1="848.4" x2="853.1" y2="870.8" stroke="#f0f000" stroke-width="1.1"/>
<rect x="883.5" y="848.4" width="22.4" height="22.4" stroke="#f0f000" fill="none" stroke-width="1.2"/>
<line x1="894.7" y1="848.4" x2="894.7" y2="870.8" stroke="#f0f000" stroke-width="1.1"/>
<rect x="925" y="848.4" width="22.4" height="22.4" stroke="#f0f000" fill="none" stroke-width="1.2"/>
<line x1="936.2" y1="848.4" x2="936.2" y2="870.8" stroke="#f0f000" stroke-width="1.1"/>
<rect x="966.2" y="848.4" width="22.2" height="22.4" stroke="#f0f000" fill="none" stroke-width="1.2"/>
<line x1="977.3" y1="848.4" x2="977.3" y2="870.8" stroke="#f0f000" stroke-width="1.1"/>
<line x1="990.1" y1="848.4" x2="1000.9" y2="848.4" stroke="#00ff00" stroke-width="1"/>
<polyline points="991.6,852.6 995.5,848.4 999.4,852.6" stroke="#00ff00" stroke-width="1" fill="none"/>
<line x1="990.1" y1="852.6" x2="1016" y2="852.6" stroke="#00ff00" stroke-width="1"/>
<line x1="990.1" y1="870.8" x2="1000.9" y2="870.8" stroke="#00ff00" stroke-width="1"/>
<polyline points="991.6,866.6 995.5,870.8 999.4,866.6" stroke="#00ff00" stroke-width="1" fill="none"/>
<line x1="990.1" y1="866.4" x2="1016" y2="866.4" stroke="#00ff00" stroke-width="1"/>
<rect x="996.9" y="853" width="19.3" height="12.4" stroke="none" fill="#00ff00" stroke-width="1"/>
<polyline points="788.4,918.4 788.4,849.5 819.1,849.5 819.1,922.4" stroke="#00d0d0" stroke-width="1.2" fill="none"/>
<rect x="736" y="846.2" width="51" height="4.3" stroke="#e8e8e8" fill="none" stroke-width="1"/>
<line x1="737.5" y1="848.15" x2="741.7" y2="848.15" stroke="#ff0000" stroke-width="1.2"/>
<rect x="742.9" y="847.75" width="2.4" height="2.4" stroke="none" fill="#ff0000" stroke-width="1"/>
<line x1="746.5" y1="848.15" x2="750.7" y2="848.15" stroke="#ff0000" stroke-width="1.2"/>
<rect x="751.9" y="847.75" width="2.4" height="2.4" stroke="none" fill="#ff0000" stroke-width="1"/>
<line x1="755.5" y1="848.15" x2="759.7" y2="848.15" stroke="#ff0000" stroke-width="1.2"/>
<rect x="760.9" y="847.75" width="2.4" height="2.4" stroke="none" fill="#ff0000" stroke-width="1"/>
<line x1="764.5" y1="848.15" x2="768.7" y2="848.15" stroke="#ff0000" stroke-width="1.2"/>
<rect x="769.9" y="847.75" width="2.4" height="2.4" stroke="none" fill="#ff0000" stroke-width="1"/>
<line x1="773.5" y1="848.15" x2="777.7" y2="848.15" stroke="#ff0000" stroke-width="1.2"/>
<rect x="778.9" y="847.75" width="2.4" height="2.4" stroke="none" fill="#ff0000" stroke-width="1"/>
<line x1="782.5" y1="848.15" x2="786" y2="848.15" stroke="#ff0000" stroke-width="1.2"/>
<polyline points="779.9,850.5 787,850.5 787,846.2" stroke="#00d0d0" stroke-width="1" fill="none"/>
<rect x="1092.5" y="839.4" width="30.5" height="4.3" stroke="#909090" fill="none" stroke-width="1"/>
<line x1="1094" y1="841.35" x2="1098.2" y2="841.35" stroke="#ff0000" stroke-width="1.2"/>
<rect x="1099.4" y="840.95" width="2.4" height="2.4" stroke="none" fill="#ff0000" stroke-width="1"/>
<line x1="1103" y1="841.35" x2="1107.2" y2="841.35" stroke="#ff0000" stroke-width="1.2"/>
<rect x="1108.4" y="840.95" width="2.4" height="2.4" stroke="none" fill="#ff0000" stroke-width="1"/>
<line x1="1112" y1="841.35" x2="1116.2" y2="841.35" stroke="#ff0000" stroke-width="1.2"/>
<rect x="1117.4" y="840.95" width="2.4" height="2.4" stroke="none" fill="#ff0000" stroke-width="1"/>
<rect x="694.5" y="922.8" width="484.2" height="2.9" stroke="none" fill="#ffffff" stroke-width="1"/>
<line x1="819" y1="918.6" x2="1092.5" y2="918.6" stroke="#c8c8c8" stroke-width="1.1"/>
<polyline points="819,918.5 774.3,918.5 774.3,920.5" stroke="#b0b0b0" stroke-width="1" fill="none"/>
<polyline points="819,920.5 768.3,920.5 768.3,923" stroke="#909090" stroke-width="1" fill="none"/>
<polyline points="1092.5,915 1133.8,915 1133.8,922.8" stroke="#c8c8c8" stroke-width="1.1" fill="none"/>
<line x1="781.3" y1="852" x2="781.3" y2="928.6" stroke="#f00000" stroke-width="1" stroke-dasharray="34.5 3.5 1.5 3.5"/>
<line x1="781.3" y1="928.6" x2="781.3" y2="940" stroke="#00ff00" stroke-width="1.1"/>
<circle cx="781.3" cy="947.5" r="7.5" stroke="#00ff00" fill="none" stroke-width="1.3"/>
<text x="781.3" y="952.36" font-size="13.5" fill="#ffffff" text-anchor="middle" font-family="'Liberation Serif','Noto Serif CJK SC',serif" font-weight="normal">P</text>
<line x1="1090.3" y1="852" x2="1090.3" y2="928.6" stroke="#f00000" stroke-width="1" stroke-dasharray="34.5 3.5 1.5 3.5"/>
<line x1="1090.3" y1="928.6" x2="1090.3" y2="940" stroke="#00ff00" stroke-width="1.1"/>
<circle cx="1090.3" cy="947.5" r="7.5" stroke="#00ff00" fill="none" stroke-width="1.3"/>
<text x="1090.3" y="952.36" font-size="13.5" fill="#ffffff" text-anchor="middle" font-family="'Liberation Serif','Noto Serif CJK SC',serif" font-weight="normal">L</text>
<polyline points="785.1,528.6 791.5,535.2 797.9,528.6" stroke="#00ff00" stroke-width="1.1" fill="none"/>
<line x1="785.1" y1="528.6" x2="823.9" y2="528.6" stroke="#00ff00" stroke-width="1.2"/>
<text x="791.2" y="526.8" font-size="10.4" fill="#00ff00" text-anchor="start" font-family="'Liberation Serif','Noto Serif CJK SC',serif" font-weight="normal" letter-spacing="1.05">21.300</text>
<polyline points="872.5,571.7 878.9,578.3 885.3,571.7" stroke="#00ff00" stroke-width="1.1" fill="none"/>
<line x1="872.5" y1="571.7" x2="912" y2="571.7" stroke="#00ff00" stroke-width="1.2"/>
<text x="878.5" y="569.9" font-size="10.4" fill="#00ff00" text-anchor="start" font-family="'Liberation Serif','Noto Serif CJK SC',serif" font-weight="normal" letter-spacing="1.05">18.900</text>
<text x="860" y="515.6" font-size="7.1" fill="#f0f0f0" text-anchor="start" font-family="'Noto Serif CJK SC','Liberation Serif',serif" font-weight="bold">蓝色外墙涂料</text>
<line x1="858.2" y1="518.1" x2="891.9" y2="518.1" stroke="#d8d8d8" stroke-width="1.1"/>
<line x1="858.5" y1="518.1" x2="858.5" y2="663.4" stroke="#e0e0e0" stroke-width="1.1"/>
<rect x="857.4" y="602.6" width="2.2" height="2.2" stroke="none" fill="#ffffff" stroke-width="1"/>
<rect x="857.4" y="662.3" width="2.2" height="2.2" stroke="none" fill="#ffffff" stroke-width="1"/>
<text x="1074.7" y="515.6" font-size="7.1" fill="#f0f0f0" text-anchor="start" font-family="'Noto Serif CJK SC','Liberation Serif',serif" font-weight="bold">白色外墙涂料</text>
<line x1="1073.2" y1="518.1" x2="1106.5" y2="518.1" stroke="#d8d8d8" stroke-width="1.1"/>
<line x1="1073.6" y1="518.1" x2="1073.6" y2="629" stroke="#e0e0e0" stroke-width="1.1"/>
<rect x="1072.5" y="627.9" width="2.2" height="2.2" stroke="none" fill="#ffffff" stroke-width="1"/>
<text x="925" y="934.5" font-size="7.1" fill="#f0f0f0" text-anchor="start" font-family="'Noto Serif CJK SC','Liberation Serif',serif" font-weight="bold">深色仿石材面砖</text>
<line x1="923.4" y1="936.2" x2="962.6" y2="936.2" stroke="#d8d8d8" stroke-width="1.1"/>
<line x1="962.6" y1="920.7" x2="962.6" y2="936.2" stroke="#e0e0e0" stroke-width="1.1"/>
<rect x="961.5" y="919.6" width="2.2" height="2.2" stroke="none" fill="#ffffff" stroke-width="1"/>
<line x1="1148.7" y1="532.5" x2="1148.7" y2="926.3" stroke="#00ff00" stroke-width="1.3"/>
<text transform="translate(1146.4 567.35) rotate(-90) scale(0.85 1)" font-size="8.7" fill="#e0e0e0" text-anchor="middle" font-family="'Liberation Sans',sans-serif">3600</text>
<text transform="translate(1146.4 629.25) rotate(-90) scale(0.85 1)" font-size="8.7" fill="#e0e0e0" text-anchor="middle" font-family="'Liberation Sans',sans-serif">3300</text>
<text transform="translate(1146.4 688.65) rotate(-90) scale(0.85 1)" font-size="8.7" fill="#e0e0e0" text-anchor="middle" font-family="'Liberation Sans',sans-serif">3300</text>
<text transform="translate(1146.4 747.95) rotate(-90) scale(0.85 1)" font-size="8.7" fill="#e0e0e0" text-anchor="middle" font-family="'Liberation Sans',sans-serif">3300</text>
<text transform="translate(1146.4 807.25) rotate(-90) scale(0.85 1)" font-size="8.7" fill="#e0e0e0" text-anchor="middle" font-family="'Liberation Sans',sans-serif">3300</text>
<text transform="translate(1146.4 877.55) rotate(-90) scale(0.85 1)" font-size="8.7" fill="#e0e0e0" text-anchor="middle" font-family="'Liberation Sans',sans-serif">4500</text>
<text transform="translate(1146.4 921) rotate(-90) scale(0.85 1)" font-size="8.2" fill="#e0e0e0" text-anchor="middle" font-family="'Liberation Sans',sans-serif">300</text>
<line x1="1147.1" y1="536.8" x2="1150.3" y2="533.6" stroke="#00ff00" stroke-width="1.2"/>
<line x1="1147.1" y1="601.1" x2="1150.3" y2="597.9" stroke="#00ff00" stroke-width="1.2"/>
<line x1="1147.1" y1="660.6" x2="1150.3" y2="657.4" stroke="#00ff00" stroke-width="1.2"/>
<line x1="1147.1" y1="719.9" x2="1150.3" y2="716.7" stroke="#00ff00" stroke-width="1.2"/>
<line x1="1147.1" y1="779.2" x2="1150.3" y2="776" stroke="#00ff00" stroke-width="1.2"/>
<line x1="1147.1" y1="838.5" x2="1150.3" y2="835.3" stroke="#00ff00" stroke-width="1.2"/>
<line x1="1147.1" y1="919.8" x2="1150.3" y2="916.6" stroke="#00ff00" stroke-width="1.2"/>
<line x1="1147.1" y1="925.1" x2="1150.3" y2="921.9" stroke="#00ff00" stroke-width="1.2"/>
<line x1="1133.9" y1="535.2" x2="1180.6" y2="535.2" stroke="#00ff00" stroke-width="1.2"/>
<polyline points="1171,531 1174.9,535.2 1178.8,531" stroke="#00ff00" stroke-width="1" fill="none"/>
<line x1="1170.5" y1="531" x2="1197.9" y2="531" stroke="#00ff00" stroke-width="1.1"/>
<rect x="1175.5" y="524.4" width="22.4" height="6.6" stroke="none" fill="#00ff00" stroke-width="1"/>
<line x1="1133.9" y1="599.5" x2="1185.4" y2="599.5" stroke="#00ff00" stroke-width="1.2"/>
<polyline points="1176.2,595.3 1180.1,599.5 1184,595.3" stroke="#00ff00" stroke-width="1" fill="none"/>
<line x1="1175.7" y1="595.3" x2="1203.1" y2="595.3" stroke="#00ff00" stroke-width="1.1"/>
<rect x="1180.7" y="588.7" width="22.4" height="6.8" stroke="none" fill="#00ff00" stroke-width="1"/>
<rect x="1159.9" y="591.9" width="14.5" height="5.6" stroke="none" fill="#00ff00" stroke-width="1"/>
<line x1="1133.9" y1="659" x2="1180.6" y2="659" stroke="#00ff00" stroke-width="1.2"/>
<polyline points="1171,654.8 1174.9,659 1178.8,654.8" stroke="#00ff00" stroke-width="1" fill="none"/>
<line x1="1170.5" y1="654.8" x2="1197.9" y2="654.8" stroke="#00ff00" stroke-width="1.1"/>
<rect x="1175.5" y="648.2" width="22.4" height="6.4" stroke="none" fill="#00ff00" stroke-width="1"/>
<rect x="1156.7" y="651.6" width="7.8" height="5.8" stroke="none" fill="#00ff00" stroke-width="1"/>
<line x1="1133.9" y1="718.3" x2="1180.6" y2="718.3" stroke="#00ff00" stroke-width="1.2"/>
<polyline points="1171,714.1 1174.9,718.3 1178.8,714.1" stroke="#00ff00" stroke-width="1" fill="none"/>
<line x1="1170.5" y1="714.1" x2="1197.9" y2="714.1" stroke="#00ff00" stroke-width="1.1"/>
<rect x="1175.5" y="707.5" width="22.4" height="6.4" stroke="none" fill="#00ff00" stroke-width="1"/>
<rect x="1156.7" y="710.9" width="7.8" height="5.8" stroke="none" fill="#00ff00" stroke-width="1"/>
<line x1="1133.9" y1="777.6" x2="1180.6" y2="777.6" stroke="#00ff00" stroke-width="1.2"/>
<polyline points="1171,773.4 1174.9,777.6 1178.8,773.4" stroke="#00ff00" stroke-width="1" fill="none"/>
<line x1="1170.5" y1="773.4" x2="1197.9" y2="773.4" stroke="#00ff00" stroke-width="1.1"/>
<rect x="1175.5" y="766.8" width="22.4" height="6.4" stroke="none" fill="#00ff00" stroke-width="1"/>
<rect x="1156.7" y="770.2" width="7.8" height="5.8" stroke="none" fill="#00ff00" stroke-width="1"/>
<line x1="1133.9" y1="836.9" x2="1180.6" y2="836.9" stroke="#00ff00" stroke-width="1.2"/>
<polyline points="1171,832.7 1174.9,836.9 1178.8,832.7" stroke="#00ff00" stroke-width="1" fill="none"/>
<line x1="1170.5" y1="832.7" x2="1195.5" y2="832.7" stroke="#00ff00" stroke-width="1.1"/>
<rect x="1175.5" y="826" width="20" height="6.2" stroke="none" fill="#00ff00" stroke-width="1"/>
<rect x="1176.5" y="825.8" width="19" height="5.8" stroke="none" fill="#00ff00" stroke-width="1"/>
<line x1="1170.6" y1="832.7" x2="1197.5" y2="832.7" stroke="#00ff00" stroke-width="1.1"/>
<rect x="1156.7" y="829.7" width="7.8" height="5.6" stroke="none" fill="#00ff00" stroke-width="1"/>
<line x1="1133.9" y1="918.2" x2="1180.6" y2="918.2" stroke="#00ff00" stroke-width="1.2"/>
<polyline points="1171,914 1174.9,918.2 1178.8,914" stroke="#00ff00" stroke-width="1" fill="none"/>
<line x1="1170.5" y1="914" x2="1197.5" y2="914" stroke="#00ff00" stroke-width="1.1"/>
<rect x="1175.5" y="907.1" width="22" height="6.4" stroke="none" fill="#00ff00" stroke-width="1"/>
<rect x="1172.5" y="906.9" width="26.1" height="6.1" stroke="none" fill="#00ff00" stroke-width="1"/>
<rect x="1156.7" y="910.1" width="7.8" height="5.8" stroke="none" fill="#00ff00" stroke-width="1"/>
<line x1="1133.9" y1="923.5" x2="1180.6" y2="923.5" stroke="#00ff00" stroke-width="1.2"/>
<polyline points="1171,927.7 1174.9,923.5 1178.8,927.7" stroke="#00ff00" stroke-width="1" fill="none"/>
<line x1="1170.5" y1="927.7" x2="1197.3" y2="927.7" stroke="#00ff00" stroke-width="1.1"/>
<rect x="1175.5" y="927.4" width="21.8" height="6.9" stroke="none" fill="#00ff00" stroke-width="1"/>
<circle cx="906.6" cy="954.9" r="4.6" stroke="#00ff00" fill="none" stroke-width="1.4"/>
<text x="906.6" y="957.56" font-size="7.4" fill="#e8e8e8" text-anchor="middle" font-family="'Liberation Serif','Noto Serif CJK SC',serif" font-weight="bold">P</text>
<circle cx="925.6" cy="954.9" r="4.6" stroke="#00ff00" fill="none" stroke-width="1.4"/>
<text x="925.6" y="957.56" font-size="7.4" fill="#e8e8e8" text-anchor="middle" font-family="'Liberation Serif','Noto Serif CJK SC',serif" font-weight="bold">L</text>
<line x1="911.4" y1="954.9" x2="920.8" y2="954.9" stroke="#00ff00" stroke-width="1.5"/>
<text x="936" y="959.5" font-size="10.6" fill="#ffffff" text-anchor="start" font-family="'Liberation Sans','Noto Sans CJK SC',sans-serif" font-weight="400" letter-spacing="1.3">立面图</text>
<rect x="900.1" y="961.4" width="75.9" height="2.4" stroke="none" fill="#00e0e0" stroke-width="1"/>
<line x1="900.1" y1="964.3" x2="976" y2="964.3" stroke="#909090" stroke-width="0.9"/>
<circle cx="906.2" cy="970.2" r="4.1" stroke="#00ff00" fill="none" stroke-width="1.4"/>
<text x="906.2" y="972.5" font-size="6.4" fill="#e8e8e8" text-anchor="middle" font-family="'Liberation Serif','Noto Serif CJK SC',serif" font-weight="bold">H</text>
<circle cx="921.3" cy="970.2" r="4.1" stroke="#00ff00" fill="none" stroke-width="1.4"/>
<text x="921.3" y="972.43" font-size="6.2" fill="#e8e8e8" text-anchor="middle" font-family="'Liberation Serif','Noto Serif CJK SC',serif" font-weight="bold">M</text>
<line x1="910.3" y1="970.2" x2="917.2" y2="970.2" stroke="#00ff00" stroke-width="1.5"/>
<text x="927.2" y="973.5" font-size="8.4" fill="#c8c8c8" text-anchor="start" font-family="'Noto Serif CJK SC','Liberation Serif',serif" font-weight="normal" letter-spacing="0.45">立面参此图</text>
<rect x="311.1" y="996.7" width="57.9" height="2.2" stroke="none" fill="#00e0e0" stroke-width="1"/>
<line x1="311.1" y1="999.4" x2="369" y2="999.4" stroke="#909090" stroke-width="0.9"/>
</svg>
</body></html>
